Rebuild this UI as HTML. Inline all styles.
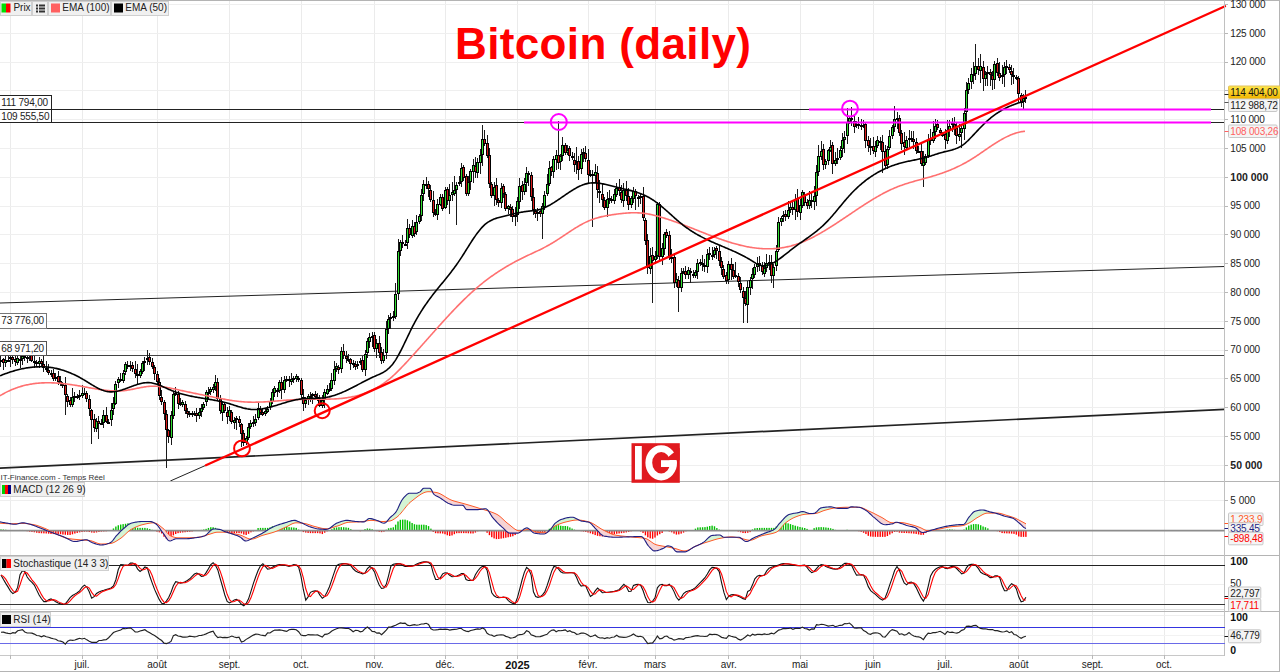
<!DOCTYPE html><html><head><meta charset="utf-8"><style>html,body{margin:0;padding:0;background:#fff;width:1280px;height:672px;overflow:hidden}svg{display:block}text{font-family:"Liberation Sans",sans-serif}</style></head><body>
<svg width="1280" height="672" viewBox="0 0 1280 672">
<g shape-rendering="crispEdges">
<line x1="10.5" y1="0" x2="10.5" y2="655" stroke="#ebebeb" stroke-width="1" />
<line x1="82.5" y1="0" x2="82.5" y2="655" stroke="#ebebeb" stroke-width="1" />
<line x1="157.5" y1="0" x2="157.5" y2="655" stroke="#ebebeb" stroke-width="1" />
<line x1="229.5" y1="0" x2="229.5" y2="655" stroke="#ebebeb" stroke-width="1" />
<line x1="301.5" y1="0" x2="301.5" y2="655" stroke="#ebebeb" stroke-width="1" />
<line x1="374.5" y1="0" x2="374.5" y2="655" stroke="#ebebeb" stroke-width="1" />
<line x1="445.5" y1="0" x2="445.5" y2="655" stroke="#ebebeb" stroke-width="1" />
<line x1="517.5" y1="0" x2="517.5" y2="655" stroke="#ebebeb" stroke-width="1" />
<line x1="588.5" y1="0" x2="588.5" y2="655" stroke="#ebebeb" stroke-width="1" />
<line x1="655.5" y1="0" x2="655.5" y2="655" stroke="#ebebeb" stroke-width="1" />
<line x1="728.5" y1="0" x2="728.5" y2="655" stroke="#ebebeb" stroke-width="1" />
<line x1="800.5" y1="0" x2="800.5" y2="655" stroke="#ebebeb" stroke-width="1" />
<line x1="873.5" y1="0" x2="873.5" y2="655" stroke="#ebebeb" stroke-width="1" />
<line x1="945.5" y1="0" x2="945.5" y2="655" stroke="#ebebeb" stroke-width="1" />
<line x1="1018.5" y1="0" x2="1018.5" y2="655" stroke="#ebebeb" stroke-width="1" />
<line x1="1092.5" y1="0" x2="1092.5" y2="655" stroke="#ebebeb" stroke-width="1" />
<line x1="1164.5" y1="0" x2="1164.5" y2="655" stroke="#ebebeb" stroke-width="1" />
<line x1="0" y1="4.5" x2="1224.5" y2="4.5" stroke="#efefef" stroke-width="1" />
<line x1="0" y1="33.5" x2="1224.5" y2="33.5" stroke="#efefef" stroke-width="1" />
<line x1="0" y1="62.5" x2="1224.5" y2="62.5" stroke="#efefef" stroke-width="1" />
<line x1="0" y1="90.5" x2="1224.5" y2="90.5" stroke="#efefef" stroke-width="1" />
<line x1="0" y1="119.5" x2="1224.5" y2="119.5" stroke="#efefef" stroke-width="1" />
<line x1="0" y1="148.5" x2="1224.5" y2="148.5" stroke="#efefef" stroke-width="1" />
<line x1="0" y1="177.5" x2="1224.5" y2="177.5" stroke="#efefef" stroke-width="1" />
<line x1="0" y1="206.5" x2="1224.5" y2="206.5" stroke="#efefef" stroke-width="1" />
<line x1="0" y1="234.5" x2="1224.5" y2="234.5" stroke="#efefef" stroke-width="1" />
<line x1="0" y1="263.5" x2="1224.5" y2="263.5" stroke="#efefef" stroke-width="1" />
<line x1="0" y1="292.5" x2="1224.5" y2="292.5" stroke="#efefef" stroke-width="1" />
<line x1="0" y1="321.5" x2="1224.5" y2="321.5" stroke="#efefef" stroke-width="1" />
<line x1="0" y1="350.5" x2="1224.5" y2="350.5" stroke="#efefef" stroke-width="1" />
<line x1="0" y1="378.5" x2="1224.5" y2="378.5" stroke="#efefef" stroke-width="1" />
<line x1="0" y1="407.5" x2="1224.5" y2="407.5" stroke="#efefef" stroke-width="1" />
<line x1="0" y1="436.5" x2="1224.5" y2="436.5" stroke="#efefef" stroke-width="1" />
<line x1="0" y1="465.5" x2="1224.5" y2="465.5" stroke="#efefef" stroke-width="1" />
<line x1="0" y1="500.5" x2="1224.5" y2="500.5" stroke="#eeeeee" stroke-width="1" />
<line x1="0" y1="584.5" x2="1224.5" y2="584.5" stroke="#eeeeee" stroke-width="1" />
<line x1="0" y1="615.5" x2="1224.5" y2="615.5" stroke="#eeeeee" stroke-width="1" />
<line x1="0" y1="635.5" x2="1224.5" y2="635.5" stroke="#f2f2f2" stroke-width="1" />
</g>
<g shape-rendering="crispEdges">
<line x1="0" y1="109.5" x2="809" y2="109.5" stroke="#222" stroke-width="1" />
<line x1="0" y1="122.5" x2="524" y2="122.5" stroke="#222" stroke-width="1" />
<line x1="1211" y1="109.5" x2="1224.5" y2="109.5" stroke="#222" stroke-width="1" />
<line x1="1211" y1="122.5" x2="1224.5" y2="122.5" stroke="#222" stroke-width="1" />
<line x1="0" y1="328.5" x2="1224.5" y2="328.5" stroke="#444" stroke-width="1" />
<line x1="0" y1="355.5" x2="1224.5" y2="355.5" stroke="#444" stroke-width="1" />
</g>
<line x1="0" y1="303" x2="1224.5" y2="266.5" stroke="#222" stroke-width="1" />
<line x1="0" y1="468.2" x2="1224.5" y2="409.3" stroke="#222" stroke-width="1.7" />
<line x1="170.3" y1="481" x2="205.9" y2="465.3" stroke="#222" stroke-width="1" />
<path d="M0.5 356V367M3.5 358V370M5.5 352V367M8.5 356V362M10.5 351V367M12.5 352V364M15.5 352V366M17.5 351V365M20.5 352V368M22.5 349V365M24.5 354V361M27.5 350V363M29.5 347V361M31.5 347V362M34.5 355V368M36.5 360V367M39.5 357V368M41.5 359V367M43.5 353V372M46.5 361V372M48.5 364V375M51.5 370V377M53.5 369V381M55.5 373V381M58.5 371V385M60.5 376V386M62.5 382V388M65.5 377V415M67.5 394V407M70.5 397V407M72.5 388V407M74.5 392V402M77.5 394V399M79.5 390V400M82.5 385V398M84.5 388V395M86.5 391V402M89.5 395V416M91.5 409V444M94.5 414V432M96.5 418V432M98.5 416V439M101.5 419V425M103.5 410V428M106.5 407V423M108.5 419V424M111.5 403V426M113.5 397V415M115.5 381V405M118.5 377V388M120.5 373V382M123.5 370V383M125.5 362V375M127.5 361V369M130.5 361V371M132.5 362V372M135.5 361V378M137.5 364V384M140.5 369V378M142.5 361V374M144.5 357V371M147.5 350V365M149.5 353V365M152.5 358V369M154.5 365V380M157.5 371V385M159.5 378V400M161.5 390V405M164.5 400V420M166.5 410V468M168.5 429V443M171.5 411V445M173.5 392V419M175.5 387V396M178.5 391V409M180.5 398V406M182.5 400V407M185.5 401V414M187.5 408V418M189.5 411V417M192.5 411V417M194.5 411V416M196.5 408V422M199.5 408V419M201.5 404V417M203.5 402V410M206.5 390V406M208.5 387V400M210.5 387V395M213.5 384V393M215.5 375V391M217.5 378V401M220.5 395V414M222.5 401V421M224.5 402V413M227.5 407V424M229.5 406V421M231.5 410V424M234.5 417V429M236.5 416V430M239.5 416V427M241.5 423V447M243.5 430V446M246.5 436V445M248.5 423V440M250.5 420V429M253.5 416V427M255.5 414V426M258.5 402V420M260.5 406V415M262.5 408V416M265.5 409V416M267.5 406V413M270.5 398V410M272.5 389V404M274.5 386V397M277.5 388V397M279.5 380V393M281.5 377V399M284.5 376V393M286.5 376V382M289.5 376V387M291.5 373V385M293.5 376V383M296.5 374V382M298.5 376V382M301.5 378V400M303.5 389V411M305.5 397V408M308.5 394V405M310.5 392V402M312.5 393V404M315.5 391V400M317.5 393V401M319.5 395V407M322.5 395V408M324.5 389V408M327.5 385V395M329.5 383V392M331.5 373V391M334.5 361V385M336.5 363V372M338.5 365V374M341.5 347V373M343.5 344V359M346.5 351V363M348.5 354V362M350.5 358V370M353.5 360V368M355.5 361V370M357.5 361V369M360.5 358V365M362.5 356V372M365.5 350V376M367.5 338V358M369.5 333V348M372.5 332V347M374.5 332V352M376.5 339V358M379.5 336V358M381.5 347V364M383.5 349V363M386.5 321V359M388.5 315V334M390.5 313V329M393.5 311V321M395.5 283V319M398.5 239V300M400.5 240V256M402.5 235V248M405.5 240V246M407.5 219V249M409.5 224V238M412.5 220V238M414.5 222V237M416.5 215V235M419.5 214V224M421.5 189V221M423.5 180V201M426.5 177V189M428.5 181V197M430.5 185V202M433.5 191V217M435.5 209V216M437.5 199V220M440.5 194V206M442.5 194V211M445.5 187V209M447.5 187V205M449.5 184V214M452.5 182V201M454.5 176V196M456.5 182V225M459.5 176V186M461.5 163V187M463.5 165V181M466.5 174V196M468.5 176V196M470.5 169V190M473.5 159V183M475.5 157V178M477.5 158V178M480.5 149V174M482.5 125V166M484.5 130V146M487.5 135V158M489.5 148V188M491.5 182V198M494.5 182V206M496.5 178V205M498.5 198V207M501.5 183V208M503.5 184V198M505.5 192V211M508.5 205V214M510.5 204V217M512.5 206V222M515.5 207V226M517.5 197V222M519.5 178V209M522.5 181V200M524.5 178V195M526.5 167V192M528.5 171V186M531.5 172V201M533.5 188V215M535.5 209V218M537.5 208V221M540.5 209V217M542.5 203V239M544.5 191V210M547.5 174V196M549.5 161V186M551.5 166V176M553.5 156V178M556.5 150V170M558.5 121V169M560.5 154V170M562.5 137V161M565.5 143V155M567.5 145V155M569.5 146V161M572.5 152V160M574.5 153V172M576.5 147V174M578.5 156V180M581.5 149V174M583.5 148V162M585.5 146V162M588.5 149V183M590.5 170V177M592.5 170V227M595.5 164V183M597.5 166V198M599.5 180V203M602.5 183V207M604.5 197V210M607.5 192V217M609.5 190V204M611.5 196V203M614.5 189V204M616.5 183V197M619.5 179V196M621.5 185V203M623.5 183V207M626.5 181V201M628.5 188V210M631.5 196V208M633.5 187V203M635.5 189V210M638.5 195V207M640.5 193V204M643.5 187V221M645.5 218V245M647.5 234V274M650.5 248V274M652.5 247V303M655.5 251V264M657.5 202V259M659.5 202V261M662.5 243V265M664.5 232V255M666.5 229V238M669.5 231V260M671.5 249V263M674.5 253V288M676.5 273V287M678.5 276V312M681.5 268V292M683.5 268V274M685.5 266V279M688.5 267V279M690.5 268V283M693.5 270V278M695.5 270V278M697.5 259V279M700.5 259V266M702.5 255V271M704.5 259V272M707.5 249V273M709.5 247V260M712.5 247V260M714.5 247V258M716.5 246V259M719.5 245V266M721.5 257V275M723.5 265V279M726.5 272V284M728.5 261V284M731.5 258V280M733.5 264V279M735.5 262V278M738.5 273V287M740.5 277V293M743.5 287V323M745.5 291V306M747.5 281V323M750.5 277V295M752.5 268V289M754.5 264V278M757.5 257V272M759.5 256V271M762.5 262V275M764.5 262V277M766.5 254V272M769.5 255V270M771.5 255V283M773.5 264V288M776.5 245V271M778.5 217V252M781.5 216V226M783.5 211V222M785.5 210V221M788.5 201V219M790.5 202V213M792.5 200V215M795.5 194V220M797.5 189V217M800.5 199V220M802.5 190V208M804.5 192V206M807.5 199V209M809.5 191V209M811.5 192V208M814.5 186V210M816.5 165V206M818.5 145V176M821.5 141V160M823.5 144V170M825.5 159V169M828.5 149V165M830.5 140V152M832.5 142V174M835.5 152V166M837.5 148V164M840.5 146V160M842.5 133V157M844.5 131V153M847.5 108V144M849.5 116V124M851.5 107V126M854.5 115V133M856.5 121V128M858.5 117V129M861.5 119V130M863.5 120V128M865.5 122V148M868.5 136V152M870.5 138V155M873.5 137V154M875.5 141V157M877.5 136V148M880.5 137V150M882.5 135V173M885.5 145V169M887.5 146V169M889.5 130V150M892.5 125V139M894.5 106V132M897.5 112V129M899.5 115V136M901.5 130V150M904.5 132V155M906.5 136V150M909.5 130V147M911.5 131V142M913.5 131V149M916.5 138V154M918.5 146V153M921.5 142V166M923.5 151V187M925.5 154V165M928.5 134V158M930.5 129V145M933.5 121V143M935.5 119V139M937.5 120V130M940.5 128V135M942.5 132V137M945.5 129V149M947.5 120V144M949.5 120V137M952.5 118V132M954.5 117V135M956.5 122V144M959.5 124V141M961.5 125V148M964.5 108V140M966.5 82V124M968.5 78V94M971.5 68V89M973.5 62V84M975.5 44V80M978.5 58V75M980.5 54V83M983.5 61V91M985.5 71V86M987.5 66V86M990.5 69V86M992.5 71V90M994.5 61V89M997.5 58V76M999.5 62V81M1002.5 65V84M1004.5 62V87M1006.5 60V74M1009.5 64V73M1011.5 65V85M1013.5 68V84M1016.5 75V80M1018.5 76V102M1021.5 93V107M1023.5 94V109M1025.5 90V103" stroke="#1a1a1a" stroke-width="1" fill="none" shape-rendering="crispEdges"/>
<rect x="-0.5" y="360.5" width="2" height="1" fill="#30dc30" stroke="#000" stroke-width="1" shape-rendering="crispEdges"/>
<rect x="2.5" y="359.5" width="2" height="3" fill="#d81c1c" stroke="#000" stroke-width="1" shape-rendering="crispEdges"/>
<rect x="4.5" y="360.5" width="2" height="2" fill="#30dc30" stroke="#000" stroke-width="1" shape-rendering="crispEdges"/>
<rect x="7.5" y="360.5" width="2" height="1" fill="#30dc30" stroke="#000" stroke-width="1" shape-rendering="crispEdges"/>
<rect x="9.5" y="357.5" width="2" height="1" fill="#30dc30" stroke="#000" stroke-width="1" shape-rendering="crispEdges"/>
<rect x="11.5" y="357.5" width="2" height="2" fill="#d81c1c" stroke="#000" stroke-width="1" shape-rendering="crispEdges"/>
<rect x="14.5" y="359.5" width="2" height="2" fill="#d81c1c" stroke="#000" stroke-width="1" shape-rendering="crispEdges"/>
<rect x="16.5" y="358.5" width="2" height="4" fill="#30dc30" stroke="#000" stroke-width="1" shape-rendering="crispEdges"/>
<rect x="19.5" y="359.5" width="2" height="1" fill="#d81c1c" stroke="#000" stroke-width="1" shape-rendering="crispEdges"/>
<rect x="21.5" y="356.5" width="2" height="2" fill="#30dc30" stroke="#000" stroke-width="1" shape-rendering="crispEdges"/>
<rect x="23.5" y="356.5" width="2" height="1" fill="#d81c1c" stroke="#000" stroke-width="1" shape-rendering="crispEdges"/>
<rect x="26.5" y="357.5" width="2" height="1" fill="#30dc30" stroke="#000" stroke-width="1" shape-rendering="crispEdges"/>
<rect x="28.5" y="350.5" width="2" height="5" fill="#30dc30" stroke="#000" stroke-width="1" shape-rendering="crispEdges"/>
<rect x="30.5" y="349.5" width="2" height="11" fill="#d81c1c" stroke="#000" stroke-width="1" shape-rendering="crispEdges"/>
<rect x="33.5" y="361.5" width="2" height="1" fill="#d81c1c" stroke="#000" stroke-width="1" shape-rendering="crispEdges"/>
<rect x="35.5" y="362.5" width="2" height="1" fill="#d81c1c" stroke="#000" stroke-width="1" shape-rendering="crispEdges"/>
<rect x="38.5" y="361.5" width="2" height="2" fill="#30dc30" stroke="#000" stroke-width="1" shape-rendering="crispEdges"/>
<rect x="40.5" y="361.5" width="2" height="2" fill="#d81c1c" stroke="#000" stroke-width="1" shape-rendering="crispEdges"/>
<rect x="42.5" y="364.5" width="2" height="3" fill="#d81c1c" stroke="#000" stroke-width="1" shape-rendering="crispEdges"/>
<rect x="45.5" y="368.5" width="2" height="1" fill="#d81c1c" stroke="#000" stroke-width="1" shape-rendering="crispEdges"/>
<rect x="47.5" y="370.5" width="2" height="2" fill="#d81c1c" stroke="#000" stroke-width="1" shape-rendering="crispEdges"/>
<rect x="50.5" y="373.5" width="2" height="1" fill="#d81c1c" stroke="#000" stroke-width="1" shape-rendering="crispEdges"/>
<rect x="52.5" y="373.5" width="2" height="5" fill="#d81c1c" stroke="#000" stroke-width="1" shape-rendering="crispEdges"/>
<rect x="54.5" y="377.5" width="2" height="1" fill="#30dc30" stroke="#000" stroke-width="1" shape-rendering="crispEdges"/>
<rect x="57.5" y="376.5" width="2" height="5" fill="#d81c1c" stroke="#000" stroke-width="1" shape-rendering="crispEdges"/>
<rect x="59.5" y="381.5" width="2" height="2" fill="#d81c1c" stroke="#000" stroke-width="1" shape-rendering="crispEdges"/>
<rect x="61.5" y="384.5" width="2" height="1" fill="#d81c1c" stroke="#000" stroke-width="1" shape-rendering="crispEdges"/>
<rect x="64.5" y="385.5" width="2" height="9" fill="#d81c1c" stroke="#000" stroke-width="1" shape-rendering="crispEdges"/>
<rect x="66.5" y="396.5" width="2" height="5" fill="#d81c1c" stroke="#000" stroke-width="1" shape-rendering="crispEdges"/>
<rect x="69.5" y="400.5" width="2" height="4" fill="#d81c1c" stroke="#000" stroke-width="1" shape-rendering="crispEdges"/>
<rect x="71.5" y="397.5" width="2" height="7" fill="#30dc30" stroke="#000" stroke-width="1" shape-rendering="crispEdges"/>
<rect x="73.5" y="396.5" width="2" height="1" fill="#30dc30" stroke="#000" stroke-width="1" shape-rendering="crispEdges"/>
<rect x="76.5" y="396.5" width="2" height="1" fill="#d81c1c" stroke="#000" stroke-width="1" shape-rendering="crispEdges"/>
<rect x="78.5" y="395.5" width="2" height="1" fill="#d81c1c" stroke="#000" stroke-width="1" shape-rendering="crispEdges"/>
<rect x="81.5" y="393.5" width="2" height="2" fill="#30dc30" stroke="#000" stroke-width="1" shape-rendering="crispEdges"/>
<rect x="83.5" y="393.5" width="2" height="1" fill="#d81c1c" stroke="#000" stroke-width="1" shape-rendering="crispEdges"/>
<rect x="85.5" y="393.5" width="2" height="5" fill="#d81c1c" stroke="#000" stroke-width="1" shape-rendering="crispEdges"/>
<rect x="88.5" y="399.5" width="2" height="9" fill="#d81c1c" stroke="#000" stroke-width="1" shape-rendering="crispEdges"/>
<rect x="90.5" y="410.5" width="2" height="9" fill="#d81c1c" stroke="#000" stroke-width="1" shape-rendering="crispEdges"/>
<rect x="93.5" y="419.5" width="2" height="8" fill="#d81c1c" stroke="#000" stroke-width="1" shape-rendering="crispEdges"/>
<rect x="95.5" y="421.5" width="2" height="7" fill="#30dc30" stroke="#000" stroke-width="1" shape-rendering="crispEdges"/>
<rect x="97.5" y="421.5" width="2" height="2" fill="#d81c1c" stroke="#000" stroke-width="1" shape-rendering="crispEdges"/>
<rect x="100.5" y="423.5" width="2" height="1" fill="#30dc30" stroke="#000" stroke-width="1" shape-rendering="crispEdges"/>
<rect x="102.5" y="415.5" width="2" height="7" fill="#30dc30" stroke="#000" stroke-width="1" shape-rendering="crispEdges"/>
<rect x="105.5" y="415.5" width="2" height="6" fill="#d81c1c" stroke="#000" stroke-width="1" shape-rendering="crispEdges"/>
<rect x="107.5" y="422.5" width="2" height="1" fill="#30dc30" stroke="#000" stroke-width="1" shape-rendering="crispEdges"/>
<rect x="110.5" y="410.5" width="2" height="9" fill="#30dc30" stroke="#000" stroke-width="1" shape-rendering="crispEdges"/>
<rect x="112.5" y="403.5" width="2" height="5" fill="#30dc30" stroke="#000" stroke-width="1" shape-rendering="crispEdges"/>
<rect x="114.5" y="384.5" width="2" height="19" fill="#30dc30" stroke="#000" stroke-width="1" shape-rendering="crispEdges"/>
<rect x="117.5" y="379.5" width="2" height="3" fill="#30dc30" stroke="#000" stroke-width="1" shape-rendering="crispEdges"/>
<rect x="119.5" y="379.5" width="2" height="1" fill="#d81c1c" stroke="#000" stroke-width="1" shape-rendering="crispEdges"/>
<rect x="122.5" y="373.5" width="2" height="7" fill="#30dc30" stroke="#000" stroke-width="1" shape-rendering="crispEdges"/>
<rect x="124.5" y="364.5" width="2" height="7" fill="#30dc30" stroke="#000" stroke-width="1" shape-rendering="crispEdges"/>
<rect x="126.5" y="365.5" width="2" height="1" fill="#d81c1c" stroke="#000" stroke-width="1" shape-rendering="crispEdges"/>
<rect x="129.5" y="365.5" width="2" height="1" fill="#30dc30" stroke="#000" stroke-width="1" shape-rendering="crispEdges"/>
<rect x="131.5" y="365.5" width="2" height="3" fill="#d81c1c" stroke="#000" stroke-width="1" shape-rendering="crispEdges"/>
<rect x="134.5" y="369.5" width="2" height="4" fill="#d81c1c" stroke="#000" stroke-width="1" shape-rendering="crispEdges"/>
<rect x="136.5" y="374.5" width="2" height="1" fill="#d81c1c" stroke="#000" stroke-width="1" shape-rendering="crispEdges"/>
<rect x="139.5" y="371.5" width="2" height="4" fill="#30dc30" stroke="#000" stroke-width="1" shape-rendering="crispEdges"/>
<rect x="141.5" y="363.5" width="2" height="8" fill="#30dc30" stroke="#000" stroke-width="1" shape-rendering="crispEdges"/>
<rect x="143.5" y="361.5" width="2" height="1" fill="#30dc30" stroke="#000" stroke-width="1" shape-rendering="crispEdges"/>
<rect x="146.5" y="358.5" width="2" height="1" fill="#30dc30" stroke="#000" stroke-width="1" shape-rendering="crispEdges"/>
<rect x="148.5" y="357.5" width="2" height="4" fill="#d81c1c" stroke="#000" stroke-width="1" shape-rendering="crispEdges"/>
<rect x="151.5" y="362.5" width="2" height="4" fill="#d81c1c" stroke="#000" stroke-width="1" shape-rendering="crispEdges"/>
<rect x="153.5" y="367.5" width="2" height="6" fill="#d81c1c" stroke="#000" stroke-width="1" shape-rendering="crispEdges"/>
<rect x="156.5" y="374.5" width="2" height="7" fill="#d81c1c" stroke="#000" stroke-width="1" shape-rendering="crispEdges"/>
<rect x="158.5" y="382.5" width="2" height="13" fill="#d81c1c" stroke="#000" stroke-width="1" shape-rendering="crispEdges"/>
<rect x="160.5" y="397.5" width="2" height="4" fill="#d81c1c" stroke="#000" stroke-width="1" shape-rendering="crispEdges"/>
<rect x="163.5" y="402.5" width="2" height="11" fill="#d81c1c" stroke="#000" stroke-width="1" shape-rendering="crispEdges"/>
<rect x="165.5" y="414.5" width="2" height="15" fill="#d81c1c" stroke="#000" stroke-width="1" shape-rendering="crispEdges"/>
<rect x="167.5" y="430.5" width="2" height="6" fill="#d81c1c" stroke="#000" stroke-width="1" shape-rendering="crispEdges"/>
<rect x="170.5" y="415.5" width="2" height="22" fill="#30dc30" stroke="#000" stroke-width="1" shape-rendering="crispEdges"/>
<rect x="172.5" y="394.5" width="2" height="21" fill="#30dc30" stroke="#000" stroke-width="1" shape-rendering="crispEdges"/>
<rect x="174.5" y="393.5" width="2" height="1" fill="#30dc30" stroke="#000" stroke-width="1" shape-rendering="crispEdges"/>
<rect x="177.5" y="394.5" width="2" height="9" fill="#d81c1c" stroke="#000" stroke-width="1" shape-rendering="crispEdges"/>
<rect x="179.5" y="403.5" width="2" height="1" fill="#d81c1c" stroke="#000" stroke-width="1" shape-rendering="crispEdges"/>
<rect x="181.5" y="402.5" width="2" height="2" fill="#30dc30" stroke="#000" stroke-width="1" shape-rendering="crispEdges"/>
<rect x="184.5" y="404.5" width="2" height="6" fill="#d81c1c" stroke="#000" stroke-width="1" shape-rendering="crispEdges"/>
<rect x="186.5" y="411.5" width="2" height="2" fill="#d81c1c" stroke="#000" stroke-width="1" shape-rendering="crispEdges"/>
<rect x="188.5" y="413.5" width="2" height="1" fill="#d81c1c" stroke="#000" stroke-width="1" shape-rendering="crispEdges"/>
<rect x="191.5" y="413.5" width="2" height="1" fill="#d81c1c" stroke="#000" stroke-width="1" shape-rendering="crispEdges"/>
<rect x="193.5" y="413.5" width="2" height="1" fill="#30dc30" stroke="#000" stroke-width="1" shape-rendering="crispEdges"/>
<rect x="195.5" y="413.5" width="2" height="2" fill="#d81c1c" stroke="#000" stroke-width="1" shape-rendering="crispEdges"/>
<rect x="198.5" y="412.5" width="2" height="3" fill="#30dc30" stroke="#000" stroke-width="1" shape-rendering="crispEdges"/>
<rect x="200.5" y="408.5" width="2" height="3" fill="#30dc30" stroke="#000" stroke-width="1" shape-rendering="crispEdges"/>
<rect x="202.5" y="404.5" width="2" height="3" fill="#30dc30" stroke="#000" stroke-width="1" shape-rendering="crispEdges"/>
<rect x="205.5" y="392.5" width="2" height="9" fill="#30dc30" stroke="#000" stroke-width="1" shape-rendering="crispEdges"/>
<rect x="207.5" y="392.5" width="2" height="1" fill="#30dc30" stroke="#000" stroke-width="1" shape-rendering="crispEdges"/>
<rect x="209.5" y="389.5" width="2" height="2" fill="#30dc30" stroke="#000" stroke-width="1" shape-rendering="crispEdges"/>
<rect x="212.5" y="387.5" width="2" height="2" fill="#30dc30" stroke="#000" stroke-width="1" shape-rendering="crispEdges"/>
<rect x="214.5" y="382.5" width="2" height="4" fill="#30dc30" stroke="#000" stroke-width="1" shape-rendering="crispEdges"/>
<rect x="216.5" y="382.5" width="2" height="16" fill="#d81c1c" stroke="#000" stroke-width="1" shape-rendering="crispEdges"/>
<rect x="219.5" y="399.5" width="2" height="11" fill="#d81c1c" stroke="#000" stroke-width="1" shape-rendering="crispEdges"/>
<rect x="221.5" y="404.5" width="2" height="8" fill="#30dc30" stroke="#000" stroke-width="1" shape-rendering="crispEdges"/>
<rect x="223.5" y="404.5" width="2" height="6" fill="#d81c1c" stroke="#000" stroke-width="1" shape-rendering="crispEdges"/>
<rect x="226.5" y="412.5" width="2" height="4" fill="#d81c1c" stroke="#000" stroke-width="1" shape-rendering="crispEdges"/>
<rect x="228.5" y="410.5" width="2" height="6" fill="#30dc30" stroke="#000" stroke-width="1" shape-rendering="crispEdges"/>
<rect x="230.5" y="412.5" width="2" height="9" fill="#d81c1c" stroke="#000" stroke-width="1" shape-rendering="crispEdges"/>
<rect x="233.5" y="420.5" width="2" height="2" fill="#30dc30" stroke="#000" stroke-width="1" shape-rendering="crispEdges"/>
<rect x="235.5" y="418.5" width="2" height="1" fill="#30dc30" stroke="#000" stroke-width="1" shape-rendering="crispEdges"/>
<rect x="238.5" y="419.5" width="2" height="3" fill="#d81c1c" stroke="#000" stroke-width="1" shape-rendering="crispEdges"/>
<rect x="240.5" y="424.5" width="2" height="9" fill="#d81c1c" stroke="#000" stroke-width="1" shape-rendering="crispEdges"/>
<rect x="242.5" y="433.5" width="2" height="9" fill="#d81c1c" stroke="#000" stroke-width="1" shape-rendering="crispEdges"/>
<rect x="245.5" y="438.5" width="2" height="4" fill="#30dc30" stroke="#000" stroke-width="1" shape-rendering="crispEdges"/>
<rect x="247.5" y="427.5" width="2" height="10" fill="#30dc30" stroke="#000" stroke-width="1" shape-rendering="crispEdges"/>
<rect x="249.5" y="423.5" width="2" height="3" fill="#30dc30" stroke="#000" stroke-width="1" shape-rendering="crispEdges"/>
<rect x="252.5" y="422.5" width="2" height="1" fill="#d81c1c" stroke="#000" stroke-width="1" shape-rendering="crispEdges"/>
<rect x="254.5" y="419.5" width="2" height="3" fill="#30dc30" stroke="#000" stroke-width="1" shape-rendering="crispEdges"/>
<rect x="257.5" y="408.5" width="2" height="9" fill="#30dc30" stroke="#000" stroke-width="1" shape-rendering="crispEdges"/>
<rect x="259.5" y="409.5" width="2" height="3" fill="#d81c1c" stroke="#000" stroke-width="1" shape-rendering="crispEdges"/>
<rect x="261.5" y="412.5" width="2" height="2" fill="#d81c1c" stroke="#000" stroke-width="1" shape-rendering="crispEdges"/>
<rect x="264.5" y="411.5" width="2" height="2" fill="#30dc30" stroke="#000" stroke-width="1" shape-rendering="crispEdges"/>
<rect x="266.5" y="409.5" width="2" height="2" fill="#30dc30" stroke="#000" stroke-width="1" shape-rendering="crispEdges"/>
<rect x="269.5" y="401.5" width="2" height="5" fill="#30dc30" stroke="#000" stroke-width="1" shape-rendering="crispEdges"/>
<rect x="271.5" y="392.5" width="2" height="9" fill="#30dc30" stroke="#000" stroke-width="1" shape-rendering="crispEdges"/>
<rect x="273.5" y="388.5" width="2" height="4" fill="#30dc30" stroke="#000" stroke-width="1" shape-rendering="crispEdges"/>
<rect x="276.5" y="390.5" width="2" height="1" fill="#d81c1c" stroke="#000" stroke-width="1" shape-rendering="crispEdges"/>
<rect x="278.5" y="382.5" width="2" height="8" fill="#30dc30" stroke="#000" stroke-width="1" shape-rendering="crispEdges"/>
<rect x="280.5" y="382.5" width="2" height="7" fill="#d81c1c" stroke="#000" stroke-width="1" shape-rendering="crispEdges"/>
<rect x="283.5" y="380.5" width="2" height="9" fill="#30dc30" stroke="#000" stroke-width="1" shape-rendering="crispEdges"/>
<rect x="285.5" y="379.5" width="2" height="1" fill="#d81c1c" stroke="#000" stroke-width="1" shape-rendering="crispEdges"/>
<rect x="288.5" y="379.5" width="2" height="1" fill="#d81c1c" stroke="#000" stroke-width="1" shape-rendering="crispEdges"/>
<rect x="290.5" y="379.5" width="2" height="2" fill="#30dc30" stroke="#000" stroke-width="1" shape-rendering="crispEdges"/>
<rect x="292.5" y="378.5" width="2" height="1" fill="#d81c1c" stroke="#000" stroke-width="1" shape-rendering="crispEdges"/>
<rect x="295.5" y="376.5" width="2" height="2" fill="#30dc30" stroke="#000" stroke-width="1" shape-rendering="crispEdges"/>
<rect x="297.5" y="378.5" width="2" height="1" fill="#d81c1c" stroke="#000" stroke-width="1" shape-rendering="crispEdges"/>
<rect x="300.5" y="380.5" width="2" height="14" fill="#d81c1c" stroke="#000" stroke-width="1" shape-rendering="crispEdges"/>
<rect x="302.5" y="397.5" width="2" height="6" fill="#d81c1c" stroke="#000" stroke-width="1" shape-rendering="crispEdges"/>
<rect x="304.5" y="400.5" width="2" height="3" fill="#30dc30" stroke="#000" stroke-width="1" shape-rendering="crispEdges"/>
<rect x="307.5" y="396.5" width="2" height="3" fill="#30dc30" stroke="#000" stroke-width="1" shape-rendering="crispEdges"/>
<rect x="309.5" y="396.5" width="2" height="1" fill="#d81c1c" stroke="#000" stroke-width="1" shape-rendering="crispEdges"/>
<rect x="311.5" y="394.5" width="2" height="1" fill="#30dc30" stroke="#000" stroke-width="1" shape-rendering="crispEdges"/>
<rect x="314.5" y="394.5" width="2" height="2" fill="#d81c1c" stroke="#000" stroke-width="1" shape-rendering="crispEdges"/>
<rect x="316.5" y="397.5" width="2" height="1" fill="#d81c1c" stroke="#000" stroke-width="1" shape-rendering="crispEdges"/>
<rect x="318.5" y="399.5" width="2" height="6" fill="#d81c1c" stroke="#000" stroke-width="1" shape-rendering="crispEdges"/>
<rect x="321.5" y="400.5" width="2" height="5" fill="#30dc30" stroke="#000" stroke-width="1" shape-rendering="crispEdges"/>
<rect x="323.5" y="392.5" width="2" height="6" fill="#30dc30" stroke="#000" stroke-width="1" shape-rendering="crispEdges"/>
<rect x="326.5" y="389.5" width="2" height="4" fill="#30dc30" stroke="#000" stroke-width="1" shape-rendering="crispEdges"/>
<rect x="328.5" y="389.5" width="2" height="1" fill="#30dc30" stroke="#000" stroke-width="1" shape-rendering="crispEdges"/>
<rect x="330.5" y="380.5" width="2" height="8" fill="#30dc30" stroke="#000" stroke-width="1" shape-rendering="crispEdges"/>
<rect x="333.5" y="369.5" width="2" height="11" fill="#30dc30" stroke="#000" stroke-width="1" shape-rendering="crispEdges"/>
<rect x="335.5" y="366.5" width="2" height="2" fill="#30dc30" stroke="#000" stroke-width="1" shape-rendering="crispEdges"/>
<rect x="337.5" y="367.5" width="2" height="2" fill="#d81c1c" stroke="#000" stroke-width="1" shape-rendering="crispEdges"/>
<rect x="340.5" y="351.5" width="2" height="17" fill="#30dc30" stroke="#000" stroke-width="1" shape-rendering="crispEdges"/>
<rect x="342.5" y="351.5" width="2" height="4" fill="#d81c1c" stroke="#000" stroke-width="1" shape-rendering="crispEdges"/>
<rect x="345.5" y="356.5" width="2" height="2" fill="#d81c1c" stroke="#000" stroke-width="1" shape-rendering="crispEdges"/>
<rect x="347.5" y="359.5" width="2" height="1" fill="#30dc30" stroke="#000" stroke-width="1" shape-rendering="crispEdges"/>
<rect x="349.5" y="359.5" width="2" height="4" fill="#d81c1c" stroke="#000" stroke-width="1" shape-rendering="crispEdges"/>
<rect x="352.5" y="363.5" width="2" height="1" fill="#d81c1c" stroke="#000" stroke-width="1" shape-rendering="crispEdges"/>
<rect x="354.5" y="364.5" width="2" height="2" fill="#d81c1c" stroke="#000" stroke-width="1" shape-rendering="crispEdges"/>
<rect x="356.5" y="364.5" width="2" height="1" fill="#30dc30" stroke="#000" stroke-width="1" shape-rendering="crispEdges"/>
<rect x="359.5" y="361.5" width="2" height="1" fill="#30dc30" stroke="#000" stroke-width="1" shape-rendering="crispEdges"/>
<rect x="361.5" y="360.5" width="2" height="9" fill="#d81c1c" stroke="#000" stroke-width="1" shape-rendering="crispEdges"/>
<rect x="364.5" y="354.5" width="2" height="15" fill="#30dc30" stroke="#000" stroke-width="1" shape-rendering="crispEdges"/>
<rect x="366.5" y="341.5" width="2" height="11" fill="#30dc30" stroke="#000" stroke-width="1" shape-rendering="crispEdges"/>
<rect x="368.5" y="337.5" width="2" height="4" fill="#30dc30" stroke="#000" stroke-width="1" shape-rendering="crispEdges"/>
<rect x="371.5" y="336.5" width="2" height="1" fill="#d81c1c" stroke="#000" stroke-width="1" shape-rendering="crispEdges"/>
<rect x="373.5" y="335.5" width="2" height="13" fill="#d81c1c" stroke="#000" stroke-width="1" shape-rendering="crispEdges"/>
<rect x="375.5" y="343.5" width="2" height="5" fill="#30dc30" stroke="#000" stroke-width="1" shape-rendering="crispEdges"/>
<rect x="378.5" y="343.5" width="2" height="9" fill="#d81c1c" stroke="#000" stroke-width="1" shape-rendering="crispEdges"/>
<rect x="380.5" y="352.5" width="2" height="8" fill="#d81c1c" stroke="#000" stroke-width="1" shape-rendering="crispEdges"/>
<rect x="382.5" y="355.5" width="2" height="5" fill="#30dc30" stroke="#000" stroke-width="1" shape-rendering="crispEdges"/>
<rect x="385.5" y="329.5" width="2" height="23" fill="#30dc30" stroke="#000" stroke-width="1" shape-rendering="crispEdges"/>
<rect x="387.5" y="319.5" width="2" height="9" fill="#30dc30" stroke="#000" stroke-width="1" shape-rendering="crispEdges"/>
<rect x="389.5" y="317.5" width="2" height="1" fill="#30dc30" stroke="#000" stroke-width="1" shape-rendering="crispEdges"/>
<rect x="392.5" y="316.5" width="2" height="1" fill="#30dc30" stroke="#000" stroke-width="1" shape-rendering="crispEdges"/>
<rect x="394.5" y="294.5" width="2" height="22" fill="#30dc30" stroke="#000" stroke-width="1" shape-rendering="crispEdges"/>
<rect x="397.5" y="251.5" width="2" height="42" fill="#30dc30" stroke="#000" stroke-width="1" shape-rendering="crispEdges"/>
<rect x="399.5" y="242.5" width="2" height="8" fill="#30dc30" stroke="#000" stroke-width="1" shape-rendering="crispEdges"/>
<rect x="401.5" y="242.5" width="2" height="1" fill="#d81c1c" stroke="#000" stroke-width="1" shape-rendering="crispEdges"/>
<rect x="404.5" y="244.5" width="2" height="1" fill="#d81c1c" stroke="#000" stroke-width="1" shape-rendering="crispEdges"/>
<rect x="406.5" y="228.5" width="2" height="14" fill="#30dc30" stroke="#000" stroke-width="1" shape-rendering="crispEdges"/>
<rect x="408.5" y="228.5" width="2" height="6" fill="#d81c1c" stroke="#000" stroke-width="1" shape-rendering="crispEdges"/>
<rect x="411.5" y="226.5" width="2" height="9" fill="#30dc30" stroke="#000" stroke-width="1" shape-rendering="crispEdges"/>
<rect x="413.5" y="226.5" width="2" height="7" fill="#d81c1c" stroke="#000" stroke-width="1" shape-rendering="crispEdges"/>
<rect x="415.5" y="222.5" width="2" height="9" fill="#30dc30" stroke="#000" stroke-width="1" shape-rendering="crispEdges"/>
<rect x="418.5" y="216.5" width="2" height="5" fill="#30dc30" stroke="#000" stroke-width="1" shape-rendering="crispEdges"/>
<rect x="420.5" y="195.5" width="2" height="20" fill="#30dc30" stroke="#000" stroke-width="1" shape-rendering="crispEdges"/>
<rect x="422.5" y="184.5" width="2" height="9" fill="#30dc30" stroke="#000" stroke-width="1" shape-rendering="crispEdges"/>
<rect x="425.5" y="184.5" width="2" height="1" fill="#d81c1c" stroke="#000" stroke-width="1" shape-rendering="crispEdges"/>
<rect x="427.5" y="184.5" width="2" height="4" fill="#d81c1c" stroke="#000" stroke-width="1" shape-rendering="crispEdges"/>
<rect x="429.5" y="190.5" width="2" height="9" fill="#d81c1c" stroke="#000" stroke-width="1" shape-rendering="crispEdges"/>
<rect x="432.5" y="200.5" width="2" height="12" fill="#d81c1c" stroke="#000" stroke-width="1" shape-rendering="crispEdges"/>
<rect x="434.5" y="213.5" width="2" height="1" fill="#d81c1c" stroke="#000" stroke-width="1" shape-rendering="crispEdges"/>
<rect x="436.5" y="204.5" width="2" height="10" fill="#30dc30" stroke="#000" stroke-width="1" shape-rendering="crispEdges"/>
<rect x="439.5" y="197.5" width="2" height="7" fill="#30dc30" stroke="#000" stroke-width="1" shape-rendering="crispEdges"/>
<rect x="441.5" y="197.5" width="2" height="11" fill="#d81c1c" stroke="#000" stroke-width="1" shape-rendering="crispEdges"/>
<rect x="444.5" y="190.5" width="2" height="17" fill="#30dc30" stroke="#000" stroke-width="1" shape-rendering="crispEdges"/>
<rect x="446.5" y="189.5" width="2" height="11" fill="#d81c1c" stroke="#000" stroke-width="1" shape-rendering="crispEdges"/>
<rect x="448.5" y="195.5" width="2" height="5" fill="#30dc30" stroke="#000" stroke-width="1" shape-rendering="crispEdges"/>
<rect x="451.5" y="192.5" width="2" height="2" fill="#30dc30" stroke="#000" stroke-width="1" shape-rendering="crispEdges"/>
<rect x="453.5" y="190.5" width="2" height="3" fill="#30dc30" stroke="#000" stroke-width="1" shape-rendering="crispEdges"/>
<rect x="455.5" y="185.5" width="2" height="4" fill="#30dc30" stroke="#000" stroke-width="1" shape-rendering="crispEdges"/>
<rect x="458.5" y="182.5" width="2" height="1" fill="#30dc30" stroke="#000" stroke-width="1" shape-rendering="crispEdges"/>
<rect x="460.5" y="168.5" width="2" height="13" fill="#30dc30" stroke="#000" stroke-width="1" shape-rendering="crispEdges"/>
<rect x="462.5" y="167.5" width="2" height="10" fill="#d81c1c" stroke="#000" stroke-width="1" shape-rendering="crispEdges"/>
<rect x="465.5" y="176.5" width="2" height="17" fill="#d81c1c" stroke="#000" stroke-width="1" shape-rendering="crispEdges"/>
<rect x="467.5" y="182.5" width="2" height="11" fill="#30dc30" stroke="#000" stroke-width="1" shape-rendering="crispEdges"/>
<rect x="469.5" y="171.5" width="2" height="10" fill="#30dc30" stroke="#000" stroke-width="1" shape-rendering="crispEdges"/>
<rect x="472.5" y="165.5" width="2" height="6" fill="#30dc30" stroke="#000" stroke-width="1" shape-rendering="crispEdges"/>
<rect x="474.5" y="166.5" width="2" height="5" fill="#d81c1c" stroke="#000" stroke-width="1" shape-rendering="crispEdges"/>
<rect x="476.5" y="162.5" width="2" height="10" fill="#30dc30" stroke="#000" stroke-width="1" shape-rendering="crispEdges"/>
<rect x="479.5" y="155.5" width="2" height="7" fill="#30dc30" stroke="#000" stroke-width="1" shape-rendering="crispEdges"/>
<rect x="481.5" y="139.5" width="2" height="15" fill="#30dc30" stroke="#000" stroke-width="1" shape-rendering="crispEdges"/>
<rect x="483.5" y="139.5" width="2" height="4" fill="#d81c1c" stroke="#000" stroke-width="1" shape-rendering="crispEdges"/>
<rect x="486.5" y="143.5" width="2" height="12" fill="#d81c1c" stroke="#000" stroke-width="1" shape-rendering="crispEdges"/>
<rect x="488.5" y="155.5" width="2" height="28" fill="#d81c1c" stroke="#000" stroke-width="1" shape-rendering="crispEdges"/>
<rect x="490.5" y="184.5" width="2" height="11" fill="#d81c1c" stroke="#000" stroke-width="1" shape-rendering="crispEdges"/>
<rect x="493.5" y="187.5" width="2" height="8" fill="#30dc30" stroke="#000" stroke-width="1" shape-rendering="crispEdges"/>
<rect x="495.5" y="185.5" width="2" height="14" fill="#d81c1c" stroke="#000" stroke-width="1" shape-rendering="crispEdges"/>
<rect x="497.5" y="200.5" width="2" height="2" fill="#d81c1c" stroke="#000" stroke-width="1" shape-rendering="crispEdges"/>
<rect x="500.5" y="188.5" width="2" height="14" fill="#30dc30" stroke="#000" stroke-width="1" shape-rendering="crispEdges"/>
<rect x="502.5" y="186.5" width="2" height="7" fill="#d81c1c" stroke="#000" stroke-width="1" shape-rendering="crispEdges"/>
<rect x="504.5" y="194.5" width="2" height="14" fill="#d81c1c" stroke="#000" stroke-width="1" shape-rendering="crispEdges"/>
<rect x="507.5" y="206.5" width="2" height="2" fill="#30dc30" stroke="#000" stroke-width="1" shape-rendering="crispEdges"/>
<rect x="509.5" y="207.5" width="2" height="2" fill="#d81c1c" stroke="#000" stroke-width="1" shape-rendering="crispEdges"/>
<rect x="511.5" y="209.5" width="2" height="7" fill="#d81c1c" stroke="#000" stroke-width="1" shape-rendering="crispEdges"/>
<rect x="514.5" y="215.5" width="2" height="1" fill="#30dc30" stroke="#000" stroke-width="1" shape-rendering="crispEdges"/>
<rect x="516.5" y="201.5" width="2" height="13" fill="#30dc30" stroke="#000" stroke-width="1" shape-rendering="crispEdges"/>
<rect x="518.5" y="186.5" width="2" height="15" fill="#30dc30" stroke="#000" stroke-width="1" shape-rendering="crispEdges"/>
<rect x="521.5" y="185.5" width="2" height="6" fill="#d81c1c" stroke="#000" stroke-width="1" shape-rendering="crispEdges"/>
<rect x="523.5" y="184.5" width="2" height="7" fill="#30dc30" stroke="#000" stroke-width="1" shape-rendering="crispEdges"/>
<rect x="525.5" y="173.5" width="2" height="9" fill="#30dc30" stroke="#000" stroke-width="1" shape-rendering="crispEdges"/>
<rect x="527.5" y="173.5" width="2" height="1" fill="#d81c1c" stroke="#000" stroke-width="1" shape-rendering="crispEdges"/>
<rect x="530.5" y="175.5" width="2" height="21" fill="#d81c1c" stroke="#000" stroke-width="1" shape-rendering="crispEdges"/>
<rect x="532.5" y="197.5" width="2" height="12" fill="#d81c1c" stroke="#000" stroke-width="1" shape-rendering="crispEdges"/>
<rect x="534.5" y="211.5" width="2" height="2" fill="#d81c1c" stroke="#000" stroke-width="1" shape-rendering="crispEdges"/>
<rect x="536.5" y="212.5" width="2" height="1" fill="#30dc30" stroke="#000" stroke-width="1" shape-rendering="crispEdges"/>
<rect x="539.5" y="211.5" width="2" height="2" fill="#d81c1c" stroke="#000" stroke-width="1" shape-rendering="crispEdges"/>
<rect x="541.5" y="206.5" width="2" height="7" fill="#30dc30" stroke="#000" stroke-width="1" shape-rendering="crispEdges"/>
<rect x="543.5" y="195.5" width="2" height="11" fill="#30dc30" stroke="#000" stroke-width="1" shape-rendering="crispEdges"/>
<rect x="546.5" y="184.5" width="2" height="9" fill="#30dc30" stroke="#000" stroke-width="1" shape-rendering="crispEdges"/>
<rect x="548.5" y="168.5" width="2" height="15" fill="#30dc30" stroke="#000" stroke-width="1" shape-rendering="crispEdges"/>
<rect x="550.5" y="167.5" width="2" height="4" fill="#d81c1c" stroke="#000" stroke-width="1" shape-rendering="crispEdges"/>
<rect x="552.5" y="159.5" width="2" height="12" fill="#30dc30" stroke="#000" stroke-width="1" shape-rendering="crispEdges"/>
<rect x="555.5" y="155.5" width="2" height="4" fill="#30dc30" stroke="#000" stroke-width="1" shape-rendering="crispEdges"/>
<rect x="557.5" y="155.5" width="2" height="7" fill="#d81c1c" stroke="#000" stroke-width="1" shape-rendering="crispEdges"/>
<rect x="559.5" y="156.5" width="2" height="5" fill="#30dc30" stroke="#000" stroke-width="1" shape-rendering="crispEdges"/>
<rect x="561.5" y="145.5" width="2" height="10" fill="#30dc30" stroke="#000" stroke-width="1" shape-rendering="crispEdges"/>
<rect x="564.5" y="145.5" width="2" height="7" fill="#d81c1c" stroke="#000" stroke-width="1" shape-rendering="crispEdges"/>
<rect x="566.5" y="150.5" width="2" height="2" fill="#30dc30" stroke="#000" stroke-width="1" shape-rendering="crispEdges"/>
<rect x="568.5" y="148.5" width="2" height="7" fill="#d81c1c" stroke="#000" stroke-width="1" shape-rendering="crispEdges"/>
<rect x="571.5" y="156.5" width="2" height="1" fill="#d81c1c" stroke="#000" stroke-width="1" shape-rendering="crispEdges"/>
<rect x="573.5" y="160.5" width="2" height="4" fill="#d81c1c" stroke="#000" stroke-width="1" shape-rendering="crispEdges"/>
<rect x="575.5" y="161.5" width="2" height="1" fill="#30dc30" stroke="#000" stroke-width="1" shape-rendering="crispEdges"/>
<rect x="577.5" y="161.5" width="2" height="8" fill="#d81c1c" stroke="#000" stroke-width="1" shape-rendering="crispEdges"/>
<rect x="580.5" y="154.5" width="2" height="14" fill="#30dc30" stroke="#000" stroke-width="1" shape-rendering="crispEdges"/>
<rect x="582.5" y="152.5" width="2" height="1" fill="#30dc30" stroke="#000" stroke-width="1" shape-rendering="crispEdges"/>
<rect x="584.5" y="153.5" width="2" height="5" fill="#d81c1c" stroke="#000" stroke-width="1" shape-rendering="crispEdges"/>
<rect x="587.5" y="160.5" width="2" height="14" fill="#d81c1c" stroke="#000" stroke-width="1" shape-rendering="crispEdges"/>
<rect x="589.5" y="174.5" width="2" height="1" fill="#30dc30" stroke="#000" stroke-width="1" shape-rendering="crispEdges"/>
<rect x="591.5" y="174.5" width="2" height="1" fill="#d81c1c" stroke="#000" stroke-width="1" shape-rendering="crispEdges"/>
<rect x="594.5" y="172.5" width="2" height="3" fill="#30dc30" stroke="#000" stroke-width="1" shape-rendering="crispEdges"/>
<rect x="596.5" y="173.5" width="2" height="16" fill="#d81c1c" stroke="#000" stroke-width="1" shape-rendering="crispEdges"/>
<rect x="598.5" y="191.5" width="2" height="1" fill="#d81c1c" stroke="#000" stroke-width="1" shape-rendering="crispEdges"/>
<rect x="601.5" y="194.5" width="2" height="5" fill="#d81c1c" stroke="#000" stroke-width="1" shape-rendering="crispEdges"/>
<rect x="603.5" y="200.5" width="2" height="7" fill="#d81c1c" stroke="#000" stroke-width="1" shape-rendering="crispEdges"/>
<rect x="606.5" y="199.5" width="2" height="8" fill="#30dc30" stroke="#000" stroke-width="1" shape-rendering="crispEdges"/>
<rect x="608.5" y="198.5" width="2" height="1" fill="#d81c1c" stroke="#000" stroke-width="1" shape-rendering="crispEdges"/>
<rect x="610.5" y="199.5" width="2" height="1" fill="#d81c1c" stroke="#000" stroke-width="1" shape-rendering="crispEdges"/>
<rect x="613.5" y="194.5" width="2" height="6" fill="#30dc30" stroke="#000" stroke-width="1" shape-rendering="crispEdges"/>
<rect x="615.5" y="188.5" width="2" height="6" fill="#30dc30" stroke="#000" stroke-width="1" shape-rendering="crispEdges"/>
<rect x="618.5" y="187.5" width="2" height="3" fill="#d81c1c" stroke="#000" stroke-width="1" shape-rendering="crispEdges"/>
<rect x="620.5" y="192.5" width="2" height="7" fill="#d81c1c" stroke="#000" stroke-width="1" shape-rendering="crispEdges"/>
<rect x="622.5" y="190.5" width="2" height="10" fill="#30dc30" stroke="#000" stroke-width="1" shape-rendering="crispEdges"/>
<rect x="625.5" y="190.5" width="2" height="5" fill="#d81c1c" stroke="#000" stroke-width="1" shape-rendering="crispEdges"/>
<rect x="627.5" y="196.5" width="2" height="8" fill="#d81c1c" stroke="#000" stroke-width="1" shape-rendering="crispEdges"/>
<rect x="630.5" y="198.5" width="2" height="6" fill="#30dc30" stroke="#000" stroke-width="1" shape-rendering="crispEdges"/>
<rect x="632.5" y="191.5" width="2" height="7" fill="#30dc30" stroke="#000" stroke-width="1" shape-rendering="crispEdges"/>
<rect x="634.5" y="191.5" width="2" height="4" fill="#d81c1c" stroke="#000" stroke-width="1" shape-rendering="crispEdges"/>
<rect x="637.5" y="197.5" width="2" height="1" fill="#d81c1c" stroke="#000" stroke-width="1" shape-rendering="crispEdges"/>
<rect x="639.5" y="196.5" width="2" height="1" fill="#30dc30" stroke="#000" stroke-width="1" shape-rendering="crispEdges"/>
<rect x="642.5" y="196.5" width="2" height="21" fill="#d81c1c" stroke="#000" stroke-width="1" shape-rendering="crispEdges"/>
<rect x="644.5" y="220.5" width="2" height="20" fill="#d81c1c" stroke="#000" stroke-width="1" shape-rendering="crispEdges"/>
<rect x="646.5" y="240.5" width="2" height="27" fill="#d81c1c" stroke="#000" stroke-width="1" shape-rendering="crispEdges"/>
<rect x="649.5" y="256.5" width="2" height="12" fill="#30dc30" stroke="#000" stroke-width="1" shape-rendering="crispEdges"/>
<rect x="651.5" y="255.5" width="2" height="5" fill="#d81c1c" stroke="#000" stroke-width="1" shape-rendering="crispEdges"/>
<rect x="654.5" y="256.5" width="2" height="3" fill="#30dc30" stroke="#000" stroke-width="1" shape-rendering="crispEdges"/>
<rect x="656.5" y="204.5" width="2" height="51" fill="#30dc30" stroke="#000" stroke-width="1" shape-rendering="crispEdges"/>
<rect x="658.5" y="204.5" width="2" height="52" fill="#d81c1c" stroke="#000" stroke-width="1" shape-rendering="crispEdges"/>
<rect x="661.5" y="248.5" width="2" height="8" fill="#30dc30" stroke="#000" stroke-width="1" shape-rendering="crispEdges"/>
<rect x="663.5" y="234.5" width="2" height="14" fill="#30dc30" stroke="#000" stroke-width="1" shape-rendering="crispEdges"/>
<rect x="665.5" y="232.5" width="2" height="3" fill="#d81c1c" stroke="#000" stroke-width="1" shape-rendering="crispEdges"/>
<rect x="668.5" y="235.5" width="2" height="20" fill="#d81c1c" stroke="#000" stroke-width="1" shape-rendering="crispEdges"/>
<rect x="670.5" y="257.5" width="2" height="1" fill="#d81c1c" stroke="#000" stroke-width="1" shape-rendering="crispEdges"/>
<rect x="673.5" y="257.5" width="2" height="25" fill="#d81c1c" stroke="#000" stroke-width="1" shape-rendering="crispEdges"/>
<rect x="675.5" y="279.5" width="2" height="3" fill="#30dc30" stroke="#000" stroke-width="1" shape-rendering="crispEdges"/>
<rect x="677.5" y="280.5" width="2" height="7" fill="#d81c1c" stroke="#000" stroke-width="1" shape-rendering="crispEdges"/>
<rect x="680.5" y="273.5" width="2" height="14" fill="#30dc30" stroke="#000" stroke-width="1" shape-rendering="crispEdges"/>
<rect x="682.5" y="271.5" width="2" height="1" fill="#30dc30" stroke="#000" stroke-width="1" shape-rendering="crispEdges"/>
<rect x="684.5" y="271.5" width="2" height="3" fill="#d81c1c" stroke="#000" stroke-width="1" shape-rendering="crispEdges"/>
<rect x="687.5" y="270.5" width="2" height="4" fill="#30dc30" stroke="#000" stroke-width="1" shape-rendering="crispEdges"/>
<rect x="689.5" y="271.5" width="2" height="1" fill="#d81c1c" stroke="#000" stroke-width="1" shape-rendering="crispEdges"/>
<rect x="692.5" y="274.5" width="2" height="1" fill="#d81c1c" stroke="#000" stroke-width="1" shape-rendering="crispEdges"/>
<rect x="694.5" y="272.5" width="2" height="3" fill="#30dc30" stroke="#000" stroke-width="1" shape-rendering="crispEdges"/>
<rect x="696.5" y="263.5" width="2" height="8" fill="#30dc30" stroke="#000" stroke-width="1" shape-rendering="crispEdges"/>
<rect x="699.5" y="262.5" width="2" height="1" fill="#30dc30" stroke="#000" stroke-width="1" shape-rendering="crispEdges"/>
<rect x="701.5" y="263.5" width="2" height="1" fill="#d81c1c" stroke="#000" stroke-width="1" shape-rendering="crispEdges"/>
<rect x="703.5" y="265.5" width="2" height="1" fill="#d81c1c" stroke="#000" stroke-width="1" shape-rendering="crispEdges"/>
<rect x="706.5" y="254.5" width="2" height="12" fill="#30dc30" stroke="#000" stroke-width="1" shape-rendering="crispEdges"/>
<rect x="708.5" y="253.5" width="2" height="1" fill="#d81c1c" stroke="#000" stroke-width="1" shape-rendering="crispEdges"/>
<rect x="711.5" y="255.5" width="2" height="1" fill="#d81c1c" stroke="#000" stroke-width="1" shape-rendering="crispEdges"/>
<rect x="713.5" y="250.5" width="2" height="4" fill="#30dc30" stroke="#000" stroke-width="1" shape-rendering="crispEdges"/>
<rect x="715.5" y="248.5" width="2" height="2" fill="#d81c1c" stroke="#000" stroke-width="1" shape-rendering="crispEdges"/>
<rect x="718.5" y="251.5" width="2" height="9" fill="#d81c1c" stroke="#000" stroke-width="1" shape-rendering="crispEdges"/>
<rect x="720.5" y="261.5" width="2" height="6" fill="#d81c1c" stroke="#000" stroke-width="1" shape-rendering="crispEdges"/>
<rect x="722.5" y="269.5" width="2" height="7" fill="#d81c1c" stroke="#000" stroke-width="1" shape-rendering="crispEdges"/>
<rect x="725.5" y="275.5" width="2" height="5" fill="#d81c1c" stroke="#000" stroke-width="1" shape-rendering="crispEdges"/>
<rect x="727.5" y="264.5" width="2" height="15" fill="#30dc30" stroke="#000" stroke-width="1" shape-rendering="crispEdges"/>
<rect x="730.5" y="264.5" width="2" height="5" fill="#d81c1c" stroke="#000" stroke-width="1" shape-rendering="crispEdges"/>
<rect x="732.5" y="270.5" width="2" height="6" fill="#d81c1c" stroke="#000" stroke-width="1" shape-rendering="crispEdges"/>
<rect x="734.5" y="275.5" width="2" height="1" fill="#30dc30" stroke="#000" stroke-width="1" shape-rendering="crispEdges"/>
<rect x="737.5" y="276.5" width="2" height="5" fill="#d81c1c" stroke="#000" stroke-width="1" shape-rendering="crispEdges"/>
<rect x="739.5" y="283.5" width="2" height="6" fill="#d81c1c" stroke="#000" stroke-width="1" shape-rendering="crispEdges"/>
<rect x="742.5" y="291.5" width="2" height="6" fill="#d81c1c" stroke="#000" stroke-width="1" shape-rendering="crispEdges"/>
<rect x="744.5" y="298.5" width="2" height="5" fill="#d81c1c" stroke="#000" stroke-width="1" shape-rendering="crispEdges"/>
<rect x="746.5" y="287.5" width="2" height="17" fill="#30dc30" stroke="#000" stroke-width="1" shape-rendering="crispEdges"/>
<rect x="749.5" y="280.5" width="2" height="7" fill="#30dc30" stroke="#000" stroke-width="1" shape-rendering="crispEdges"/>
<rect x="751.5" y="274.5" width="2" height="4" fill="#30dc30" stroke="#000" stroke-width="1" shape-rendering="crispEdges"/>
<rect x="753.5" y="267.5" width="2" height="7" fill="#30dc30" stroke="#000" stroke-width="1" shape-rendering="crispEdges"/>
<rect x="756.5" y="263.5" width="2" height="3" fill="#30dc30" stroke="#000" stroke-width="1" shape-rendering="crispEdges"/>
<rect x="758.5" y="263.5" width="2" height="2" fill="#d81c1c" stroke="#000" stroke-width="1" shape-rendering="crispEdges"/>
<rect x="761.5" y="266.5" width="2" height="5" fill="#d81c1c" stroke="#000" stroke-width="1" shape-rendering="crispEdges"/>
<rect x="763.5" y="268.5" width="2" height="5" fill="#30dc30" stroke="#000" stroke-width="1" shape-rendering="crispEdges"/>
<rect x="765.5" y="263.5" width="2" height="4" fill="#30dc30" stroke="#000" stroke-width="1" shape-rendering="crispEdges"/>
<rect x="768.5" y="262.5" width="2" height="1" fill="#30dc30" stroke="#000" stroke-width="1" shape-rendering="crispEdges"/>
<rect x="770.5" y="262.5" width="2" height="13" fill="#d81c1c" stroke="#000" stroke-width="1" shape-rendering="crispEdges"/>
<rect x="772.5" y="267.5" width="2" height="8" fill="#30dc30" stroke="#000" stroke-width="1" shape-rendering="crispEdges"/>
<rect x="775.5" y="251.5" width="2" height="14" fill="#30dc30" stroke="#000" stroke-width="1" shape-rendering="crispEdges"/>
<rect x="777.5" y="222.5" width="2" height="27" fill="#30dc30" stroke="#000" stroke-width="1" shape-rendering="crispEdges"/>
<rect x="780.5" y="218.5" width="2" height="3" fill="#30dc30" stroke="#000" stroke-width="1" shape-rendering="crispEdges"/>
<rect x="782.5" y="215.5" width="2" height="1" fill="#30dc30" stroke="#000" stroke-width="1" shape-rendering="crispEdges"/>
<rect x="784.5" y="214.5" width="2" height="2" fill="#d81c1c" stroke="#000" stroke-width="1" shape-rendering="crispEdges"/>
<rect x="787.5" y="210.5" width="2" height="6" fill="#30dc30" stroke="#000" stroke-width="1" shape-rendering="crispEdges"/>
<rect x="789.5" y="207.5" width="2" height="2" fill="#30dc30" stroke="#000" stroke-width="1" shape-rendering="crispEdges"/>
<rect x="791.5" y="207.5" width="2" height="2" fill="#d81c1c" stroke="#000" stroke-width="1" shape-rendering="crispEdges"/>
<rect x="794.5" y="199.5" width="2" height="10" fill="#30dc30" stroke="#000" stroke-width="1" shape-rendering="crispEdges"/>
<rect x="796.5" y="198.5" width="2" height="13" fill="#d81c1c" stroke="#000" stroke-width="1" shape-rendering="crispEdges"/>
<rect x="799.5" y="205.5" width="2" height="7" fill="#30dc30" stroke="#000" stroke-width="1" shape-rendering="crispEdges"/>
<rect x="801.5" y="192.5" width="2" height="13" fill="#30dc30" stroke="#000" stroke-width="1" shape-rendering="crispEdges"/>
<rect x="803.5" y="194.5" width="2" height="8" fill="#d81c1c" stroke="#000" stroke-width="1" shape-rendering="crispEdges"/>
<rect x="806.5" y="202.5" width="2" height="3" fill="#d81c1c" stroke="#000" stroke-width="1" shape-rendering="crispEdges"/>
<rect x="808.5" y="200.5" width="2" height="5" fill="#30dc30" stroke="#000" stroke-width="1" shape-rendering="crispEdges"/>
<rect x="810.5" y="200.5" width="2" height="1" fill="#d81c1c" stroke="#000" stroke-width="1" shape-rendering="crispEdges"/>
<rect x="813.5" y="196.5" width="2" height="5" fill="#30dc30" stroke="#000" stroke-width="1" shape-rendering="crispEdges"/>
<rect x="815.5" y="172.5" width="2" height="23" fill="#30dc30" stroke="#000" stroke-width="1" shape-rendering="crispEdges"/>
<rect x="817.5" y="156.5" width="2" height="15" fill="#30dc30" stroke="#000" stroke-width="1" shape-rendering="crispEdges"/>
<rect x="820.5" y="151.5" width="2" height="5" fill="#30dc30" stroke="#000" stroke-width="1" shape-rendering="crispEdges"/>
<rect x="822.5" y="149.5" width="2" height="15" fill="#d81c1c" stroke="#000" stroke-width="1" shape-rendering="crispEdges"/>
<rect x="824.5" y="161.5" width="2" height="3" fill="#30dc30" stroke="#000" stroke-width="1" shape-rendering="crispEdges"/>
<rect x="827.5" y="150.5" width="2" height="10" fill="#30dc30" stroke="#000" stroke-width="1" shape-rendering="crispEdges"/>
<rect x="829.5" y="147.5" width="2" height="3" fill="#30dc30" stroke="#000" stroke-width="1" shape-rendering="crispEdges"/>
<rect x="831.5" y="145.5" width="2" height="18" fill="#d81c1c" stroke="#000" stroke-width="1" shape-rendering="crispEdges"/>
<rect x="834.5" y="160.5" width="2" height="3" fill="#30dc30" stroke="#000" stroke-width="1" shape-rendering="crispEdges"/>
<rect x="836.5" y="158.5" width="2" height="1" fill="#30dc30" stroke="#000" stroke-width="1" shape-rendering="crispEdges"/>
<rect x="839.5" y="150.5" width="2" height="7" fill="#30dc30" stroke="#000" stroke-width="1" shape-rendering="crispEdges"/>
<rect x="841.5" y="140.5" width="2" height="8" fill="#30dc30" stroke="#000" stroke-width="1" shape-rendering="crispEdges"/>
<rect x="843.5" y="137.5" width="2" height="2" fill="#30dc30" stroke="#000" stroke-width="1" shape-rendering="crispEdges"/>
<rect x="846.5" y="122.5" width="2" height="13" fill="#30dc30" stroke="#000" stroke-width="1" shape-rendering="crispEdges"/>
<rect x="848.5" y="118.5" width="2" height="3" fill="#30dc30" stroke="#000" stroke-width="1" shape-rendering="crispEdges"/>
<rect x="850.5" y="118.5" width="2" height="1" fill="#d81c1c" stroke="#000" stroke-width="1" shape-rendering="crispEdges"/>
<rect x="853.5" y="121.5" width="2" height="5" fill="#d81c1c" stroke="#000" stroke-width="1" shape-rendering="crispEdges"/>
<rect x="855.5" y="124.5" width="2" height="1" fill="#30dc30" stroke="#000" stroke-width="1" shape-rendering="crispEdges"/>
<rect x="857.5" y="124.5" width="2" height="1" fill="#30dc30" stroke="#000" stroke-width="1" shape-rendering="crispEdges"/>
<rect x="860.5" y="125.5" width="2" height="1" fill="#d81c1c" stroke="#000" stroke-width="1" shape-rendering="crispEdges"/>
<rect x="862.5" y="125.5" width="2" height="1" fill="#d81c1c" stroke="#000" stroke-width="1" shape-rendering="crispEdges"/>
<rect x="864.5" y="124.5" width="2" height="16" fill="#d81c1c" stroke="#000" stroke-width="1" shape-rendering="crispEdges"/>
<rect x="867.5" y="140.5" width="2" height="5" fill="#d81c1c" stroke="#000" stroke-width="1" shape-rendering="crispEdges"/>
<rect x="869.5" y="146.5" width="2" height="1" fill="#d81c1c" stroke="#000" stroke-width="1" shape-rendering="crispEdges"/>
<rect x="872.5" y="146.5" width="2" height="4" fill="#d81c1c" stroke="#000" stroke-width="1" shape-rendering="crispEdges"/>
<rect x="874.5" y="146.5" width="2" height="5" fill="#30dc30" stroke="#000" stroke-width="1" shape-rendering="crispEdges"/>
<rect x="876.5" y="140.5" width="2" height="5" fill="#30dc30" stroke="#000" stroke-width="1" shape-rendering="crispEdges"/>
<rect x="879.5" y="141.5" width="2" height="1" fill="#d81c1c" stroke="#000" stroke-width="1" shape-rendering="crispEdges"/>
<rect x="881.5" y="142.5" width="2" height="9" fill="#d81c1c" stroke="#000" stroke-width="1" shape-rendering="crispEdges"/>
<rect x="884.5" y="151.5" width="2" height="14" fill="#d81c1c" stroke="#000" stroke-width="1" shape-rendering="crispEdges"/>
<rect x="886.5" y="149.5" width="2" height="15" fill="#30dc30" stroke="#000" stroke-width="1" shape-rendering="crispEdges"/>
<rect x="888.5" y="136.5" width="2" height="11" fill="#30dc30" stroke="#000" stroke-width="1" shape-rendering="crispEdges"/>
<rect x="891.5" y="127.5" width="2" height="8" fill="#30dc30" stroke="#000" stroke-width="1" shape-rendering="crispEdges"/>
<rect x="893.5" y="119.5" width="2" height="7" fill="#30dc30" stroke="#000" stroke-width="1" shape-rendering="crispEdges"/>
<rect x="896.5" y="118.5" width="2" height="1" fill="#d81c1c" stroke="#000" stroke-width="1" shape-rendering="crispEdges"/>
<rect x="898.5" y="118.5" width="2" height="14" fill="#d81c1c" stroke="#000" stroke-width="1" shape-rendering="crispEdges"/>
<rect x="900.5" y="133.5" width="2" height="10" fill="#d81c1c" stroke="#000" stroke-width="1" shape-rendering="crispEdges"/>
<rect x="903.5" y="142.5" width="2" height="4" fill="#d81c1c" stroke="#000" stroke-width="1" shape-rendering="crispEdges"/>
<rect x="905.5" y="140.5" width="2" height="7" fill="#30dc30" stroke="#000" stroke-width="1" shape-rendering="crispEdges"/>
<rect x="908.5" y="138.5" width="2" height="1" fill="#30dc30" stroke="#000" stroke-width="1" shape-rendering="crispEdges"/>
<rect x="910.5" y="138.5" width="2" height="1" fill="#d81c1c" stroke="#000" stroke-width="1" shape-rendering="crispEdges"/>
<rect x="912.5" y="139.5" width="2" height="2" fill="#d81c1c" stroke="#000" stroke-width="1" shape-rendering="crispEdges"/>
<rect x="915.5" y="142.5" width="2" height="8" fill="#d81c1c" stroke="#000" stroke-width="1" shape-rendering="crispEdges"/>
<rect x="917.5" y="151.5" width="2" height="1" fill="#d81c1c" stroke="#000" stroke-width="1" shape-rendering="crispEdges"/>
<rect x="920.5" y="151.5" width="2" height="12" fill="#d81c1c" stroke="#000" stroke-width="1" shape-rendering="crispEdges"/>
<rect x="922.5" y="162.5" width="2" height="3" fill="#30dc30" stroke="#000" stroke-width="1" shape-rendering="crispEdges"/>
<rect x="924.5" y="156.5" width="2" height="6" fill="#30dc30" stroke="#000" stroke-width="1" shape-rendering="crispEdges"/>
<rect x="927.5" y="140.5" width="2" height="15" fill="#30dc30" stroke="#000" stroke-width="1" shape-rendering="crispEdges"/>
<rect x="929.5" y="139.5" width="2" height="1" fill="#d81c1c" stroke="#000" stroke-width="1" shape-rendering="crispEdges"/>
<rect x="932.5" y="132.5" width="2" height="8" fill="#30dc30" stroke="#000" stroke-width="1" shape-rendering="crispEdges"/>
<rect x="934.5" y="126.5" width="2" height="5" fill="#30dc30" stroke="#000" stroke-width="1" shape-rendering="crispEdges"/>
<rect x="936.5" y="124.5" width="2" height="3" fill="#d81c1c" stroke="#000" stroke-width="1" shape-rendering="crispEdges"/>
<rect x="939.5" y="130.5" width="2" height="2" fill="#d81c1c" stroke="#000" stroke-width="1" shape-rendering="crispEdges"/>
<rect x="941.5" y="134.5" width="2" height="1" fill="#30dc30" stroke="#000" stroke-width="1" shape-rendering="crispEdges"/>
<rect x="944.5" y="134.5" width="2" height="5" fill="#d81c1c" stroke="#000" stroke-width="1" shape-rendering="crispEdges"/>
<rect x="946.5" y="130.5" width="2" height="10" fill="#30dc30" stroke="#000" stroke-width="1" shape-rendering="crispEdges"/>
<rect x="948.5" y="126.5" width="2" height="3" fill="#30dc30" stroke="#000" stroke-width="1" shape-rendering="crispEdges"/>
<rect x="951.5" y="123.5" width="2" height="1" fill="#30dc30" stroke="#000" stroke-width="1" shape-rendering="crispEdges"/>
<rect x="953.5" y="124.5" width="2" height="3" fill="#d81c1c" stroke="#000" stroke-width="1" shape-rendering="crispEdges"/>
<rect x="955.5" y="128.5" width="2" height="7" fill="#d81c1c" stroke="#000" stroke-width="1" shape-rendering="crispEdges"/>
<rect x="958.5" y="134.5" width="2" height="2" fill="#30dc30" stroke="#000" stroke-width="1" shape-rendering="crispEdges"/>
<rect x="960.5" y="128.5" width="2" height="4" fill="#30dc30" stroke="#000" stroke-width="1" shape-rendering="crispEdges"/>
<rect x="963.5" y="113.5" width="2" height="15" fill="#30dc30" stroke="#000" stroke-width="1" shape-rendering="crispEdges"/>
<rect x="965.5" y="90.5" width="2" height="21" fill="#30dc30" stroke="#000" stroke-width="1" shape-rendering="crispEdges"/>
<rect x="967.5" y="83.5" width="2" height="6" fill="#30dc30" stroke="#000" stroke-width="1" shape-rendering="crispEdges"/>
<rect x="970.5" y="74.5" width="2" height="7" fill="#30dc30" stroke="#000" stroke-width="1" shape-rendering="crispEdges"/>
<rect x="972.5" y="74.5" width="2" height="1" fill="#30dc30" stroke="#000" stroke-width="1" shape-rendering="crispEdges"/>
<rect x="974.5" y="66.5" width="2" height="7" fill="#30dc30" stroke="#000" stroke-width="1" shape-rendering="crispEdges"/>
<rect x="977.5" y="66.5" width="2" height="3" fill="#d81c1c" stroke="#000" stroke-width="1" shape-rendering="crispEdges"/>
<rect x="979.5" y="66.5" width="2" height="4" fill="#30dc30" stroke="#000" stroke-width="1" shape-rendering="crispEdges"/>
<rect x="982.5" y="67.5" width="2" height="11" fill="#d81c1c" stroke="#000" stroke-width="1" shape-rendering="crispEdges"/>
<rect x="984.5" y="74.5" width="2" height="4" fill="#30dc30" stroke="#000" stroke-width="1" shape-rendering="crispEdges"/>
<rect x="986.5" y="72.5" width="2" height="1" fill="#30dc30" stroke="#000" stroke-width="1" shape-rendering="crispEdges"/>
<rect x="989.5" y="72.5" width="2" height="2" fill="#d81c1c" stroke="#000" stroke-width="1" shape-rendering="crispEdges"/>
<rect x="991.5" y="75.5" width="2" height="4" fill="#d81c1c" stroke="#000" stroke-width="1" shape-rendering="crispEdges"/>
<rect x="993.5" y="64.5" width="2" height="15" fill="#30dc30" stroke="#000" stroke-width="1" shape-rendering="crispEdges"/>
<rect x="996.5" y="63.5" width="2" height="9" fill="#d81c1c" stroke="#000" stroke-width="1" shape-rendering="crispEdges"/>
<rect x="998.5" y="73.5" width="2" height="4" fill="#d81c1c" stroke="#000" stroke-width="1" shape-rendering="crispEdges"/>
<rect x="1001.5" y="75.5" width="2" height="1" fill="#30dc30" stroke="#000" stroke-width="1" shape-rendering="crispEdges"/>
<rect x="1003.5" y="67.5" width="2" height="7" fill="#30dc30" stroke="#000" stroke-width="1" shape-rendering="crispEdges"/>
<rect x="1005.5" y="66.5" width="2" height="1" fill="#d81c1c" stroke="#000" stroke-width="1" shape-rendering="crispEdges"/>
<rect x="1008.5" y="67.5" width="2" height="2" fill="#d81c1c" stroke="#000" stroke-width="1" shape-rendering="crispEdges"/>
<rect x="1010.5" y="71.5" width="2" height="3" fill="#d81c1c" stroke="#000" stroke-width="1" shape-rendering="crispEdges"/>
<rect x="1012.5" y="75.5" width="2" height="1" fill="#d81c1c" stroke="#000" stroke-width="1" shape-rendering="crispEdges"/>
<rect x="1015.5" y="77.5" width="2" height="1" fill="#30dc30" stroke="#000" stroke-width="1" shape-rendering="crispEdges"/>
<rect x="1017.5" y="78.5" width="2" height="15" fill="#d81c1c" stroke="#000" stroke-width="1" shape-rendering="crispEdges"/>
<rect x="1020.5" y="95.5" width="2" height="7" fill="#d81c1c" stroke="#000" stroke-width="1" shape-rendering="crispEdges"/>
<rect x="1022.5" y="98.5" width="2" height="3" fill="#30dc30" stroke="#000" stroke-width="1" shape-rendering="crispEdges"/>
<rect x="1024.5" y="97.5" width="2" height="1" fill="#30dc30" stroke="#000" stroke-width="1" shape-rendering="crispEdges"/>
<polyline points="0,395.79 1,395.18 2,394.59 3,394.02 4,393.46 5,392.92 6,392.4 7,391.89 8,391.4 9,390.93 10,390.47 11,390.02 12,389.59 13,389.18 14,388.78 15,388.4 16,388.03 17,387.67 18,387.33 19,387.01 20,386.69 21,386.39 22,386.11 23,385.83 24,385.57 25,385.33 26,385.09 27,384.87 28,384.66 29,384.46 30,384.28 31,384.1 32,383.94 33,383.79 34,383.65 35,383.52 36,383.4 37,383.3 38,383.2 39,383.11 40,383.04 41,382.97 42,382.91 43,382.86 44,382.83 45,382.8 46,382.78 47,382.77 48,382.76 49,382.77 50,382.78 51,382.8 52,382.83 53,382.87 54,382.91 55,382.96 56,383.02 57,383.09 58,383.16 59,383.24 60,383.32 61,383.41 62,383.51 63,383.61 64,383.72 65,383.84 66,383.95 67,384.08 68,384.21 69,384.34 70,384.48 71,384.62 72,384.77 73,384.92 74,385.07 75,385.23 76,385.39 77,385.55 78,385.72 79,385.89 80,386.06 81,386.23 82,386.41 83,386.59 84,386.77 85,386.95 86,387.13 87,387.31 88,387.5 89,387.68 90,387.86 91,388.04 92,388.22 93,388.4 94,388.58 95,388.75 96,388.92 97,389.08 98,389.24 99,389.4 100,389.55 101,389.7 102,389.84 103,389.97 104,390.1 105,390.22 106,390.33 107,390.44 108,390.54 109,390.62 110,390.7 111,390.77 112,390.83 113,390.88 114,390.92 115,390.94 116,390.96 117,390.96 118,390.95 119,390.93 120,390.89 121,390.84 122,390.77 123,390.69 124,390.6 125,390.49 126,390.36 127,390.22 128,390.07 129,389.9 130,389.73 131,389.54 132,389.35 133,389.15 134,388.95 135,388.74 136,388.54 137,388.33 138,388.13 139,387.92 140,387.72 141,387.53 142,387.35 143,387.17 144,387 145,386.85 146,386.7 147,386.57 148,386.46 149,386.37 150,386.29 151,386.23 152,386.2 153,386.18 154,386.18 155,386.19 156,386.23 157,386.28 158,386.34 159,386.42 160,386.51 161,386.62 162,386.74 163,386.87 164,387.01 165,387.16 166,387.32 167,387.49 168,387.67 169,387.85 170,388.05 171,388.25 172,388.45 173,388.66 174,388.87 175,389.09 176,389.31 177,389.53 178,389.75 179,389.98 180,390.2 181,390.42 182,390.64 183,390.86 184,391.08 185,391.29 186,391.51 187,391.72 188,391.93 189,392.15 190,392.36 191,392.57 192,392.77 193,392.98 194,393.19 195,393.39 196,393.6 197,393.8 198,394.01 199,394.21 200,394.41 201,394.61 202,394.81 203,395.02 204,395.22 205,395.42 206,395.62 207,395.82 208,396.02 209,396.22 210,396.42 211,396.62 212,396.82 213,397.02 214,397.22 215,397.42 216,397.62 217,397.82 218,398.01 219,398.21 220,398.41 221,398.6 222,398.79 223,398.98 224,399.16 225,399.35 226,399.53 227,399.7 228,399.87 229,400.04 230,400.21 231,400.36 232,400.52 233,400.67 234,400.81 235,400.95 236,401.08 237,401.21 238,401.32 239,401.44 240,401.54 241,401.64 242,401.73 243,401.81 244,401.88 245,401.95 246,402 247,402.05 248,402.09 249,402.13 250,402.15 251,402.17 252,402.18 253,402.19 254,402.19 255,402.18 256,402.17 257,402.15 258,402.13 259,402.1 260,402.07 261,402.03 262,401.99 263,401.94 264,401.89 265,401.83 266,401.78 267,401.72 268,401.65 269,401.58 270,401.51 271,401.44 272,401.37 273,401.29 274,401.22 275,401.14 276,401.06 277,400.98 278,400.89 279,400.81 280,400.73 281,400.65 282,400.57 283,400.48 284,400.4 285,400.32 286,400.24 287,400.17 288,400.09 289,400.02 290,399.95 291,399.88 292,399.81 293,399.75 294,399.69 295,399.63 296,399.57 297,399.52 298,399.48 299,399.44 300,399.4 301,399.37 302,399.34 303,399.31 304,399.29 305,399.28 306,399.26 307,399.25 308,399.24 309,399.24 310,399.23 311,399.23 312,399.23 313,399.23 314,399.23 315,399.23 316,399.23 317,399.23 318,399.23 319,399.24 320,399.23 321,399.23 322,399.23 323,399.22 324,399.21 325,399.2 326,399.19 327,399.17 328,399.15 329,399.13 330,399.1 331,399.07 332,399.03 333,398.99 334,398.94 335,398.89 336,398.83 337,398.76 338,398.69 339,398.61 340,398.53 341,398.44 342,398.34 343,398.23 344,398.11 345,397.98 346,397.85 347,397.71 348,397.55 349,397.39 350,397.22 351,397.03 352,396.84 353,396.63 354,396.42 355,396.19 356,395.95 357,395.7 358,395.43 359,395.15 360,394.86 361,394.56 362,394.24 363,393.91 364,393.56 365,393.2 366,392.82 367,392.43 368,392.02 369,391.6 370,391.16 371,390.71 372,390.23 373,389.74 374,389.24 375,388.71 376,388.17 377,387.61 378,387.03 379,386.43 380,385.81 381,385.17 382,384.52 383,383.84 384,383.14 385,382.42 386,381.69 387,380.92 388,380.14 389,379.34 390,378.51 391,377.66 392,376.79 393,375.9 394,374.98 395,374.05 396,373.1 397,372.13 398,371.15 399,370.15 400,369.13 401,368.11 402,367.07 403,366.02 404,364.97 405,363.9 406,362.83 407,361.75 408,360.67 409,359.58 410,358.49 411,357.4 412,356.3 413,355.2 414,354.09 415,352.99 416,351.88 417,350.76 418,349.65 419,348.53 420,347.41 421,346.29 422,345.16 423,344.04 424,342.92 425,341.79 426,340.66 427,339.54 428,338.41 429,337.28 430,336.16 431,335.03 432,333.91 433,332.78 434,331.66 435,330.54 436,329.42 437,328.3 438,327.18 439,326.07 440,324.96 441,323.85 442,322.74 443,321.64 444,320.54 445,319.45 446,318.36 447,317.27 448,316.19 449,315.11 450,314.04 451,312.97 452,311.91 453,310.85 454,309.8 455,308.75 456,307.71 457,306.68 458,305.65 459,304.63 460,303.62 461,302.61 462,301.61 463,300.62 464,299.64 465,298.67 466,297.7 467,296.74 468,295.79 469,294.85 470,293.92 471,293 472,292.09 473,291.19 474,290.3 475,289.42 476,288.55 477,287.69 478,286.84 479,286 480,285.17 481,284.35 482,283.55 483,282.75 484,281.96 485,281.18 486,280.42 487,279.66 488,278.91 489,278.17 490,277.44 491,276.72 492,276 493,275.3 494,274.61 495,273.92 496,273.24 497,272.57 498,271.91 499,271.26 500,270.61 501,269.98 502,269.35 503,268.73 504,268.11 505,267.5 506,266.91 507,266.31 508,265.73 509,265.15 510,264.58 511,264.01 512,263.46 513,262.91 514,262.36 515,261.82 516,261.29 517,260.76 518,260.24 519,259.73 520,259.22 521,258.71 522,258.22 523,257.72 524,257.24 525,256.75 526,256.27 527,255.8 528,255.33 529,254.86 530,254.39 531,253.93 532,253.46 533,252.99 534,252.53 535,252.06 536,251.59 537,251.11 538,250.64 539,250.16 540,249.67 541,249.18 542,248.68 543,248.17 544,247.66 545,247.14 546,246.61 547,246.07 548,245.52 549,244.96 550,244.39 551,243.81 552,243.21 553,242.61 554,241.99 555,241.37 556,240.73 557,240.09 558,239.45 559,238.8 560,238.14 561,237.48 562,236.82 563,236.15 564,235.48 565,234.82 566,234.15 567,233.48 568,232.82 569,232.16 570,231.5 571,230.85 572,230.2 573,229.56 574,228.92 575,228.29 576,227.67 577,227.06 578,226.47 579,225.88 580,225.3 581,224.74 582,224.19 583,223.65 584,223.13 585,222.63 586,222.14 587,221.67 588,221.22 589,220.78 590,220.37 591,219.97 592,219.6 593,219.23 594,218.89 595,218.56 596,218.25 597,217.95 598,217.66 599,217.39 600,217.13 601,216.88 602,216.65 603,216.42 604,216.21 605,216 606,215.81 607,215.62 608,215.44 609,215.27 610,215.1 611,214.94 612,214.79 613,214.64 614,214.49 615,214.35 616,214.22 617,214.08 618,213.95 619,213.82 620,213.7 621,213.59 622,213.48 623,213.37 624,213.27 625,213.18 626,213.1 627,213.02 628,212.96 629,212.9 630,212.85 631,212.81 632,212.78 633,212.76 634,212.75 635,212.75 636,212.77 637,212.79 638,212.83 639,212.89 640,212.95 641,213.03 642,213.12 643,213.23 644,213.35 645,213.49 646,213.64 647,213.8 648,213.98 649,214.16 650,214.36 651,214.57 652,214.79 653,215.02 654,215.26 655,215.51 656,215.76 657,216.03 658,216.3 659,216.58 660,216.86 661,217.15 662,217.45 663,217.75 664,218.06 665,218.37 666,218.69 667,219.02 668,219.34 669,219.68 670,220.01 671,220.35 672,220.7 673,221.05 674,221.4 675,221.76 676,222.12 677,222.48 678,222.85 679,223.22 680,223.59 681,223.97 682,224.34 683,224.72 684,225.11 685,225.49 686,225.88 687,226.27 688,226.65 689,227.05 690,227.44 691,227.83 692,228.23 693,228.62 694,229.02 695,229.41 696,229.81 697,230.2 698,230.6 699,231 700,231.39 701,231.79 702,232.18 703,232.58 704,232.97 705,233.36 706,233.75 707,234.14 708,234.53 709,234.91 710,235.3 711,235.68 712,236.06 713,236.43 714,236.81 715,237.18 716,237.55 717,237.91 718,238.28 719,238.64 720,238.99 721,239.34 722,239.69 723,240.03 724,240.37 725,240.71 726,241.04 727,241.37 728,241.69 729,242 730,242.31 731,242.62 732,242.92 733,243.21 734,243.5 735,243.79 736,244.06 737,244.33 738,244.6 739,244.86 740,245.11 741,245.35 742,245.59 743,245.82 744,246.04 745,246.25 746,246.46 747,246.66 748,246.85 749,247.03 750,247.21 751,247.38 752,247.53 753,247.68 754,247.82 755,247.96 756,248.08 757,248.19 758,248.3 759,248.39 760,248.48 761,248.56 762,248.63 763,248.68 764,248.73 765,248.77 766,248.8 767,248.81 768,248.82 769,248.82 770,248.81 771,248.78 772,248.75 773,248.7 774,248.65 775,248.58 776,248.5 777,248.41 778,248.31 779,248.2 780,248.07 781,247.94 782,247.79 783,247.63 784,247.46 785,247.28 786,247.08 787,246.87 788,246.65 789,246.42 790,246.17 791,245.92 792,245.64 793,245.36 794,245.06 795,244.75 796,244.43 797,244.09 798,243.74 799,243.38 800,243.01 801,242.63 802,242.23 803,241.83 804,241.41 805,240.98 806,240.54 807,240.09 808,239.63 809,239.16 810,238.68 811,238.19 812,237.69 813,237.19 814,236.67 815,236.15 816,235.62 817,235.07 818,234.53 819,233.97 820,233.41 821,232.84 822,232.26 823,231.67 824,231.08 825,230.49 826,229.88 827,229.28 828,228.66 829,228.04 830,227.42 831,226.79 832,226.15 833,225.51 834,224.87 835,224.22 836,223.57 837,222.92 838,222.26 839,221.61 840,220.94 841,220.28 842,219.61 843,218.94 844,218.27 845,217.6 846,216.93 847,216.26 848,215.58 849,214.91 850,214.24 851,213.56 852,212.89 853,212.21 854,211.54 855,210.87 856,210.2 857,209.53 858,208.87 859,208.2 860,207.54 861,206.88 862,206.23 863,205.57 864,204.92 865,204.28 866,203.64 867,203 868,202.36 869,201.73 870,201.11 871,200.49 872,199.88 873,199.27 874,198.67 875,198.07 876,197.48 877,196.9 878,196.32 879,195.75 880,195.19 881,194.63 882,194.09 883,193.55 884,193.02 885,192.5 886,191.98 887,191.48 888,190.99 889,190.5 890,190.03 891,189.56 892,189.11 893,188.66 894,188.23 895,187.81 896,187.4 897,187 898,186.6 899,186.22 900,185.85 901,185.49 902,185.13 903,184.78 904,184.44 905,184.11 906,183.78 907,183.46 908,183.15 909,182.84 910,182.54 911,182.24 912,181.94 913,181.65 914,181.37 915,181.08 916,180.8 917,180.52 918,180.25 919,179.97 920,179.7 921,179.42 922,179.15 923,178.88 924,178.61 925,178.33 926,178.06 927,177.78 928,177.5 929,177.22 930,176.94 931,176.65 932,176.36 933,176.07 934,175.77 935,175.47 936,175.16 937,174.84 938,174.52 939,174.2 940,173.86 941,173.52 942,173.18 943,172.82 944,172.46 945,172.1 946,171.72 947,171.34 948,170.95 949,170.55 950,170.14 951,169.73 952,169.3 953,168.87 954,168.43 955,167.98 956,167.53 957,167.06 958,166.58 959,166.1 960,165.61 961,165.1 962,164.59 963,164.07 964,163.53 965,162.99 966,162.44 967,161.88 968,161.3 969,160.72 970,160.12 971,159.52 972,158.9 973,158.27 974,157.63 975,156.99 976,156.33 977,155.67 978,155 979,154.32 980,153.64 981,152.96 982,152.27 983,151.58 984,150.89 985,150.2 986,149.51 987,148.82 988,148.14 989,147.46 990,146.78 991,146.1 992,145.44 993,144.78 994,144.13 995,143.48 996,142.85 997,142.22 998,141.61 999,141 1000,140.41 1001,139.83 1002,139.27 1003,138.71 1004,138.17 1005,137.65 1006,137.14 1007,136.65 1008,136.17 1009,135.72 1010,135.28 1011,134.86 1012,134.45 1013,134.07 1014,133.71 1015,133.37 1016,133.06 1017,132.76 1018,132.49 1019,132.25 1020,132.03 1021,131.83 1022,131.66 1023,131.52 1024,131.4 1025,131.31" fill="none" stroke="#ff7070" stroke-width="1.6"/>
<polyline points="0,375.8 1,375.39 2,375 3,374.61 4,374.23 5,373.85 6,373.49 7,373.13 8,372.78 9,372.44 10,372.11 11,371.78 12,371.47 13,371.16 14,370.87 15,370.58 16,370.3 17,370.03 18,369.78 19,369.53 20,369.29 21,369.06 22,368.84 23,368.63 24,368.43 25,368.25 26,368.07 27,367.9 28,367.75 29,367.6 30,367.47 31,367.35 32,367.24 33,367.14 34,367.06 35,366.98 36,366.92 37,366.87 38,366.83 39,366.81 40,366.79 41,366.79 42,366.81 43,366.83 44,366.87 45,366.92 46,366.99 47,367.06 48,367.16 49,367.26 50,367.38 51,367.52 52,367.66 53,367.83 54,368 55,368.19 56,368.4 57,368.62 58,368.86 59,369.11 60,369.37 61,369.65 62,369.94 63,370.25 64,370.58 65,370.91 66,371.26 67,371.63 68,372.01 69,372.4 70,372.81 71,373.23 72,373.66 73,374.11 74,374.57 75,375.05 76,375.53 77,376.04 78,376.55 79,377.08 80,377.62 81,378.18 82,378.74 83,379.32 84,379.92 85,380.52 86,381.13 87,381.75 88,382.37 89,382.99 90,383.61 91,384.22 92,384.83 93,385.43 94,386.02 95,386.59 96,387.14 97,387.68 98,388.2 99,388.69 100,389.16 101,389.59 102,390 103,390.37 104,390.71 105,391 106,391.26 107,391.47 108,391.64 109,391.76 110,391.83 111,391.86 112,391.85 113,391.8 114,391.71 115,391.58 116,391.43 117,391.24 118,391.03 119,390.79 120,390.52 121,390.23 122,389.93 123,389.61 124,389.27 125,388.92 126,388.56 127,388.19 128,387.82 129,387.44 130,387.07 131,386.69 132,386.32 133,385.95 134,385.59 135,385.24 136,384.9 137,384.58 138,384.27 139,383.98 140,383.71 141,383.47 142,383.25 143,383.07 144,382.91 145,382.78 146,382.69 147,382.63 148,382.62 149,382.64 150,382.71 151,382.83 152,382.98 153,383.18 154,383.42 155,383.69 156,383.99 157,384.32 158,384.67 159,385.05 160,385.44 161,385.86 162,386.28 163,386.72 164,387.17 165,387.62 166,388.07 167,388.52 168,388.97 169,389.41 170,389.85 171,390.27 172,390.67 173,391.06 174,391.44 175,391.8 176,392.15 177,392.49 178,392.82 179,393.13 180,393.43 181,393.72 182,394.01 183,394.28 184,394.54 185,394.79 186,395.04 187,395.27 188,395.5 189,395.72 190,395.94 191,396.14 192,396.35 193,396.54 194,396.73 195,396.92 196,397.1 197,397.28 198,397.45 199,397.63 200,397.8 201,397.96 202,398.13 203,398.29 204,398.46 205,398.62 206,398.78 207,398.95 208,399.11 209,399.28 210,399.45 211,399.62 212,399.79 213,399.97 214,400.15 215,400.34 216,400.53 217,400.72 218,400.92 219,401.13 220,401.34 221,401.56 222,401.78 223,402.01 224,402.25 225,402.5 226,402.76 227,403.03 228,403.31 229,403.6 230,403.89 231,404.2 232,404.52 233,404.83 234,405.16 235,405.48 236,405.8 237,406.13 238,406.44 239,406.75 240,407.06 241,407.35 242,407.64 243,407.91 244,408.16 245,408.4 246,408.62 247,408.82 248,408.99 249,409.14 250,409.27 251,409.37 252,409.44 253,409.49 254,409.51 255,409.5 256,409.48 257,409.43 258,409.36 259,409.26 260,409.15 261,409.02 262,408.88 263,408.71 264,408.53 265,408.34 266,408.13 267,407.9 268,407.67 269,407.42 270,407.17 271,406.9 272,406.62 273,406.34 274,406.05 275,405.76 276,405.46 277,405.15 278,404.85 279,404.54 280,404.22 281,403.91 282,403.6 283,403.29 284,402.99 285,402.68 286,402.38 287,402.09 288,401.8 289,401.52 290,401.25 291,400.98 292,400.73 293,400.48 294,400.25 295,400.03 296,399.83 297,399.63 298,399.46 299,399.3 300,399.15 301,399.03 302,398.92 303,398.82 304,398.74 305,398.67 306,398.61 307,398.56 308,398.52 309,398.49 310,398.46 311,398.43 312,398.4 313,398.38 314,398.35 315,398.33 316,398.29 317,398.26 318,398.21 319,398.16 320,398.09 321,398.02 322,397.93 323,397.83 324,397.71 325,397.58 326,397.43 327,397.25 328,397.06 329,396.85 330,396.61 331,396.36 332,396.09 333,395.8 334,395.49 335,395.16 336,394.82 337,394.47 338,394.1 339,393.72 340,393.32 341,392.91 342,392.49 343,392.06 344,391.61 345,391.16 346,390.7 347,390.23 348,389.75 349,389.26 350,388.77 351,388.27 352,387.77 353,387.26 354,386.74 355,386.23 356,385.71 357,385.19 358,384.66 359,384.14 360,383.62 361,383.09 362,382.57 363,382.05 364,381.53 365,381.02 366,380.51 367,380 368,379.5 369,379.01 370,378.52 371,378.04 372,377.56 373,377.1 374,376.64 375,376.2 376,375.76 377,375.33 378,374.89 379,374.45 380,373.99 381,373.5 382,373 383,372.45 384,371.87 385,371.23 386,370.55 387,369.8 388,368.98 389,368.1 390,367.13 391,366.08 392,364.93 393,363.68 394,362.33 395,360.87 396,359.32 397,357.66 398,355.93 399,354.12 400,352.25 401,350.31 402,348.33 403,346.31 404,344.25 405,342.18 406,340.08 407,337.98 408,335.88 409,333.8 410,331.73 411,329.69 412,327.68 413,325.72 414,323.81 415,321.95 416,320.13 417,318.36 418,316.63 419,314.94 420,313.29 421,311.67 422,310.09 423,308.55 424,307.04 425,305.56 426,304.1 427,302.68 428,301.28 429,299.9 430,298.54 431,297.21 432,295.89 433,294.59 434,293.31 435,292.04 436,290.78 437,289.53 438,288.29 439,287.06 440,285.83 441,284.6 442,283.38 443,282.15 444,280.93 445,279.7 446,278.46 447,277.22 448,275.97 449,274.71 450,273.44 451,272.15 452,270.85 453,269.53 454,268.19 455,266.83 456,265.45 457,264.04 458,262.61 459,261.15 460,259.66 461,258.15 462,256.6 463,255.04 464,253.47 465,251.88 466,250.28 467,248.68 468,247.09 469,245.5 470,243.92 471,242.35 472,240.81 473,239.29 474,237.79 475,236.33 476,234.91 477,233.52 478,232.19 479,230.9 480,229.67 481,228.49 482,227.38 483,226.34 484,225.37 485,224.48 486,223.65 487,222.89 488,222.2 489,221.56 490,220.97 491,220.44 492,219.95 493,219.51 494,219.1 495,218.73 496,218.38 497,218.07 498,217.77 499,217.49 500,217.23 501,216.97 502,216.72 503,216.47 504,216.22 505,215.97 506,215.72 507,215.47 508,215.22 509,214.97 510,214.72 511,214.48 512,214.24 513,214 514,213.77 515,213.54 516,213.32 517,213.1 518,212.89 519,212.68 520,212.49 521,212.3 522,212.12 523,211.95 524,211.79 525,211.64 526,211.5 527,211.37 528,211.25 529,211.13 530,211.02 531,210.91 532,210.8 533,210.68 534,210.55 535,210.4 536,210.24 537,210.06 538,209.85 539,209.61 540,209.34 541,209.04 542,208.7 543,208.33 544,207.92 545,207.49 546,207.04 547,206.55 548,206.04 549,205.51 550,204.96 551,204.38 552,203.79 553,203.18 554,202.56 555,201.92 556,201.27 557,200.61 558,199.94 559,199.26 560,198.58 561,197.89 562,197.2 563,196.51 564,195.82 565,195.13 566,194.44 567,193.76 568,193.09 569,192.42 570,191.77 571,191.12 572,190.49 573,189.87 574,189.27 575,188.68 576,188.12 577,187.57 578,187.05 579,186.55 580,186.08 581,185.63 582,185.21 583,184.82 584,184.46 585,184.14 586,183.85 587,183.6 588,183.38 589,183.2 590,183.06 591,182.96 592,182.89 593,182.85 594,182.85 595,182.87 596,182.92 597,182.99 598,183.09 599,183.22 600,183.36 601,183.52 602,183.7 603,183.9 604,184.1 605,184.33 606,184.56 607,184.8 608,185.05 609,185.3 610,185.56 611,185.82 612,186.08 613,186.33 614,186.59 615,186.84 616,187.09 617,187.33 618,187.56 619,187.79 620,188.02 621,188.25 622,188.48 623,188.71 624,188.93 625,189.16 626,189.39 627,189.63 628,189.87 629,190.12 630,190.37 631,190.63 632,190.89 633,191.17 634,191.46 635,191.75 636,192.06 637,192.38 638,192.72 639,193.07 640,193.43 641,193.81 642,194.21 643,194.63 644,195.06 645,195.51 646,195.99 647,196.49 648,197 649,197.55 650,198.11 651,198.7 652,199.32 653,199.97 654,200.64 655,201.34 656,202.06 657,202.8 658,203.56 659,204.35 660,205.15 661,205.97 662,206.8 663,207.64 664,208.5 665,209.37 666,210.24 667,211.13 668,212.02 669,212.91 670,213.81 671,214.7 672,215.6 673,216.5 674,217.39 675,218.28 676,219.16 677,220.03 678,220.89 679,221.74 680,222.58 681,223.41 682,224.22 683,225.01 684,225.79 685,226.55 686,227.29 687,228.01 688,228.72 689,229.41 690,230.08 691,230.74 692,231.38 693,232.01 694,232.63 695,233.23 696,233.82 697,234.4 698,234.97 699,235.52 700,236.07 701,236.6 702,237.12 703,237.64 704,238.14 705,238.64 706,239.12 707,239.6 708,240.08 709,240.54 710,241 711,241.46 712,241.91 713,242.35 714,242.79 715,243.23 716,243.66 717,244.09 718,244.51 719,244.94 720,245.36 721,245.78 722,246.2 723,246.63 724,247.05 725,247.47 726,247.89 727,248.32 728,248.74 729,249.17 730,249.61 731,250.04 732,250.49 733,250.93 734,251.38 735,251.84 736,252.3 737,252.77 738,253.24 739,253.73 740,254.22 741,254.71 742,255.22 743,255.74 744,256.26 745,256.8 746,257.35 747,257.91 748,258.48 749,259.06 750,259.65 751,260.26 752,260.88 753,261.51 754,262.15 755,262.77 756,263.36 757,263.92 758,264.42 759,264.86 760,265.21 761,265.48 762,265.66 763,265.76 764,265.77 765,265.71 766,265.58 767,265.38 768,265.12 769,264.8 770,264.42 771,263.99 772,263.52 773,263 774,262.44 775,261.85 776,261.23 777,260.58 778,259.91 779,259.21 780,258.49 781,257.76 782,257.01 783,256.25 784,255.47 785,254.69 786,253.9 787,253.1 788,252.3 789,251.51 790,250.71 791,249.92 792,249.14 793,248.36 794,247.6 795,246.84 796,246.1 797,245.37 798,244.64 799,243.92 800,243.21 801,242.5 802,241.8 803,241.09 804,240.39 805,239.69 806,238.98 807,238.28 808,237.56 809,236.85 810,236.12 811,235.39 812,234.65 813,233.9 814,233.14 815,232.36 816,231.57 817,230.77 818,229.95 819,229.11 820,228.26 821,227.38 822,226.48 823,225.57 824,224.62 825,223.65 826,222.66 827,221.64 828,220.59 829,219.52 830,218.42 831,217.3 832,216.16 833,215 834,213.83 835,212.65 836,211.45 837,210.25 838,209.04 839,207.83 840,206.62 841,205.41 842,204.2 843,203 844,201.81 845,200.63 846,199.46 847,198.3 848,197.16 849,196.04 850,194.94 851,193.87 852,192.81 853,191.78 854,190.77 855,189.78 856,188.81 857,187.87 858,186.94 859,186.03 860,185.14 861,184.28 862,183.43 863,182.6 864,181.79 865,181 866,180.23 867,179.48 868,178.74 869,178.02 870,177.32 871,176.64 872,175.97 873,175.32 874,174.69 875,174.07 876,173.47 877,172.89 878,172.32 879,171.77 880,171.23 881,170.71 882,170.2 883,169.71 884,169.23 885,168.76 886,168.31 887,167.87 888,167.45 889,167.03 890,166.63 891,166.25 892,165.87 893,165.51 894,165.16 895,164.82 896,164.49 897,164.18 898,163.87 899,163.57 900,163.29 901,163.01 902,162.75 903,162.49 904,162.25 905,162.01 906,161.78 907,161.56 908,161.34 909,161.13 910,160.92 911,160.71 912,160.51 913,160.31 914,160.1 915,159.9 916,159.7 917,159.49 918,159.29 919,159.07 920,158.86 921,158.63 922,158.4 923,158.17 924,157.92 925,157.67 926,157.4 927,157.13 928,156.84 929,156.54 930,156.23 931,155.92 932,155.59 933,155.27 934,154.94 935,154.61 936,154.28 937,153.95 938,153.63 939,153.32 940,153.01 941,152.71 942,152.43 943,152.15 944,151.9 945,151.65 946,151.41 947,151.18 948,150.94 949,150.71 950,150.46 951,150.2 952,149.93 953,149.64 954,149.32 955,148.98 956,148.61 957,148.21 958,147.76 959,147.28 960,146.74 961,146.16 962,145.53 963,144.84 964,144.08 965,143.27 966,142.41 967,141.5 968,140.56 969,139.57 970,138.56 971,137.53 972,136.48 973,135.41 974,134.34 975,133.27 976,132.21 977,131.14 978,130.08 979,129.04 980,128 981,126.97 982,125.95 983,124.95 984,123.97 985,123.01 986,122.06 987,121.14 988,120.25 989,119.37 990,118.53 991,117.71 992,116.91 993,116.14 994,115.38 995,114.66 996,113.95 997,113.27 998,112.6 999,111.96 1000,111.34 1001,110.74 1002,110.15 1003,109.59 1004,109.04 1005,108.52 1006,108.01 1007,107.51 1008,107.04 1009,106.58 1010,106.13 1011,105.7 1012,105.29 1013,104.89 1014,104.5 1015,104.13 1016,103.77 1017,103.42 1018,103.09 1019,102.76 1020,102.45 1021,102.15 1022,101.86 1023,101.57 1024,101.3 1025,101.03" fill="none" stroke="#000" stroke-width="1.6"/>
<line x1="809" y1="109.5" x2="1211" y2="109.5" stroke="#ff00ff" stroke-width="2.2" />
<line x1="524" y1="122.5" x2="1211" y2="122.5" stroke="#ff00ff" stroke-width="2.2" />
<line x1="205.9" y1="465.3" x2="1225" y2="6.2" stroke="#ff0000" stroke-width="2.3" stroke-linecap="round"/>
<circle cx="242" cy="448.4" r="7.9" fill="none" stroke="#ff0000" stroke-width="2"/>
<circle cx="322.2" cy="410.7" r="7.5" fill="none" stroke="#ff0000" stroke-width="2"/>
<circle cx="558.8" cy="122" r="8" fill="none" stroke="#ff00ff" stroke-width="2"/>
<circle cx="850" cy="108.6" r="7.9" fill="none" stroke="#ff00ff" stroke-width="2"/>
<text x="455" y="58.6" font-size="44" fill="#ff0000" font-weight="bold" text-anchor="start" textLength="296" lengthAdjust="spacing">Bitcoin (daily)</text>
<rect x="0.5" y="1.5" width="31" height="14" fill="#f0f0f0" stroke="#cfcfcf" stroke-width="1"/>
<rect x="1.5" y="3.5" width="4.5" height="9" fill="#00e000"/><rect x="6" y="3.5" width="4.5" height="9" fill="#ff0000"/>
<text x="13.4" y="11.3" font-size="10" fill="#222" font-weight="normal" text-anchor="start" >Prix</text>
<rect x="32.5" y="1.5" width="15" height="14" fill="#f0f0f0" stroke="#cfcfcf" stroke-width="1"/>
<rect x="36" y="4.5" width="2" height="2" fill="#333"/><rect x="39" y="4.5" width="6" height="2" fill="#333"/>
<rect x="36" y="7.5" width="2" height="2" fill="#333"/><rect x="39" y="7.5" width="6" height="2" fill="#333"/>
<rect x="36" y="10.5" width="2" height="2" fill="#333"/><rect x="39" y="10.5" width="6" height="2" fill="#333"/>
<rect x="48.5" y="1.5" width="62" height="14" fill="#f0f0f0" stroke="#cfcfcf" stroke-width="1"/>
<rect x="51" y="3.5" width="9" height="9" fill="#ff6060"/>
<text x="62.3" y="11.3" font-size="10" fill="#222" font-weight="normal" text-anchor="start" >EMA (100)</text>
<rect x="111.5" y="1.5" width="57" height="14" fill="#f0f0f0" stroke="#cfcfcf" stroke-width="1"/>
<rect x="114" y="3.5" width="9" height="9" fill="#000"/>
<text x="125.3" y="11.3" font-size="10" fill="#222" font-weight="normal" text-anchor="start" >EMA (50)</text>
<rect x="-0.5" y="95.5" width="52" height="14.0" fill="#fff" stroke="#222" stroke-width="1"/>
<text x="1.3" y="106.1" font-size="10" fill="#222" font-weight="normal" text-anchor="start" letter-spacing="-0.2">111 794,00</text>
<rect x="-0.5" y="109.5" width="52" height="13.0" fill="#fff" stroke="#222" stroke-width="1"/>
<text x="1.3" y="120.1" font-size="10" fill="#222" font-weight="normal" text-anchor="start" letter-spacing="-0.2">109 555,50</text>
<rect x="-0.5" y="313.5" width="47" height="15.0" fill="#fff" stroke="#777" stroke-width="1"/>
<text x="1.3" y="324.1" font-size="10" fill="#222" font-weight="normal" text-anchor="start" letter-spacing="-0.2">73 776,00</text>
<rect x="-0.5" y="341.5" width="47" height="14.0" fill="#fff" stroke="#555" stroke-width="1"/>
<text x="1.3" y="352.1" font-size="10" fill="#222" font-weight="normal" text-anchor="start" letter-spacing="-0.2">68 971,20</text>
<text x="0.5" y="479.6" font-size="8" fill="#333" font-weight="normal" text-anchor="start" >IT-Finance.com - Temps Réel</text>
<g shape-rendering="crispEdges">
<line x1="0" y1="0.5" x2="1280" y2="0.5" stroke="#b4b4b4" stroke-width="1" />
<line x1="0" y1="481.5" x2="1280" y2="481.5" stroke="#b4b4b4" stroke-width="1" />
<line x1="0" y1="555.5" x2="1280" y2="555.5" stroke="#b4b4b4" stroke-width="1" />
<line x1="0" y1="611.5" x2="1280" y2="611.5" stroke="#b4b4b4" stroke-width="1" />
<line x1="0" y1="609.5" x2="1224.5" y2="609.5" stroke="#e0e0e0" stroke-width="1" />
<line x1="0" y1="655.5" x2="1224.5" y2="655.5" stroke="#c8c8c8" stroke-width="1.5" />
<line x1="1224.5" y1="0" x2="1224.5" y2="656" stroke="#c0c0c0" stroke-width="1.5" />
<line x1="1279.5" y1="0" x2="1279.5" y2="672" stroke="#b4b4b4" stroke-width="1" />
<line x1="0" y1="671.5" x2="1280" y2="671.5" stroke="#b4b4b4" stroke-width="1" />
</g>
<rect x="631.5" y="443.2" width="48.3" height="39.6" fill="#e01a1f"/>
<rect x="635" y="446" width="6.8" height="33.5" fill="#fff"/>
<ellipse cx="661.2" cy="462.8" rx="12.4" ry="14.2" fill="none" stroke="#fff" stroke-width="6.8"/>
<polygon points="661,462.8 679.8,447.7 679.8,460.2 661,460.2" fill="#e01a1f"/>
<rect x="661" y="460.2" width="15.1" height="6.8" fill="#fff"/>
<rect x="669.4" y="460.2" width="6.7" height="9" fill="#fff"/>
<g>
<rect x="0.27" y="529.39" width="1.4" height="1.21" fill="#00c000"/>
<rect x="2.65" y="529.53" width="1.4" height="1.07" fill="#00c000"/>
<rect x="5.03" y="529.76" width="1.4" height="0.84" fill="#00c000"/>
<rect x="19.33" y="529.94" width="1.4" height="0.66" fill="#00c000"/>
<rect x="21.72" y="529.94" width="1.4" height="0.66" fill="#00c000"/>
<rect x="26.48" y="530.6" width="1.4" height="0.61" fill="#ff0000"/>
<rect x="28.87" y="530.6" width="1.4" height="1.06" fill="#ff0000"/>
<rect x="31.25" y="530.6" width="1.4" height="1.35" fill="#ff0000"/>
<rect x="33.63" y="530.6" width="1.4" height="1.68" fill="#ff0000"/>
<rect x="36.02" y="530.6" width="1.4" height="2.14" fill="#ff0000"/>
<rect x="38.4" y="530.6" width="1.4" height="2.5" fill="#ff0000"/>
<rect x="40.78" y="530.6" width="1.4" height="2.66" fill="#ff0000"/>
<rect x="43.17" y="530.6" width="1.4" height="2.75" fill="#ff0000"/>
<rect x="45.55" y="530.6" width="1.4" height="2.86" fill="#ff0000"/>
<rect x="47.93" y="530.6" width="1.4" height="3.09" fill="#ff0000"/>
<rect x="50.32" y="530.6" width="1.4" height="3.39" fill="#ff0000"/>
<rect x="52.7" y="530.6" width="1.4" height="3.46" fill="#ff0000"/>
<rect x="55.08" y="530.6" width="1.4" height="3.46" fill="#ff0000"/>
<rect x="57.47" y="530.6" width="1.4" height="3.46" fill="#ff0000"/>
<rect x="59.85" y="530.6" width="1.4" height="3.64" fill="#ff0000"/>
<rect x="62.23" y="530.6" width="1.4" height="3.95" fill="#ff0000"/>
<rect x="64.62" y="530.6" width="1.4" height="4.16" fill="#ff0000"/>
<rect x="67" y="530.6" width="1.4" height="4.35" fill="#ff0000"/>
<rect x="69.38" y="530.6" width="1.4" height="4.36" fill="#ff0000"/>
<rect x="71.77" y="530.6" width="1.4" height="3.73" fill="#ff0000"/>
<rect x="74.15" y="530.6" width="1.4" height="2.94" fill="#ff0000"/>
<rect x="76.53" y="530.6" width="1.4" height="2.32" fill="#ff0000"/>
<rect x="78.92" y="530.6" width="1.4" height="1.76" fill="#ff0000"/>
<rect x="81.3" y="530.6" width="1.4" height="1.4" fill="#ff0000"/>
<rect x="83.72" y="530.6" width="1.4" height="1.11" fill="#ff0000"/>
<rect x="86.14" y="530.6" width="1.4" height="1.05" fill="#ff0000"/>
<rect x="88.56" y="530.6" width="1.4" height="1.42" fill="#ff0000"/>
<rect x="90.98" y="530.6" width="1.4" height="1.94" fill="#ff0000"/>
<rect x="93.4" y="530.6" width="1.4" height="2.15" fill="#ff0000"/>
<rect x="95.82" y="530.6" width="1.4" height="1.86" fill="#ff0000"/>
<rect x="98.24" y="530.6" width="1.4" height="1.38" fill="#ff0000"/>
<rect x="100.65" y="530.6" width="1.4" height="1.02" fill="#ff0000"/>
<rect x="103.07" y="530.6" width="1.4" height="0.86" fill="#ff0000"/>
<rect x="105.49" y="530.6" width="1.4" height="0.71" fill="#ff0000"/>
<rect x="112.75" y="528.44" width="1.4" height="2.16" fill="#00c000"/>
<rect x="115.17" y="526.53" width="1.4" height="4.07" fill="#00c000"/>
<rect x="117.59" y="525.27" width="1.4" height="5.33" fill="#00c000"/>
<rect x="120.01" y="524.53" width="1.4" height="6.07" fill="#00c000"/>
<rect x="122.43" y="524.11" width="1.4" height="6.49" fill="#00c000"/>
<rect x="124.85" y="523.76" width="1.4" height="6.84" fill="#00c000"/>
<rect x="127.27" y="523.32" width="1.4" height="7.28" fill="#00c000"/>
<rect x="129.69" y="523.52" width="1.4" height="7.08" fill="#00c000"/>
<rect x="132.11" y="525.44" width="1.4" height="5.16" fill="#00c000"/>
<rect x="134.53" y="526.74" width="1.4" height="3.86" fill="#00c000"/>
<rect x="136.95" y="527.74" width="1.4" height="2.86" fill="#00c000"/>
<rect x="139.36" y="527.88" width="1.4" height="2.72" fill="#00c000"/>
<rect x="141.78" y="527.88" width="1.4" height="2.72" fill="#00c000"/>
<rect x="144.2" y="527.89" width="1.4" height="2.71" fill="#00c000"/>
<rect x="146.62" y="528.28" width="1.4" height="2.32" fill="#00c000"/>
<rect x="149.04" y="528.93" width="1.4" height="1.67" fill="#00c000"/>
<rect x="151.46" y="529.77" width="1.4" height="0.83" fill="#00c000"/>
<rect x="156.3" y="530.6" width="1.4" height="1.08" fill="#ff0000"/>
<rect x="158.64" y="530.6" width="1.4" height="1.72" fill="#ff0000"/>
<rect x="160.98" y="530.6" width="1.4" height="2.84" fill="#ff0000"/>
<rect x="163.32" y="530.6" width="1.4" height="6.12" fill="#ff0000"/>
<rect x="165.65" y="530.6" width="1.4" height="8.16" fill="#ff0000"/>
<rect x="167.99" y="530.6" width="1.4" height="9.09" fill="#ff0000"/>
<rect x="170.33" y="530.6" width="1.4" height="7" fill="#ff0000"/>
<rect x="172.67" y="530.6" width="1.4" height="4.76" fill="#ff0000"/>
<rect x="175.01" y="530.6" width="1.4" height="3.4" fill="#ff0000"/>
<rect x="177.35" y="530.6" width="1.4" height="2.55" fill="#ff0000"/>
<rect x="179.69" y="530.6" width="1.4" height="2.15" fill="#ff0000"/>
<rect x="182.03" y="530.6" width="1.4" height="1.88" fill="#ff0000"/>
<rect x="184.36" y="530.6" width="1.4" height="1.65" fill="#ff0000"/>
<rect x="186.7" y="530.6" width="1.4" height="1.41" fill="#ff0000"/>
<rect x="189.04" y="530.6" width="1.4" height="1.2" fill="#ff0000"/>
<rect x="191.38" y="530.6" width="1.4" height="0.92" fill="#ff0000"/>
<rect x="200.74" y="529.9" width="1.4" height="0.7" fill="#00c000"/>
<rect x="203.07" y="529.5" width="1.4" height="1.1" fill="#00c000"/>
<rect x="205.41" y="528.86" width="1.4" height="1.74" fill="#00c000"/>
<rect x="207.75" y="527.93" width="1.4" height="2.67" fill="#00c000"/>
<rect x="210.09" y="527.23" width="1.4" height="3.37" fill="#00c000"/>
<rect x="212.43" y="527.24" width="1.4" height="3.36" fill="#00c000"/>
<rect x="214.77" y="527.83" width="1.4" height="2.77" fill="#00c000"/>
<rect x="217.11" y="528.81" width="1.4" height="1.79" fill="#00c000"/>
<rect x="221.78" y="530.6" width="1.4" height="0.65" fill="#ff0000"/>
<rect x="224.12" y="530.6" width="1.4" height="1.55" fill="#ff0000"/>
<rect x="226.46" y="530.6" width="1.4" height="2" fill="#ff0000"/>
<rect x="228.8" y="530.6" width="1.4" height="2.34" fill="#ff0000"/>
<rect x="231.18" y="530.6" width="1.4" height="2.52" fill="#ff0000"/>
<rect x="233.57" y="530.6" width="1.4" height="2.53" fill="#ff0000"/>
<rect x="235.95" y="530.6" width="1.4" height="2.53" fill="#ff0000"/>
<rect x="238.33" y="530.6" width="1.4" height="2.53" fill="#ff0000"/>
<rect x="240.72" y="530.6" width="1.4" height="2.82" fill="#ff0000"/>
<rect x="243.1" y="530.6" width="1.4" height="3.94" fill="#ff0000"/>
<rect x="245.48" y="530.6" width="1.4" height="4.35" fill="#ff0000"/>
<rect x="247.87" y="530.6" width="1.4" height="3.22" fill="#ff0000"/>
<rect x="250.25" y="530.6" width="1.4" height="1.73" fill="#ff0000"/>
<rect x="252.63" y="530.6" width="1.4" height="0.8" fill="#ff0000"/>
<rect x="257.4" y="528.05" width="1.4" height="2.55" fill="#00c000"/>
<rect x="259.78" y="527.88" width="1.4" height="2.72" fill="#00c000"/>
<rect x="262.17" y="527.88" width="1.4" height="2.72" fill="#00c000"/>
<rect x="264.55" y="527.88" width="1.4" height="2.72" fill="#00c000"/>
<rect x="266.93" y="527.88" width="1.4" height="2.72" fill="#00c000"/>
<rect x="269.32" y="527.38" width="1.4" height="3.22" fill="#00c000"/>
<rect x="271.7" y="526.27" width="1.4" height="4.33" fill="#00c000"/>
<rect x="274.08" y="526" width="1.4" height="4.6" fill="#00c000"/>
<rect x="276.47" y="526" width="1.4" height="4.6" fill="#00c000"/>
<rect x="278.85" y="526" width="1.4" height="4.6" fill="#00c000"/>
<rect x="281.23" y="526.02" width="1.4" height="4.58" fill="#00c000"/>
<rect x="283.62" y="526.32" width="1.4" height="4.28" fill="#00c000"/>
<rect x="286" y="526.79" width="1.4" height="3.81" fill="#00c000"/>
<rect x="288.38" y="527.16" width="1.4" height="3.44" fill="#00c000"/>
<rect x="290.77" y="527.36" width="1.4" height="3.24" fill="#00c000"/>
<rect x="293.15" y="527.54" width="1.4" height="3.06" fill="#00c000"/>
<rect x="295.53" y="527.87" width="1.4" height="2.73" fill="#00c000"/>
<rect x="297.92" y="529.59" width="1.4" height="1.01" fill="#00c000"/>
<rect x="302.67" y="530.6" width="1.4" height="1.5" fill="#ff0000"/>
<rect x="305.04" y="530.6" width="1.4" height="1.97" fill="#ff0000"/>
<rect x="307.41" y="530.6" width="1.4" height="2.33" fill="#ff0000"/>
<rect x="309.78" y="530.6" width="1.4" height="2.51" fill="#ff0000"/>
<rect x="312.15" y="530.6" width="1.4" height="2.53" fill="#ff0000"/>
<rect x="314.53" y="530.6" width="1.4" height="2.53" fill="#ff0000"/>
<rect x="316.9" y="530.6" width="1.4" height="2.53" fill="#ff0000"/>
<rect x="319.27" y="530.6" width="1.4" height="2.76" fill="#ff0000"/>
<rect x="321.64" y="530.6" width="1.4" height="3.46" fill="#ff0000"/>
<rect x="324.01" y="530.6" width="1.4" height="2.12" fill="#ff0000"/>
<rect x="326.38" y="530.6" width="1.4" height="0.78" fill="#ff0000"/>
<rect x="331.12" y="529.25" width="1.4" height="1.35" fill="#00c000"/>
<rect x="333.49" y="527.79" width="1.4" height="2.81" fill="#00c000"/>
<rect x="335.86" y="527.43" width="1.4" height="3.17" fill="#00c000"/>
<rect x="338.24" y="527.2" width="1.4" height="3.4" fill="#00c000"/>
<rect x="340.61" y="527.13" width="1.4" height="3.47" fill="#00c000"/>
<rect x="342.98" y="527.21" width="1.4" height="3.39" fill="#00c000"/>
<rect x="345.35" y="527.45" width="1.4" height="3.15" fill="#00c000"/>
<rect x="347.72" y="527.81" width="1.4" height="2.79" fill="#00c000"/>
<rect x="350.09" y="529.22" width="1.4" height="1.38" fill="#00c000"/>
<rect x="359.57" y="530.6" width="1.4" height="0.64" fill="#ff0000"/>
<rect x="364.32" y="529.16" width="1.4" height="1.44" fill="#00c000"/>
<rect x="366.69" y="528.44" width="1.4" height="2.16" fill="#00c000"/>
<rect x="369.06" y="528.68" width="1.4" height="1.92" fill="#00c000"/>
<rect x="371.43" y="529.3" width="1.4" height="1.3" fill="#00c000"/>
<rect x="376.15" y="530.6" width="1.4" height="0.61" fill="#ff0000"/>
<rect x="378.5" y="530.6" width="1.4" height="1.11" fill="#ff0000"/>
<rect x="380.85" y="530.6" width="1.4" height="1.53" fill="#ff0000"/>
<rect x="383.2" y="530.6" width="1.4" height="1.1" fill="#ff0000"/>
<rect x="385.55" y="529.71" width="1.4" height="0.89" fill="#00c000"/>
<rect x="387.9" y="528.29" width="1.4" height="2.31" fill="#00c000"/>
<rect x="390.25" y="527.83" width="1.4" height="2.77" fill="#00c000"/>
<rect x="392.6" y="527.3" width="1.4" height="3.3" fill="#00c000"/>
<rect x="394.95" y="524.67" width="1.4" height="5.93" fill="#00c000"/>
<rect x="397.3" y="521.46" width="1.4" height="9.14" fill="#00c000"/>
<rect x="399.65" y="519.82" width="1.4" height="10.78" fill="#00c000"/>
<rect x="402" y="519.63" width="1.4" height="10.97" fill="#00c000"/>
<rect x="404.35" y="519.63" width="1.4" height="10.97" fill="#00c000"/>
<rect x="406.7" y="520.3" width="1.4" height="10.3" fill="#00c000"/>
<rect x="409.05" y="521.47" width="1.4" height="9.13" fill="#00c000"/>
<rect x="411.4" y="522.97" width="1.4" height="7.63" fill="#00c000"/>
<rect x="413.75" y="524.19" width="1.4" height="6.41" fill="#00c000"/>
<rect x="416.1" y="524.69" width="1.4" height="5.91" fill="#00c000"/>
<rect x="418.45" y="524.69" width="1.4" height="5.91" fill="#00c000"/>
<rect x="420.8" y="524.69" width="1.4" height="5.91" fill="#00c000"/>
<rect x="423.15" y="524.69" width="1.4" height="5.91" fill="#00c000"/>
<rect x="425.5" y="525.09" width="1.4" height="5.51" fill="#00c000"/>
<rect x="427.85" y="526.1" width="1.4" height="4.5" fill="#00c000"/>
<rect x="430.2" y="528.64" width="1.4" height="1.96" fill="#00c000"/>
<rect x="432.55" y="530.6" width="1.4" height="1.28" fill="#ff0000"/>
<rect x="434.9" y="530.6" width="1.4" height="2.58" fill="#ff0000"/>
<rect x="437.25" y="530.6" width="1.4" height="2.71" fill="#ff0000"/>
<rect x="439.6" y="530.6" width="1.4" height="2.78" fill="#ff0000"/>
<rect x="441.95" y="530.6" width="1.4" height="2.92" fill="#ff0000"/>
<rect x="444.3" y="530.6" width="1.4" height="3.62" fill="#ff0000"/>
<rect x="446.64" y="530.6" width="1.4" height="4.68" fill="#ff0000"/>
<rect x="448.98" y="530.6" width="1.4" height="5.33" fill="#ff0000"/>
<rect x="451.32" y="530.6" width="1.4" height="4.84" fill="#ff0000"/>
<rect x="453.65" y="530.6" width="1.4" height="3.6" fill="#ff0000"/>
<rect x="455.99" y="530.6" width="1.4" height="2.62" fill="#ff0000"/>
<rect x="458.33" y="530.6" width="1.4" height="2.53" fill="#ff0000"/>
<rect x="460.67" y="530.6" width="1.4" height="2.53" fill="#ff0000"/>
<rect x="463.01" y="530.6" width="1.4" height="2.53" fill="#ff0000"/>
<rect x="465.35" y="530.6" width="1.4" height="2.55" fill="#ff0000"/>
<rect x="467.69" y="530.6" width="1.4" height="2.69" fill="#ff0000"/>
<rect x="470.03" y="530.6" width="1.4" height="2.85" fill="#ff0000"/>
<rect x="472.36" y="530.6" width="1.4" height="2.86" fill="#ff0000"/>
<rect x="474.7" y="530.6" width="1.4" height="1.97" fill="#ff0000"/>
<rect x="477.04" y="530.6" width="1.4" height="0.7" fill="#ff0000"/>
<rect x="486.4" y="530.6" width="1.4" height="2.19" fill="#ff0000"/>
<rect x="488.74" y="530.6" width="1.4" height="4.56" fill="#ff0000"/>
<rect x="491.07" y="530.6" width="1.4" height="6.59" fill="#ff0000"/>
<rect x="493.41" y="530.6" width="1.4" height="7.84" fill="#ff0000"/>
<rect x="495.75" y="530.6" width="1.4" height="8.51" fill="#ff0000"/>
<rect x="498.09" y="530.6" width="1.4" height="8.39" fill="#ff0000"/>
<rect x="500.43" y="530.6" width="1.4" height="8.01" fill="#ff0000"/>
<rect x="502.77" y="530.6" width="1.4" height="7.61" fill="#ff0000"/>
<rect x="505.11" y="530.6" width="1.4" height="7.15" fill="#ff0000"/>
<rect x="507.45" y="530.6" width="1.4" height="6.65" fill="#ff0000"/>
<rect x="509.78" y="530.6" width="1.4" height="6.19" fill="#ff0000"/>
<rect x="512.12" y="530.6" width="1.4" height="5.65" fill="#ff0000"/>
<rect x="514.46" y="530.6" width="1.4" height="4.44" fill="#ff0000"/>
<rect x="516.8" y="530.6" width="1.4" height="2.53" fill="#ff0000"/>
<rect x="519.07" y="530.6" width="1.4" height="1.21" fill="#ff0000"/>
<rect x="528.17" y="529.75" width="1.4" height="0.85" fill="#00c000"/>
<rect x="532.72" y="530.6" width="1.4" height="0.91" fill="#ff0000"/>
<rect x="534.99" y="530.6" width="1.4" height="1.53" fill="#ff0000"/>
<rect x="537.27" y="530.6" width="1.4" height="1.99" fill="#ff0000"/>
<rect x="539.54" y="530.6" width="1.4" height="2.15" fill="#ff0000"/>
<rect x="541.82" y="530.6" width="1.4" height="2.05" fill="#ff0000"/>
<rect x="544.09" y="530.6" width="1.4" height="1.75" fill="#ff0000"/>
<rect x="548.64" y="528.77" width="1.4" height="1.83" fill="#00c000"/>
<rect x="550.91" y="527.61" width="1.4" height="2.99" fill="#00c000"/>
<rect x="553.19" y="525.22" width="1.4" height="5.38" fill="#00c000"/>
<rect x="555.46" y="524.77" width="1.4" height="5.83" fill="#00c000"/>
<rect x="557.74" y="525.19" width="1.4" height="5.41" fill="#00c000"/>
<rect x="560.01" y="525.73" width="1.4" height="4.87" fill="#00c000"/>
<rect x="562.28" y="526" width="1.4" height="4.6" fill="#00c000"/>
<rect x="564.56" y="526" width="1.4" height="4.6" fill="#00c000"/>
<rect x="566.83" y="526.28" width="1.4" height="4.32" fill="#00c000"/>
<rect x="569.11" y="527.41" width="1.4" height="3.19" fill="#00c000"/>
<rect x="571.38" y="528.56" width="1.4" height="2.04" fill="#00c000"/>
<rect x="573.65" y="529.62" width="1.4" height="0.98" fill="#00c000"/>
<rect x="580.48" y="530.6" width="1.4" height="0.64" fill="#ff0000"/>
<rect x="582.75" y="530.6" width="1.4" height="0.98" fill="#ff0000"/>
<rect x="585.03" y="530.6" width="1.4" height="1.35" fill="#ff0000"/>
<rect x="587.3" y="530.6" width="1.4" height="1.88" fill="#ff0000"/>
<rect x="589.69" y="530.6" width="1.4" height="2.7" fill="#ff0000"/>
<rect x="592.09" y="530.6" width="1.4" height="3.56" fill="#ff0000"/>
<rect x="594.48" y="530.6" width="1.4" height="4.47" fill="#ff0000"/>
<rect x="596.87" y="530.6" width="1.4" height="5.23" fill="#ff0000"/>
<rect x="599.26" y="530.6" width="1.4" height="5.61" fill="#ff0000"/>
<rect x="601.66" y="530.6" width="1.4" height="5.86" fill="#ff0000"/>
<rect x="604.05" y="530.6" width="1.4" height="5.83" fill="#ff0000"/>
<rect x="606.44" y="530.6" width="1.4" height="5.26" fill="#ff0000"/>
<rect x="608.84" y="530.6" width="1.4" height="4.47" fill="#ff0000"/>
<rect x="611.23" y="530.6" width="1.4" height="3.9" fill="#ff0000"/>
<rect x="613.62" y="530.6" width="1.4" height="3.52" fill="#ff0000"/>
<rect x="616.01" y="530.6" width="1.4" height="3.18" fill="#ff0000"/>
<rect x="618.41" y="530.6" width="1.4" height="2.85" fill="#ff0000"/>
<rect x="620.8" y="530.6" width="1.4" height="2.55" fill="#ff0000"/>
<rect x="623.19" y="530.6" width="1.4" height="2.23" fill="#ff0000"/>
<rect x="625.59" y="530.6" width="1.4" height="1.81" fill="#ff0000"/>
<rect x="627.98" y="530.6" width="1.4" height="1.32" fill="#ff0000"/>
<rect x="630.37" y="530.6" width="1.4" height="0.72" fill="#ff0000"/>
<rect x="639.94" y="530.6" width="1.4" height="0.88" fill="#ff0000"/>
<rect x="642.34" y="530.6" width="1.4" height="2.34" fill="#ff0000"/>
<rect x="644.73" y="530.6" width="1.4" height="4.75" fill="#ff0000"/>
<rect x="647.12" y="530.6" width="1.4" height="6.72" fill="#ff0000"/>
<rect x="649.51" y="530.6" width="1.4" height="7.73" fill="#ff0000"/>
<rect x="651.91" y="530.6" width="1.4" height="8.15" fill="#ff0000"/>
<rect x="654.3" y="530.6" width="1.4" height="6.95" fill="#ff0000"/>
<rect x="656.68" y="530.6" width="1.4" height="4.91" fill="#ff0000"/>
<rect x="659.06" y="530.6" width="1.4" height="3.58" fill="#ff0000"/>
<rect x="661.44" y="530.6" width="1.4" height="2.37" fill="#ff0000"/>
<rect x="668.57" y="530.6" width="1.4" height="0.89" fill="#ff0000"/>
<rect x="670.95" y="530.6" width="1.4" height="1.73" fill="#ff0000"/>
<rect x="673.33" y="530.6" width="1.4" height="3.02" fill="#ff0000"/>
<rect x="675.71" y="530.6" width="1.4" height="3.99" fill="#ff0000"/>
<rect x="678.09" y="530.6" width="1.4" height="3.78" fill="#ff0000"/>
<rect x="680.47" y="530.6" width="1.4" height="3.02" fill="#ff0000"/>
<rect x="682.85" y="530.6" width="1.4" height="2.03" fill="#ff0000"/>
<rect x="685.23" y="530.6" width="1.4" height="0.75" fill="#ff0000"/>
<rect x="692.36" y="529.98" width="1.4" height="0.62" fill="#00c000"/>
<rect x="694.74" y="528.66" width="1.4" height="1.94" fill="#00c000"/>
<rect x="697.12" y="527.47" width="1.4" height="3.13" fill="#00c000"/>
<rect x="699.5" y="527.33" width="1.4" height="3.27" fill="#00c000"/>
<rect x="701.88" y="527.25" width="1.4" height="3.35" fill="#00c000"/>
<rect x="704.26" y="527.13" width="1.4" height="3.47" fill="#00c000"/>
<rect x="706.64" y="526.69" width="1.4" height="3.91" fill="#00c000"/>
<rect x="709.02" y="526.04" width="1.4" height="4.56" fill="#00c000"/>
<rect x="711.4" y="525.64" width="1.4" height="4.96" fill="#00c000"/>
<rect x="713.78" y="526.28" width="1.4" height="4.32" fill="#00c000"/>
<rect x="716.15" y="528.04" width="1.4" height="2.56" fill="#00c000"/>
<rect x="718.53" y="529.55" width="1.4" height="1.05" fill="#00c000"/>
<rect x="720.91" y="529.95" width="1.4" height="0.65" fill="#00c000"/>
<rect x="737.55" y="530.6" width="1.4" height="0.85" fill="#ff0000"/>
<rect x="739.92" y="530.6" width="1.4" height="1.67" fill="#ff0000"/>
<rect x="742.3" y="530.6" width="1.4" height="2.38" fill="#ff0000"/>
<rect x="744.67" y="530.6" width="1.4" height="2.49" fill="#ff0000"/>
<rect x="747.05" y="530.6" width="1.4" height="2.16" fill="#ff0000"/>
<rect x="749.42" y="530.6" width="1.4" height="1.54" fill="#ff0000"/>
<rect x="751.8" y="529.42" width="1.4" height="1.18" fill="#00c000"/>
<rect x="754.17" y="528.28" width="1.4" height="2.32" fill="#00c000"/>
<rect x="756.55" y="528.03" width="1.4" height="2.57" fill="#00c000"/>
<rect x="758.92" y="527.9" width="1.4" height="2.7" fill="#00c000"/>
<rect x="761.3" y="527.88" width="1.4" height="2.72" fill="#00c000"/>
<rect x="763.67" y="527.88" width="1.4" height="2.72" fill="#00c000"/>
<rect x="766.05" y="527.88" width="1.4" height="2.72" fill="#00c000"/>
<rect x="768.42" y="527.88" width="1.4" height="2.72" fill="#00c000"/>
<rect x="770.8" y="527.88" width="1.4" height="2.72" fill="#00c000"/>
<rect x="773.17" y="527.88" width="1.4" height="2.72" fill="#00c000"/>
<rect x="775.55" y="526.56" width="1.4" height="4.04" fill="#00c000"/>
<rect x="777.92" y="524.39" width="1.4" height="6.21" fill="#00c000"/>
<rect x="780.3" y="523.03" width="1.4" height="7.57" fill="#00c000"/>
<rect x="782.67" y="522.27" width="1.4" height="8.33" fill="#00c000"/>
<rect x="785.05" y="522.55" width="1.4" height="8.05" fill="#00c000"/>
<rect x="787.42" y="523.34" width="1.4" height="7.26" fill="#00c000"/>
<rect x="789.8" y="524.1" width="1.4" height="6.5" fill="#00c000"/>
<rect x="792.17" y="524.93" width="1.4" height="5.67" fill="#00c000"/>
<rect x="794.55" y="525.7" width="1.4" height="4.9" fill="#00c000"/>
<rect x="796.92" y="526.36" width="1.4" height="4.24" fill="#00c000"/>
<rect x="799.3" y="526.97" width="1.4" height="3.63" fill="#00c000"/>
<rect x="801.65" y="527.5" width="1.4" height="3.1" fill="#00c000"/>
<rect x="804.01" y="527.99" width="1.4" height="2.61" fill="#00c000"/>
<rect x="806.36" y="528.88" width="1.4" height="1.72" fill="#00c000"/>
<rect x="811.07" y="529.99" width="1.4" height="0.61" fill="#00c000"/>
<rect x="813.43" y="528.16" width="1.4" height="2.44" fill="#00c000"/>
<rect x="815.78" y="527.4" width="1.4" height="3.2" fill="#00c000"/>
<rect x="818.14" y="527.2" width="1.4" height="3.4" fill="#00c000"/>
<rect x="820.49" y="527.13" width="1.4" height="3.47" fill="#00c000"/>
<rect x="822.85" y="527.22" width="1.4" height="3.38" fill="#00c000"/>
<rect x="825.2" y="527.47" width="1.4" height="3.13" fill="#00c000"/>
<rect x="827.56" y="527.8" width="1.4" height="2.8" fill="#00c000"/>
<rect x="829.91" y="528.24" width="1.4" height="2.36" fill="#00c000"/>
<rect x="832.27" y="528.9" width="1.4" height="1.7" fill="#00c000"/>
<rect x="834.62" y="529.86" width="1.4" height="0.74" fill="#00c000"/>
<rect x="846.4" y="529.76" width="1.4" height="0.84" fill="#00c000"/>
<rect x="858.17" y="530.6" width="1.4" height="0.67" fill="#ff0000"/>
<rect x="860.53" y="530.6" width="1.4" height="1.26" fill="#ff0000"/>
<rect x="862.88" y="530.6" width="1.4" height="2.18" fill="#ff0000"/>
<rect x="865.24" y="530.6" width="1.4" height="3.47" fill="#ff0000"/>
<rect x="867.59" y="530.6" width="1.4" height="5.23" fill="#ff0000"/>
<rect x="869.95" y="530.6" width="1.4" height="5.96" fill="#ff0000"/>
<rect x="872.3" y="530.6" width="1.4" height="6.14" fill="#ff0000"/>
<rect x="874.7" y="530.6" width="1.4" height="6.25" fill="#ff0000"/>
<rect x="877.1" y="530.6" width="1.4" height="6.28" fill="#ff0000"/>
<rect x="879.5" y="530.6" width="1.4" height="6.28" fill="#ff0000"/>
<rect x="881.9" y="530.6" width="1.4" height="6.28" fill="#ff0000"/>
<rect x="884.3" y="530.6" width="1.4" height="6.28" fill="#ff0000"/>
<rect x="886.7" y="530.6" width="1.4" height="5.46" fill="#ff0000"/>
<rect x="889.1" y="530.6" width="1.4" height="3.91" fill="#ff0000"/>
<rect x="891.5" y="530.6" width="1.4" height="2.63" fill="#ff0000"/>
<rect x="893.9" y="530.6" width="1.4" height="1.38" fill="#ff0000"/>
<rect x="896.3" y="530.6" width="1.4" height="1.13" fill="#ff0000"/>
<rect x="898.7" y="530.6" width="1.4" height="2.03" fill="#ff0000"/>
<rect x="901.1" y="530.6" width="1.4" height="2.28" fill="#ff0000"/>
<rect x="903.5" y="530.6" width="1.4" height="2.38" fill="#ff0000"/>
<rect x="905.9" y="530.6" width="1.4" height="2.48" fill="#ff0000"/>
<rect x="908.3" y="530.6" width="1.4" height="2.62" fill="#ff0000"/>
<rect x="910.7" y="530.6" width="1.4" height="2.8" fill="#ff0000"/>
<rect x="913.1" y="530.6" width="1.4" height="3.02" fill="#ff0000"/>
<rect x="915.5" y="530.6" width="1.4" height="3.33" fill="#ff0000"/>
<rect x="917.9" y="530.6" width="1.4" height="3.85" fill="#ff0000"/>
<rect x="920.3" y="530.6" width="1.4" height="4.3" fill="#ff0000"/>
<rect x="922.7" y="530.6" width="1.4" height="4.19" fill="#ff0000"/>
<rect x="925.1" y="530.6" width="1.4" height="2.43" fill="#ff0000"/>
<rect x="927.5" y="530.6" width="1.4" height="0.98" fill="#ff0000"/>
<rect x="937.1" y="530" width="1.4" height="0.6" fill="#00c000"/>
<rect x="939.5" y="530" width="1.4" height="0.6" fill="#00c000"/>
<rect x="941.9" y="530" width="1.4" height="0.6" fill="#00c000"/>
<rect x="944.3" y="529.93" width="1.4" height="0.67" fill="#00c000"/>
<rect x="946.68" y="529.61" width="1.4" height="0.99" fill="#00c000"/>
<rect x="949.06" y="529.38" width="1.4" height="1.22" fill="#00c000"/>
<rect x="951.44" y="529.52" width="1.4" height="1.08" fill="#00c000"/>
<rect x="953.82" y="529.83" width="1.4" height="0.77" fill="#00c000"/>
<rect x="963.33" y="529.51" width="1.4" height="1.09" fill="#00c000"/>
<rect x="965.71" y="527.39" width="1.4" height="3.21" fill="#00c000"/>
<rect x="968.09" y="525.6" width="1.4" height="5" fill="#00c000"/>
<rect x="970.47" y="524.64" width="1.4" height="5.96" fill="#00c000"/>
<rect x="972.85" y="524.11" width="1.4" height="6.49" fill="#00c000"/>
<rect x="975.23" y="524.03" width="1.4" height="6.57" fill="#00c000"/>
<rect x="977.61" y="524.3" width="1.4" height="6.3" fill="#00c000"/>
<rect x="979.99" y="525.22" width="1.4" height="5.38" fill="#00c000"/>
<rect x="982.36" y="526.48" width="1.4" height="4.12" fill="#00c000"/>
<rect x="984.74" y="527.24" width="1.4" height="3.36" fill="#00c000"/>
<rect x="987.12" y="528.37" width="1.4" height="2.23" fill="#00c000"/>
<rect x="996.64" y="530.6" width="1.4" height="0.63" fill="#ff0000"/>
<rect x="999.02" y="530.6" width="1.4" height="1.48" fill="#ff0000"/>
<rect x="1001.4" y="530.6" width="1.4" height="2.46" fill="#ff0000"/>
<rect x="1003.78" y="530.6" width="1.4" height="2.66" fill="#ff0000"/>
<rect x="1006.15" y="530.6" width="1.4" height="2.76" fill="#ff0000"/>
<rect x="1008.53" y="530.6" width="1.4" height="2.85" fill="#ff0000"/>
<rect x="1010.91" y="530.6" width="1.4" height="3.01" fill="#ff0000"/>
<rect x="1013.29" y="530.6" width="1.4" height="3.25" fill="#ff0000"/>
<rect x="1015.67" y="530.6" width="1.4" height="4.05" fill="#ff0000"/>
<rect x="1018.05" y="530.6" width="1.4" height="5.87" fill="#ff0000"/>
<rect x="1020.43" y="530.6" width="1.4" height="6.27" fill="#ff0000"/>
<rect x="1022.81" y="530.6" width="1.4" height="6.27" fill="#ff0000"/>
<rect x="1025.19" y="530.6" width="1.4" height="6.27" fill="#ff0000"/>
</g>
<line x1="0" y1="530.6" x2="1224.5" y2="530.6" stroke="#8c8c8c" stroke-width="1.6" />
<polygon points="0,521.88 1,522.06 2,522.24 3,522.42 4,522.6 5,522.77 6,522.94 7,523.11 8,523.27 9,523.46 10,523.66 11,523.86 11,523.75 10,523.74 9,523.73 8,523.7 7,523.66 6,523.62 5,523.56 4,523.5 3,523.44 2,523.36 1,523.28 0,523.19" fill="#d4f4d4"/>
<polygon points="19,523.49 20,523.2 21,522.97 22,522.83 23,522.82 24,522.91 25,523.06 26,523.27 27,523.51 28,523.78 28,523.77 27,523.65 26,523.55 25,523.47 24,523.41 23,523.38 22,523.38 21,523.39 20,523.42 19,523.46" fill="#d4f4d4"/>
<polygon points="56,534.03 57,534.39 58,534.75 59,535.11 60,535.47 61,535.83 62,536.21 63,536.59 64,536.98 65,537.42 66,537.92 67,538.46 67,538.28 66,538.04 65,537.75 64,537.41 63,537.04 62,536.63 61,536.2 60,535.75 59,535.3 58,534.84 57,534.39 56,533.95" fill="#d4f4d4"/>
<polygon points="83,540.14 84,539.93 85,539.77 86,539.69 87,539.79 88,540.2 89,540.8 89,540.51 88,540.4 87,540.31 86,540.23 85,540.15 84,540.09 83,540.02" fill="#d4f4d4"/>
<polygon points="107,543.93 108,543.58 109,543.2 110,542.78 111,542.3 112,541.45 113,540.26 114,538.89 115,537.5 116,536.23 117,535.14 118,534.06 119,533 120,531.96 121,530.95 122,529.99 123,529.08 124,528.24 125,527.39 126,526.53 127,525.69 128,524.91 129,524.22 130,523.66 131,523.26 132,523 133,522.76 134,522.53 135,522.32 136,522.13 137,521.96 138,521.82 139,521.7 140,521.6 141,521.54 142,521.51 143,521.5 144,521.5 145,521.5 146,521.5 147,521.5 148,521.5 149,521.5 150,521.5 151,521.6 152,521.88 153,522.29 154,522.8 155,523.38 155,522.98 154,522.82 153,522.83 152,522.88 151,522.98 150,523.1 149,523.26 148,523.44 147,523.64 146,523.86 145,524.09 144,524.33 143,524.57 142,524.81 141,525.09 140,525.4 139,525.75 138,526.13 137,526.54 136,526.97 135,527.44 134,527.93 133,528.44 132,528.97 131,529.52 130,530.18 129,530.93 128,531.78 127,532.68 126,533.62 125,534.58 124,535.53 123,536.44 122,537.3 121,538.08 120,538.76 119,539.39 118,540.04 117,540.68 116,541.3 115,541.88 114,542.39 113,542.83 112,543.17 111,543.39 110,543.51 109,543.6 108,543.69 107,543.77" fill="#d4f4d4"/>
<polygon points="198,537.38 199,537.22 200,537.03 201,536.83 202,536.6 203,536.34 204,536.06 204,536.04 203,536.36 202,536.65 201,536.9 200,537.09 199,537.23 198,537.32" fill="#d4f4d4"/>
<polygon points="204,536.06 205,535.69 206,535.05 207,534.2 208,533.21 209,532.18 210,531.17 211,530.27 212,529.56 213,529.11 214,529 215,529.02 216,529.07 217,529.14 218,529.23 219,529.33 220,529.48 221,529.8 222,530.23 223,530.72 224,531.21 225,531.62 226,531.97 227,532.3 228,532.62 228,532.51 227,532.34 226,532.23 225,532.19 224,532.19 223,532.19 222,532.19 221,532.19 220,532.19 219,532.19 218,532.19 217,532.21 216,532.32 215,532.53 214,532.81 213,533.12 212,533.46 211,533.78 210,534.07 209,534.35 208,534.67 207,535 206,535.35 205,535.7 204,536.04" fill="#d4f4d4"/>
<polygon points="250,539.5 251,538.94 252,538.38 253,537.87 254,537.41 255,536.94 256,536.46 257,535.97 258,535.47 259,534.96 260,534.45 261,533.93 262,533.4 263,532.85 264,532.28 265,531.67 266,531.04 267,530.41 268,529.77 269,529.14 270,528.53 271,527.94 272,527.4 273,526.9 274,526.46 275,526.05 276,525.67 277,525.3 278,524.96 279,524.62 280,524.3 281,523.99 282,523.69 283,523.4 284,523.11 285,522.81 286,522.5 287,522.17 288,521.82 289,521.48 290,521.16 291,520.87 292,520.64 293,520.47 294,520.38 295,520.42 296,520.63 297,520.97 298,521.39 299,521.83 300,522.25 301,522.66 302,523.11 303,523.6 303,523.29 302,523.18 301,523.08 300,522.99 299,522.91 298,522.86 297,522.82 296,522.82 295,522.92 294,523.15 293,523.48 292,523.9 291,524.38 290,524.91 289,525.45 288,526.01 287,526.55 286,527.05 285,527.5 284,527.93 283,528.36 282,528.8 281,529.24 280,529.68 279,530.12 278,530.55 277,530.97 276,531.37 275,531.75 274,532.1 273,532.44 272,532.75 271,533.04 270,533.32 269,533.59 268,533.86 267,534.12 266,534.39 265,534.66 264,534.94 263,535.23 262,535.54 261,535.9 260,536.31 259,536.75 258,537.19 257,537.63 256,538.04 255,538.41 254,538.72 253,538.95 252,539.09 251,539.12 250,539.02" fill="#d4f4d4"/>
<polygon points="329,528.58 330,527.98 331,527.27 332,526.5 333,525.7 334,524.92 335,524.18 336,523.54 337,523.02 338,522.64 339,522.27 340,521.91 341,521.56 342,521.24 343,520.95 344,520.71 345,520.52 346,520.41 347,520.38 348,520.41 349,520.5 350,520.62 351,520.77 352,520.93 353,521.09 354,521.25 355,521.38 356,521.48 357,521.55 358,521.62 359,521.69 360,521.75 361,521.81 361,521.8 360,521.88 359,521.92 358,521.96 357,521.99 356,522.02 355,522.04 354,522.06 353,522.08 352,522.11 351,522.14 350,522.19 349,522.24 348,522.33 347,522.51 346,522.77 345,523.09 344,523.46 343,523.86 342,524.29 341,524.71 340,525.12 339,525.51 338,525.85 337,526.15 336,526.46 335,526.79 334,527.13 333,527.46 332,527.77 331,528.07 330,528.32 329,528.54" fill="#d4f4d4"/>
<polygon points="365,521.45 366,520.69 367,519.8 368,519.01 369,518.55 370,518.52 371,518.64 372,518.85 373,519.12 374,519.43 375,519.76 376,520.1 377,520.41 378,520.79 379,521.25 379,521.24 378,521.1 377,520.96 376,520.81 375,520.67 374,520.54 373,520.45 372,520.39 371,520.38 370,520.42 369,520.51 368,520.64 367,520.8 366,520.98 365,521.17" fill="#d4f4d4"/>
<polygon points="387,521.39 388,520.14 389,518.85 390,517.7 391,516.76 392,515.91 393,515.05 394,514.14 395,513.11 396,511.86 397,510.18 398,508.16 399,505.96 400,503.74 401,501.68 402,499.94 403,498.65 404,497.48 405,496.34 406,495.29 407,494.39 408,493.7 409,493.29 410,493.2 411,493.2 412,493.2 413,493.2 414,493.2 415,493.2 416,493.2 417,493.09 418,492.79 419,492.37 420,491.89 421,490.89 422,489.57 423,488.5 424,488.2 425,488.2 426,488.2 427,488.2 428,488.2 429,488.2 430,488.2 431,489.01 432,490.87 433,492.95 433,492.03 432,491.91 431,491.81 430,491.75 429,491.71 428,491.71 427,491.8 426,492 425,492.29 424,492.66 423,493.11 422,493.62 421,494.2 420,494.83 419,495.5 418,496.22 417,496.96 416,497.72 415,498.5 414,499.28 413,500.06 412,500.83 411,501.59 410,502.44 409,503.41 408,504.48 407,505.63 406,506.83 405,508.08 404,509.34 403,510.6 402,511.85 401,513.05 400,514.19 399,515.26 398,516.22 397,517.06 396,517.78 395,518.48 394,519.16 393,519.78 392,520.31 391,520.71 390,520.94 389,521.07 388,521.18 387,521.28" fill="#d4f4d4"/>
<polygon points="481,509.28 482,509.12 483,508.97 484,508.84 485,508.77 486,508.8 487,509.35 488,510.4 489,511.8 489,511.23 488,510.92 487,510.61 486,510.31 485,510.01 484,509.72 483,509.42 482,509.12 481,508.82" fill="#d4f4d4"/>
<polygon points="522,530.66 523,529.83 524,529.06 525,528.42 526,528.01 527,527.88 528,528.17 529,528.82 530,529.71 530,529.57 529,529.38 528,529.4 527,529.51 526,529.69 525,529.91 524,530.14 523,530.38 522,530.59" fill="#d4f4d4"/>
<polygon points="547,532.61 548,531.74 549,530.76 550,529.72 551,528.69 552,527.54 553,526.04 554,524.53 555,523.38 556,522.57 557,521.83 558,521.17 559,520.57 560,520.05 561,519.6 562,519.23 563,518.91 564,518.62 565,518.33 566,518.06 567,517.82 568,517.6 569,517.43 570,517.29 571,517.21 572,517.19 573,517.31 574,517.59 575,517.99 576,518.48 577,519.02 578,519.56 579,520.08 579,520.05 578,520.01 577,520.01 576,520.05 575,520.14 574,520.26 573,520.41 572,520.59 571,520.79 570,521.01 569,521.24 568,521.47 567,521.7 566,521.94 565,522.18 564,522.46 563,522.76 562,523.09 561,523.44 560,523.81 559,524.2 558,524.62 557,525.06 556,525.52 555,526 554,526.61 553,527.4 552,528.32 551,529.29 550,530.25 549,531.14 548,531.89 547,532.44" fill="#d4f4d4"/>
<polygon points="629,536.85 630,536.82 631,536.78 632,536.74 633,536.71 634,536.67 635,536.63 636,536.6 637,536.57 638,536.54 639,536.52 640,536.51 641,536.5 642,536.7 643,537.52 644,538.82 644,538.21 643,538.06 642,537.94 641,537.82 640,537.72 639,537.63 638,537.54 637,537.47 636,537.39 635,537.32 634,537.24 633,537.16 632,537.08 631,536.98 630,536.88 629,536.77" fill="#d4f4d4"/>
<polygon points="665,547.32 666,546.53 667,545.97 668,545.89 669,546.03 670,546.25 671,546.55 672,547.05 673,548.08 673,548.07 672,547.86 671,547.67 670,547.47 669,547.28 668,547.09 667,546.9 666,546.7 665,546.5" fill="#d4f4d4"/>
<polygon points="698,545.18 699,544.71 700,544.22 701,543.7 702,543.16 703,542.59 704,541.91 705,541.08 706,540.14 707,539.15 708,538.17 709,537.26 710,536.46 711,535.85 712,535.46 713,535.33 714,535.25 715,535.18 716,535.12 717,535.07 718,535.03 719,535.01 720,535 721,535.4 722,536.24 723,537.02 724,537.25 725,537.25 726,537.25 727,537.25 727,537.18 726,537.32 725,537.47 724,537.64 723,537.82 722,538.01 721,538.19 720,538.38 719,538.57 718,538.8 717,539.05 716,539.32 715,539.61 714,539.91 713,540.22 712,540.54 711,540.86 710,541.18 709,541.49 708,541.8 707,542.11 706,542.42 705,542.74 704,543.06 703,543.39 702,543.73 701,544.07 700,544.41 699,544.77 698,545.13" fill="#d4f4d4"/>
<polygon points="735,537.25 736,537.25 737,537.25 738,537.25 739,537.27 740,537.57 741,538.18 742,538.98 742,538.56 741,538.29 740,538.05 739,537.86 738,537.69 737,537.52 736,537.36 735,537.2" fill="#d4f4d4"/>
<polygon points="749,540.71 750,540.12 751,539.46 752,538.8 753,538.2 754,537.7 755,537.25 756,536.82 757,536.39 758,535.97 759,535.56 760,535.15 761,534.74 762,534.34 763,533.94 764,533.53 765,533.13 766,532.74 767,532.39 768,532.06 769,531.73 770,531.39 771,531.03 772,530.62 773,530.15 774,529.6 775,528.91 776,527.89 777,526.63 778,525.29 779,523.97 780,522.82 781,521.76 782,520.67 783,519.57 784,518.49 785,517.47 786,516.53 787,515.7 788,515.02 789,514.52 790,514.18 791,513.92 792,513.69 793,513.5 794,513.33 795,513.17 796,513.01 797,512.85 798,512.66 799,512.44 800,512.13 801,511.81 802,511.6 803,511.59 804,511.76 805,512.05 806,512.4 807,512.78 808,513.11 809,513.35 810,513.44 811,513.44 812,513.44 813,513.44 814,513.42 815,513.06 816,512.31 817,511.34 818,510.26 819,509.23 820,508.39 821,507.88 822,507.68 823,507.52 824,507.37 825,507.24 826,507.13 827,507.03 828,506.96 829,506.91 830,506.88 831,506.89 832,507.01 833,507.23 834,507.51 835,507.81 836,508.08 836,507.83 835,507.94 834,508.09 833,508.26 832,508.46 831,508.68 830,508.92 829,509.18 828,509.44 827,509.71 826,509.98 825,510.25 824,510.55 823,510.91 822,511.3 821,511.72 820,512.13 819,512.52 818,512.87 817,513.16 816,513.38 815,513.52 814,513.63 813,513.72 812,513.79 811,513.85 810,513.91 809,513.97 808,514.03 807,514.11 806,514.19 805,514.3 804,514.43 803,514.6 802,514.82 801,515.08 800,515.37 799,515.69 798,516.04 797,516.41 796,516.79 795,517.19 794,517.62 793,518.09 792,518.62 791,519.18 790,519.79 789,520.43 788,521.1 787,521.81 786,522.54 785,523.33 784,524.3 783,525.41 782,526.6 781,527.82 780,529 779,530.1 778,531.05 777,531.8 776,532.29 775,532.68 774,533.01 773,533.31 772,533.57 771,533.81 770,534.03 769,534.23 768,534.42 767,534.61 766,534.8 765,535 764,535.22 763,535.46 762,535.72 761,536.02 760,536.39 759,536.83 758,537.31 757,537.83 756,538.34 755,538.83 754,539.29 753,539.68 752,539.98 751,540.18 750,540.25 749,540.21" fill="#d4f4d4"/>
<polygon points="850,507.27 851,506.9 852,506.88 853,506.9 854,506.93 855,506.98 856,507.04 857,507.11 858,507.18 859,507.28 859,507.25 858,507.25 857,507.25 856,507.25 855,507.25 854,507.25 853,507.25 852,507.25 851,507.25 850,507.25" fill="#d4f4d4"/>
<polygon points="894,523.12 895,522.59 896,522.27 897,522.31 898,522.53 899,522.83 899,522.52 898,522.56 897,522.61 896,522.67 895,522.73 894,522.78" fill="#d4f4d4"/>
<polygon points="930,530.62 931,530.35 932,530.06 933,529.77 934,529.46 935,529.16 936,528.86 937,528.56 938,528.28 939,528 940,527.75 941,527.51 942,527.26 943,527.03 944,526.79 945,526.57 946,526.35 947,526.15 948,525.96 949,525.78 950,525.62 951,525.48 952,525.34 953,525.21 954,525.09 955,524.98 956,524.88 957,524.79 958,524.71 959,524.66 960,524.62 961,524.58 962,524.53 963,524.45 964,524.31 965,523.49 966,522.02 967,520.25 968,518.54 969,517.21 970,515.98 971,514.73 972,513.55 973,512.52 974,511.73 975,511.25 976,510.97 977,510.72 978,510.49 979,510.31 980,510.16 981,510.06 982,510.01 983,510.02 984,510.13 985,510.35 986,510.63 987,510.95 988,511.28 989,511.6 990,511.88 991,512.12 992,512.36 993,512.6 994,512.84 995,513.09 996,513.34 996,513.12 995,513.12 994,513.12 993,513.12 992,513.12 991,513.12 990,513.12 989,513.12 988,513.12 987,513.14 986,513.29 985,513.56 984,513.93 983,514.39 982,514.91 981,515.48 980,516.07 979,516.66 978,517.23 977,517.78 976,518.41 975,519.1 974,519.83 973,520.57 972,521.28 971,521.93 970,522.5 969,523.02 968,523.53 967,524.03 966,524.5 965,524.91 964,525.26 963,525.53 962,525.71 961,525.85 960,525.97 959,526.08 958,526.17 957,526.25 956,526.33 955,526.4 954,526.47 953,526.56 952,526.65 951,526.75 950,526.88 949,527.02 948,527.19 947,527.39 946,527.59 945,527.81 944,528.04 943,528.27 942,528.49 941,528.71 940,528.92 939,529.12 938,529.3 937,529.45 936,529.62 935,529.78 934,529.95 933,530.11 932,530.26 931,530.39 930,530.5" fill="#d4f4d4"/>
<polygon points="10,523.66 11,523.86 12,524.03 13,524.18 14,524.28 15,524.31 16,524.24 17,524.05 18,523.79 19,523.49 20,523.2 20,523.42 19,523.46 18,523.51 17,523.56 16,523.61 15,523.65 14,523.69 13,523.73 12,523.75 11,523.75 10,523.74" fill="#f6d4d4"/>
<polygon points="27,523.51 28,523.78 29,524.05 30,524.31 31,524.59 32,524.89 33,525.23 34,525.58 35,525.96 36,526.35 37,526.75 38,527.16 39,527.56 40,527.96 41,528.34 42,528.72 43,529.1 44,529.48 45,529.87 46,530.26 47,530.64 48,531.03 49,531.42 50,531.8 51,532.18 52,532.56 53,532.94 54,533.31 55,533.67 56,534.03 57,534.39 57,534.39 56,533.95 55,533.49 54,533 53,532.48 52,531.95 51,531.41 50,530.86 49,530.33 48,529.81 47,529.32 46,528.86 45,528.44 44,528.04 43,527.63 42,527.24 41,526.85 40,526.47 39,526.11 38,525.77 37,525.46 36,525.18 35,524.94 34,524.73 33,524.56 32,524.39 31,524.22 30,524.06 29,523.91 28,523.77 27,523.65" fill="#f6d4d4"/>
<polygon points="66,537.92 67,538.46 68,539.02 69,539.57 70,540.09 71,540.56 72,540.97 73,541.29 74,541.49 75,541.56 76,541.51 77,541.37 78,541.17 79,540.95 80,540.74 81,540.56 82,540.36 83,540.14 84,539.93 84,540.09 83,540.02 82,539.95 81,539.88 80,539.8 79,539.71 78,539.62 77,539.52 76,539.43 75,539.34 74,539.24 73,539.13 72,539.02 71,538.9 70,538.77 69,538.62 68,538.46 67,538.28 66,538.04" fill="#f6d4d4"/>
<polygon points="88,540.2 89,540.8 90,541.48 91,542.1 92,542.54 93,542.9 94,543.27 95,543.62 96,543.96 97,544.26 98,544.52 99,544.73 100,544.87 101,544.94 102,544.92 103,544.84 104,544.69 105,544.49 106,544.23 107,543.93 108,543.58 108,543.69 107,543.77 106,543.84 105,543.9 104,543.95 103,543.98 102,544 101,544 100,543.9 99,543.7 98,543.41 97,543.05 96,542.65 95,542.23 94,541.82 93,541.43 92,541.08 91,540.81 90,540.63 89,540.51 88,540.4" fill="#f6d4d4"/>
<polygon points="154,522.8 155,523.38 156,523.99 157,524.86 158,525.99 159,527.31 160,528.73 161,530.2 162,531.63 163,532.96 164,534.3 165,535.84 166,537.43 167,538.9 168,540.09 169,540.84 170,540.99 171,540.77 172,540.37 173,539.87 174,539.37 175,538.97 176,538.76 177,538.75 178,538.75 179,538.75 180,538.75 181,538.75 182,538.75 183,538.75 184,538.75 185,538.75 186,538.75 187,538.72 188,538.66 189,538.58 190,538.48 191,538.36 192,538.23 193,538.09 194,537.95 195,537.82 196,537.68 197,537.54 198,537.38 199,537.22 199,537.23 198,537.32 197,537.4 196,537.47 195,537.54 194,537.6 193,537.66 192,537.71 191,537.75 190,537.78 189,537.8 188,537.81 187,537.81 186,537.81 185,537.81 184,537.81 183,537.81 182,537.81 181,537.81 180,537.81 179,537.81 178,537.81 177,537.76 176,537.62 175,537.41 174,537.14 173,536.82 172,536.47 171,536.08 170,535.61 169,534.84 168,533.82 167,532.66 166,531.44 165,530.26 164,529.19 163,528.34 162,527.55 161,526.73 160,525.92 159,525.14 158,524.43 157,523.81 156,523.32 155,522.98 154,522.82" fill="#f6d4d4"/>
<polygon points="203,536.34 204,536.06 205,535.69 205,535.7 204,536.04 203,536.36" fill="#f6d4d4"/>
<polygon points="227,532.3 228,532.62 229,532.93 230,533.24 231,533.56 232,533.89 233,534.23 234,534.57 235,534.9 236,535.24 237,535.59 238,535.98 239,536.4 240,536.88 241,537.56 242,538.49 243,539.48 244,540.34 245,540.89 246,540.99 247,540.81 248,540.48 249,540.03 250,539.5 251,538.94 251,539.12 250,539.02 249,538.79 248,538.46 247,538.06 246,537.6 245,537.11 244,536.62 243,536.14 242,535.69 241,535.3 240,535 239,534.76 238,534.54 237,534.33 236,534.14 235,533.96 234,533.77 233,533.59 232,533.4 231,533.18 230,532.95 229,532.72 228,532.51 227,532.34" fill="#f6d4d4"/>
<polygon points="302,523.11 303,523.6 304,524.11 305,524.62 306,525.12 307,525.6 308,526.04 309,526.43 310,526.77 311,527.11 312,527.44 313,527.76 314,528.06 315,528.33 316,528.57 317,528.77 318,528.92 319,529.02 320,529.1 321,529.17 322,529.24 323,529.29 324,529.33 325,529.36 326,529.38 327,529.31 328,529.03 329,528.58 330,527.98 330,528.32 329,528.54 328,528.7 327,528.79 326,528.81 325,528.77 324,528.66 323,528.51 322,528.33 321,528.11 320,527.86 319,527.6 318,527.34 317,527.07 316,526.81 315,526.56 314,526.31 313,526.01 312,525.69 311,525.36 310,525.01 309,524.67 308,524.35 307,524.05 306,523.79 305,523.57 304,523.41 303,523.29 302,523.18" fill="#f6d4d4"/>
<polygon points="360,521.75 361,521.81 362,521.85 363,521.87 364,521.86 365,521.45 366,520.69 366,520.98 365,521.17 364,521.35 363,521.53 362,521.68 361,521.8 360,521.88" fill="#f6d4d4"/>
<polygon points="378,520.79 379,521.25 380,521.75 381,522.24 382,522.67 383,523 384,523.17 385,523.07 386,522.43 387,521.39 388,520.14 388,521.18 387,521.28 386,521.37 385,521.43 384,521.48 383,521.5 382,521.49 381,521.45 380,521.36 379,521.24 378,521.1" fill="#f6d4d4"/>
<polygon points="432,490.87 433,492.95 434,494.4 435,495.16 436,495.76 437,496.27 438,496.76 439,497.27 440,497.87 441,498.52 442,499.21 443,499.92 444,500.63 445,501.32 446,501.98 447,502.59 448,503.14 449,503.6 450,503.99 451,504.36 452,504.72 453,505.02 454,505.22 455,505.3 456,505.3 457,505.3 458,505.3 459,505.3 460,505.3 461,505.3 462,505.3 463,505.33 464,506.27 465,507.86 466,509.23 467,509.6 468,509.6 469,509.6 470,509.6 471,509.6 472,509.6 473,509.6 474,509.6 475,509.6 476,509.6 477,509.6 478,509.6 479,509.54 480,509.43 481,509.28 482,509.12 482,509.12 481,508.82 480,508.5 479,508.18 478,507.86 477,507.55 476,507.24 475,506.93 474,506.63 473,506.33 472,506.03 471,505.73 470,505.43 469,505.14 468,504.85 467,504.55 466,504.26 465,503.97 464,503.69 463,503.41 462,503.14 461,502.88 460,502.62 459,502.37 458,502.11 457,501.85 456,501.58 455,501.29 454,500.99 453,500.68 452,500.34 451,499.95 450,499.49 449,498.98 448,498.42 447,497.83 446,497.22 445,496.59 444,495.97 443,495.36 442,494.77 441,494.23 440,493.73 439,493.29 438,492.93 437,492.65 436,492.46 435,492.31 434,492.16 433,492.03 432,491.91" fill="#f6d4d4"/>
<polygon points="488,510.4 489,511.8 490,513.41 491,515.08 492,516.65 493,517.98 494,519.09 495,520.18 496,521.25 497,522.29 498,523.31 499,524.3 500,525.25 501,526.18 502,527.07 503,527.94 504,528.9 505,529.91 506,530.88 507,531.76 508,532.47 509,532.95 510,533.13 511,533.13 512,533.13 513,533.13 514,533.13 515,533.13 516,533.13 517,533.13 518,533.08 519,532.77 520,532.21 521,531.48 522,530.66 523,529.83 523,530.38 522,530.59 521,530.76 520,530.86 519,530.86 518,530.69 517,530.34 516,529.85 515,529.23 514,528.51 513,527.73 512,526.9 511,526.05 510,525.21 509,524.41 508,523.66 507,522.88 506,522.03 505,521.12 504,520.19 503,519.23 502,518.29 501,517.38 500,516.51 499,515.72 498,515.02 497,514.44 496,513.95 495,513.49 494,513.05 493,512.65 492,512.27 491,511.9 490,511.56 489,511.23 488,510.92" fill="#f6d4d4"/>
<polygon points="529,528.82 530,529.71 531,530.71 532,531.68 533,532.49 534,533.03 535,533.24 536,533.4 537,533.55 538,533.68 539,533.8 540,533.9 541,533.97 542,534.03 543,534.06 544,534.05 545,533.82 546,533.32 547,532.61 548,531.74 548,531.89 547,532.44 546,532.73 545,532.75 544,532.73 543,532.7 542,532.66 541,532.6 540,532.53 539,532.45 538,532.36 537,532.27 536,532.15 535,531.89 534,531.46 533,530.95 532,530.42 531,529.93 530,529.57 529,529.38" fill="#f6d4d4"/>
<polygon points="578,519.56 579,520.08 580,520.53 581,520.87 582,521.1 583,521.27 584,521.41 585,521.54 586,521.68 587,521.84 588,522.05 589,522.33 590,522.87 591,523.68 592,524.68 593,525.8 594,526.96 595,528.1 596,529.14 597,530.09 598,531.14 599,532.23 600,533.3 601,534.28 602,535.09 603,535.68 604,535.99 605,536.2 606,536.39 607,536.56 608,536.72 609,536.85 610,536.97 611,537.07 612,537.15 613,537.21 614,537.24 615,537.25 616,537.25 617,537.24 618,537.22 619,537.19 620,537.16 621,537.13 622,537.1 623,537.06 624,537.02 625,536.98 626,536.95 627,536.91 628,536.88 629,536.85 630,536.82 630,536.88 629,536.77 628,536.66 627,536.56 626,536.46 625,536.36 624,536.26 623,536.15 622,536.04 621,535.93 620,535.8 619,535.67 618,535.52 617,535.36 616,535.19 615,535 614,534.77 613,534.48 612,534.14 611,533.75 610,533.33 609,532.87 608,532.4 607,531.91 606,531.41 605,530.92 604,530.43 603,529.94 602,529.39 601,528.79 600,528.16 599,527.51 598,526.84 597,526.17 596,525.5 595,524.86 594,524.24 593,523.66 592,523.13 591,522.66 590,522.26 589,521.94 588,521.69 587,521.44 586,521.2 585,520.97 584,520.76 583,520.56 582,520.39 581,520.24 580,520.13 579,520.05 578,520.01" fill="#f6d4d4"/>
<polygon points="643,537.52 644,538.82 645,540.42 646,542.15 647,543.86 648,545.35 649,546.5 650,547.59 651,548.71 652,549.71 653,550.49 654,550.9 655,550.92 656,550.82 657,550.63 658,550.37 659,550.05 660,549.69 661,549.29 662,548.88 663,548.45 664,548.01 665,547.32 666,546.53 666,546.7 665,546.5 664,546.32 663,546.15 662,545.98 661,545.81 660,545.62 659,545.43 658,545.21 657,544.96 656,544.67 655,544.26 654,543.73 653,543.09 652,542.4 651,541.67 650,540.94 649,540.24 648,539.6 647,539.06 646,538.64 645,538.38 644,538.21 643,538.06" fill="#f6d4d4"/>
<polygon points="672,547.05 673,548.08 674,549.38 675,550.63 676,551.56 677,551.88 678,551.88 679,551.88 680,551.88 681,551.88 682,551.88 683,551.88 684,551.88 685,551.84 686,551.62 687,551.25 688,550.75 689,550.17 690,549.52 691,548.86 692,548.21 693,547.6 694,547.07 695,546.59 696,546.11 697,545.65 698,545.18 699,544.71 699,544.77 698,545.13 697,545.52 696,545.96 695,546.47 694,547.01 693,547.58 692,548.15 691,548.71 690,549.25 689,549.74 688,550.17 687,550.52 686,550.77 685,550.91 684,550.93 683,550.84 682,550.65 681,550.39 680,550.09 679,549.75 678,549.4 677,549.06 676,548.76 675,548.5 674,548.28 673,548.07 672,547.86" fill="#f6d4d4"/>
<polygon points="726,537.25 727,537.25 728,537.25 729,537.25 730,537.25 731,537.25 732,537.25 733,537.25 734,537.25 735,537.25 736,537.25 736,537.36 735,537.2 734,537.06 733,536.96 732,536.89 731,536.88 730,536.91 729,536.97 728,537.06 727,537.18 726,537.32" fill="#f6d4d4"/>
<polygon points="741,538.18 742,538.98 743,539.84 744,540.63 745,541.24 746,541.55 747,541.49 748,541.19 749,540.71 750,540.12 750,540.25 749,540.21 748,540.09 747,539.92 746,539.69 745,539.43 744,539.14 743,538.85 742,538.56 741,538.29" fill="#f6d4d4"/>
<polygon points="835,507.81 836,508.08 837,508.28 838,508.37 839,508.38 840,508.38 841,508.38 842,508.38 843,508.38 844,508.38 845,508.38 846,508.38 847,508.38 848,508.3 849,507.85 850,507.27 851,506.9 851,507.25 850,507.25 849,507.25 848,507.25 847,507.25 846,507.26 845,507.29 844,507.32 843,507.36 842,507.41 841,507.47 840,507.53 839,507.6 838,507.68 837,507.75 836,507.83 835,507.94" fill="#f6d4d4"/>
<polygon points="858,507.18 859,507.28 860,507.47 861,507.79 862,508.22 863,508.72 864,509.28 865,509.87 866,510.47 867,511.11 868,511.9 869,512.78 870,513.74 871,514.72 872,515.67 873,516.57 874,517.37 875,518.19 876,519.06 877,519.95 878,520.84 879,521.7 880,522.5 881,523.21 882,523.82 883,524.28 884,524.58 885,524.69 886,524.67 887,524.6 888,524.51 889,524.38 890,524.22 891,524.04 892,523.85 893,523.61 894,523.12 895,522.59 895,522.73 894,522.78 893,522.81 892,522.79 891,522.62 890,522.32 889,521.89 888,521.37 887,520.78 886,520.14 885,519.47 884,518.81 883,518.17 882,517.58 881,517.06 880,516.55 879,516.03 878,515.51 877,514.99 876,514.47 875,513.96 874,513.45 873,512.95 872,512.47 871,512 870,511.56 869,511.1 868,510.61 867,510.1 866,509.59 865,509.09 864,508.62 863,508.19 862,507.83 861,507.54 860,507.34 859,507.25 858,507.25" fill="#f6d4d4"/>
<polygon points="898,522.53 899,522.83 900,523.12 901,523.42 902,523.74 903,524.09 904,524.45 905,524.81 906,525.16 907,525.48 908,525.76 909,526.01 910,526.23 911,526.44 912,526.65 913,526.89 914,527.17 915,527.5 916,528.02 917,528.77 918,529.65 919,530.57 920,531.41 921,532.07 922,532.45 923,532.48 924,532.37 925,532.16 926,531.89 927,531.57 928,531.24 929,530.92 930,530.62 931,530.35 931,530.39 930,530.5 929,530.58 928,530.62 927,530.6 926,530.39 925,530.02 924,529.54 923,529 922,528.45 921,527.93 920,527.5 919,527.13 918,526.76 917,526.4 916,526.06 915,525.73 914,525.42 913,525.13 912,524.87 911,524.6 910,524.33 909,524.06 908,523.79 907,523.53 906,523.29 905,523.07 904,522.88 903,522.72 902,522.6 901,522.53 900,522.5 899,522.52 898,522.56" fill="#f6d4d4"/>
<polygon points="995,513.09 996,513.34 997,513.61 998,513.9 999,514.22 1000,514.56 1001,514.91 1002,515.27 1003,515.62 1004,515.95 1005,516.25 1006,516.51 1007,516.74 1008,516.95 1009,517.16 1010,517.38 1011,517.64 1012,517.95 1013,518.33 1014,518.88 1015,519.55 1016,520.32 1017,521.16 1018,522.04 1019,522.91 1020,523.75 1021,524.66 1022,525.68 1023,526.68 1024,527.54 1025,528.12 1026,528.45 1026,523.86 1025,523.3 1024,522.75 1023,522.21 1022,521.68 1021,521.15 1020,520.62 1019,520.1 1018,519.57 1017,519.05 1016,518.56 1015,518.12 1014,517.73 1013,517.36 1012,517.01 1011,516.68 1010,516.37 1009,516.06 1008,515.77 1007,515.48 1006,515.16 1005,514.83 1004,514.5 1003,514.17 1002,513.87 1001,513.6 1000,513.38 999,513.22 998,513.14 997,513.12 996,513.12 995,513.12" fill="#f6d4d4"/>
<polyline points="0,523.19 1,523.28 2,523.36 3,523.44 4,523.5 5,523.56 6,523.62 7,523.66 8,523.7 9,523.73 10,523.74 11,523.75 12,523.75 13,523.73 14,523.69 15,523.65 16,523.61 17,523.56 18,523.51 19,523.46 20,523.42 21,523.39 22,523.38 23,523.38 24,523.41 25,523.47 26,523.55 27,523.65 28,523.77 29,523.91 30,524.06 31,524.22 32,524.39 33,524.56 34,524.73 35,524.94 36,525.18 37,525.46 38,525.77 39,526.11 40,526.47 41,526.85 42,527.24 43,527.63 44,528.04 45,528.44 46,528.86 47,529.32 48,529.81 49,530.33 50,530.86 51,531.41 52,531.95 53,532.48 54,533 55,533.49 56,533.95 57,534.39 58,534.84 59,535.3 60,535.75 61,536.2 62,536.63 63,537.04 64,537.41 65,537.75 66,538.04 67,538.28 68,538.46 69,538.62 70,538.77 71,538.9 72,539.02 73,539.13 74,539.24 75,539.34 76,539.43 77,539.52 78,539.62 79,539.71 80,539.8 81,539.88 82,539.95 83,540.02 84,540.09 85,540.15 86,540.23 87,540.31 88,540.4 89,540.51 90,540.63 91,540.81 92,541.08 93,541.43 94,541.82 95,542.23 96,542.65 97,543.05 98,543.41 99,543.7 100,543.9 101,544 102,544 103,543.98 104,543.95 105,543.9 106,543.84 107,543.77 108,543.69 109,543.6 110,543.51 111,543.39 112,543.17 113,542.83 114,542.39 115,541.88 116,541.3 117,540.68 118,540.04 119,539.39 120,538.76 121,538.08 122,537.3 123,536.44 124,535.53 125,534.58 126,533.62 127,532.68 128,531.78 129,530.93 130,530.18 131,529.52 132,528.97 133,528.44 134,527.93 135,527.44 136,526.97 137,526.54 138,526.13 139,525.75 140,525.4 141,525.09 142,524.81 143,524.57 144,524.33 145,524.09 146,523.86 147,523.64 148,523.44 149,523.26 150,523.1 151,522.98 152,522.88 153,522.83 154,522.82 155,522.98 156,523.32 157,523.81 158,524.43 159,525.14 160,525.92 161,526.73 162,527.55 163,528.34 164,529.19 165,530.26 166,531.44 167,532.66 168,533.82 169,534.84 170,535.61 171,536.08 172,536.47 173,536.82 174,537.14 175,537.41 176,537.62 177,537.76 178,537.81 179,537.81 180,537.81 181,537.81 182,537.81 183,537.81 184,537.81 185,537.81 186,537.81 187,537.81 188,537.81 189,537.8 190,537.78 191,537.75 192,537.71 193,537.66 194,537.6 195,537.54 196,537.47 197,537.4 198,537.32 199,537.23 200,537.09 201,536.9 202,536.65 203,536.36 204,536.04 205,535.7 206,535.35 207,535 208,534.67 209,534.35 210,534.07 211,533.78 212,533.46 213,533.12 214,532.81 215,532.53 216,532.32 217,532.21 218,532.19 219,532.19 220,532.19 221,532.19 222,532.19 223,532.19 224,532.19 225,532.19 226,532.23 227,532.34 228,532.51 229,532.72 230,532.95 231,533.18 232,533.4 233,533.59 234,533.77 235,533.96 236,534.14 237,534.33 238,534.54 239,534.76 240,535 241,535.3 242,535.69 243,536.14 244,536.62 245,537.11 246,537.6 247,538.06 248,538.46 249,538.79 250,539.02 251,539.12 252,539.09 253,538.95 254,538.72 255,538.41 256,538.04 257,537.63 258,537.19 259,536.75 260,536.31 261,535.9 262,535.54 263,535.23 264,534.94 265,534.66 266,534.39 267,534.12 268,533.86 269,533.59 270,533.32 271,533.04 272,532.75 273,532.44 274,532.1 275,531.75 276,531.37 277,530.97 278,530.55 279,530.12 280,529.68 281,529.24 282,528.8 283,528.36 284,527.93 285,527.5 286,527.05 287,526.55 288,526.01 289,525.45 290,524.91 291,524.38 292,523.9 293,523.48 294,523.15 295,522.92 296,522.82 297,522.82 298,522.86 299,522.91 300,522.99 301,523.08 302,523.18 303,523.29 304,523.41 305,523.57 306,523.79 307,524.05 308,524.35 309,524.67 310,525.01 311,525.36 312,525.69 313,526.01 314,526.31 315,526.56 316,526.81 317,527.07 318,527.34 319,527.6 320,527.86 321,528.11 322,528.33 323,528.51 324,528.66 325,528.77 326,528.81 327,528.79 328,528.7 329,528.54 330,528.32 331,528.07 332,527.77 333,527.46 334,527.13 335,526.79 336,526.46 337,526.15 338,525.85 339,525.51 340,525.12 341,524.71 342,524.29 343,523.86 344,523.46 345,523.09 346,522.77 347,522.51 348,522.33 349,522.24 350,522.19 351,522.14 352,522.11 353,522.08 354,522.06 355,522.04 356,522.02 357,521.99 358,521.96 359,521.92 360,521.88 361,521.8 362,521.68 363,521.53 364,521.35 365,521.17 366,520.98 367,520.8 368,520.64 369,520.51 370,520.42 371,520.38 372,520.39 373,520.45 374,520.54 375,520.67 376,520.81 377,520.96 378,521.1 379,521.24 380,521.36 381,521.45 382,521.49 383,521.5 384,521.48 385,521.43 386,521.37 387,521.28 388,521.18 389,521.07 390,520.94 391,520.71 392,520.31 393,519.78 394,519.16 395,518.48 396,517.78 397,517.06 398,516.22 399,515.26 400,514.19 401,513.05 402,511.85 403,510.6 404,509.34 405,508.08 406,506.83 407,505.63 408,504.48 409,503.41 410,502.44 411,501.59 412,500.83 413,500.06 414,499.28 415,498.5 416,497.72 417,496.96 418,496.22 419,495.5 420,494.83 421,494.2 422,493.62 423,493.11 424,492.66 425,492.29 426,492 427,491.8 428,491.71 429,491.71 430,491.75 431,491.81 432,491.91 433,492.03 434,492.16 435,492.31 436,492.46 437,492.65 438,492.93 439,493.29 440,493.73 441,494.23 442,494.77 443,495.36 444,495.97 445,496.59 446,497.22 447,497.83 448,498.42 449,498.98 450,499.49 451,499.95 452,500.34 453,500.68 454,500.99 455,501.29 456,501.58 457,501.85 458,502.11 459,502.37 460,502.62 461,502.88 462,503.14 463,503.41 464,503.69 465,503.97 466,504.26 467,504.55 468,504.85 469,505.14 470,505.43 471,505.73 472,506.03 473,506.33 474,506.63 475,506.93 476,507.24 477,507.55 478,507.86 479,508.18 480,508.5 481,508.82 482,509.12 483,509.42 484,509.72 485,510.01 486,510.31 487,510.61 488,510.92 489,511.23 490,511.56 491,511.9 492,512.27 493,512.65 494,513.05 495,513.49 496,513.95 497,514.44 498,515.02 499,515.72 500,516.51 501,517.38 502,518.29 503,519.23 504,520.19 505,521.12 506,522.03 507,522.88 508,523.66 509,524.41 510,525.21 511,526.05 512,526.9 513,527.73 514,528.51 515,529.23 516,529.85 517,530.34 518,530.69 519,530.86 520,530.86 521,530.76 522,530.59 523,530.38 524,530.14 525,529.91 526,529.69 527,529.51 528,529.4 529,529.38 530,529.57 531,529.93 532,530.42 533,530.95 534,531.46 535,531.89 536,532.15 537,532.27 538,532.36 539,532.45 540,532.53 541,532.6 542,532.66 543,532.7 544,532.73 545,532.75 546,532.73 547,532.44 548,531.89 549,531.14 550,530.25 551,529.29 552,528.32 553,527.4 554,526.61 555,526 556,525.52 557,525.06 558,524.62 559,524.2 560,523.81 561,523.44 562,523.09 563,522.76 564,522.46 565,522.18 566,521.94 567,521.7 568,521.47 569,521.24 570,521.01 571,520.79 572,520.59 573,520.41 574,520.26 575,520.14 576,520.05 577,520.01 578,520.01 579,520.05 580,520.13 581,520.24 582,520.39 583,520.56 584,520.76 585,520.97 586,521.2 587,521.44 588,521.69 589,521.94 590,522.26 591,522.66 592,523.13 593,523.66 594,524.24 595,524.86 596,525.5 597,526.17 598,526.84 599,527.51 600,528.16 601,528.79 602,529.39 603,529.94 604,530.43 605,530.92 606,531.41 607,531.91 608,532.4 609,532.87 610,533.33 611,533.75 612,534.14 613,534.48 614,534.77 615,535 616,535.19 617,535.36 618,535.52 619,535.67 620,535.8 621,535.93 622,536.04 623,536.15 624,536.26 625,536.36 626,536.46 627,536.56 628,536.66 629,536.77 630,536.88 631,536.98 632,537.08 633,537.16 634,537.24 635,537.32 636,537.39 637,537.47 638,537.54 639,537.63 640,537.72 641,537.82 642,537.94 643,538.06 644,538.21 645,538.38 646,538.64 647,539.06 648,539.6 649,540.24 650,540.94 651,541.67 652,542.4 653,543.09 654,543.73 655,544.26 656,544.67 657,544.96 658,545.21 659,545.43 660,545.62 661,545.81 662,545.98 663,546.15 664,546.32 665,546.5 666,546.7 667,546.9 668,547.09 669,547.28 670,547.47 671,547.67 672,547.86 673,548.07 674,548.28 675,548.5 676,548.76 677,549.06 678,549.4 679,549.75 680,550.09 681,550.39 682,550.65 683,550.84 684,550.93 685,550.91 686,550.77 687,550.52 688,550.17 689,549.74 690,549.25 691,548.71 692,548.15 693,547.58 694,547.01 695,546.47 696,545.96 697,545.52 698,545.13 699,544.77 700,544.41 701,544.07 702,543.73 703,543.39 704,543.06 705,542.74 706,542.42 707,542.11 708,541.8 709,541.49 710,541.18 711,540.86 712,540.54 713,540.22 714,539.91 715,539.61 716,539.32 717,539.05 718,538.8 719,538.57 720,538.38 721,538.19 722,538.01 723,537.82 724,537.64 725,537.47 726,537.32 727,537.18 728,537.06 729,536.97 730,536.91 731,536.88 732,536.89 733,536.96 734,537.06 735,537.2 736,537.36 737,537.52 738,537.69 739,537.86 740,538.05 741,538.29 742,538.56 743,538.85 744,539.14 745,539.43 746,539.69 747,539.92 748,540.09 749,540.21 750,540.25 751,540.18 752,539.98 753,539.68 754,539.29 755,538.83 756,538.34 757,537.83 758,537.31 759,536.83 760,536.39 761,536.02 762,535.72 763,535.46 764,535.22 765,535 766,534.8 767,534.61 768,534.42 769,534.23 770,534.03 771,533.81 772,533.57 773,533.31 774,533.01 775,532.68 776,532.29 777,531.8 778,531.05 779,530.1 780,529 781,527.82 782,526.6 783,525.41 784,524.3 785,523.33 786,522.54 787,521.81 788,521.1 789,520.43 790,519.79 791,519.18 792,518.62 793,518.09 794,517.62 795,517.19 796,516.79 797,516.41 798,516.04 799,515.69 800,515.37 801,515.08 802,514.82 803,514.6 804,514.43 805,514.3 806,514.19 807,514.11 808,514.03 809,513.97 810,513.91 811,513.85 812,513.79 813,513.72 814,513.63 815,513.52 816,513.38 817,513.16 818,512.87 819,512.52 820,512.13 821,511.72 822,511.3 823,510.91 824,510.55 825,510.25 826,509.98 827,509.71 828,509.44 829,509.18 830,508.92 831,508.68 832,508.46 833,508.26 834,508.09 835,507.94 836,507.83 837,507.75 838,507.68 839,507.6 840,507.53 841,507.47 842,507.41 843,507.36 844,507.32 845,507.29 846,507.26 847,507.25 848,507.25 849,507.25 850,507.25 851,507.25 852,507.25 853,507.25 854,507.25 855,507.25 856,507.25 857,507.25 858,507.25 859,507.25 860,507.34 861,507.54 862,507.83 863,508.19 864,508.62 865,509.09 866,509.59 867,510.1 868,510.61 869,511.1 870,511.56 871,512 872,512.47 873,512.95 874,513.45 875,513.96 876,514.47 877,514.99 878,515.51 879,516.03 880,516.55 881,517.06 882,517.58 883,518.17 884,518.81 885,519.47 886,520.14 887,520.78 888,521.37 889,521.89 890,522.32 891,522.62 892,522.79 893,522.81 894,522.78 895,522.73 896,522.67 897,522.61 898,522.56 899,522.52 900,522.5 901,522.53 902,522.6 903,522.72 904,522.88 905,523.07 906,523.29 907,523.53 908,523.79 909,524.06 910,524.33 911,524.6 912,524.87 913,525.13 914,525.42 915,525.73 916,526.06 917,526.4 918,526.76 919,527.13 920,527.5 921,527.93 922,528.45 923,529 924,529.54 925,530.02 926,530.39 927,530.6 928,530.62 929,530.58 930,530.5 931,530.39 932,530.26 933,530.11 934,529.95 935,529.78 936,529.62 937,529.45 938,529.3 939,529.12 940,528.92 941,528.71 942,528.49 943,528.27 944,528.04 945,527.81 946,527.59 947,527.39 948,527.19 949,527.02 950,526.88 951,526.75 952,526.65 953,526.56 954,526.47 955,526.4 956,526.33 957,526.25 958,526.17 959,526.08 960,525.97 961,525.85 962,525.71 963,525.53 964,525.26 965,524.91 966,524.5 967,524.03 968,523.53 969,523.02 970,522.5 971,521.93 972,521.28 973,520.57 974,519.83 975,519.1 976,518.41 977,517.78 978,517.23 979,516.66 980,516.07 981,515.48 982,514.91 983,514.39 984,513.93 985,513.56 986,513.29 987,513.14 988,513.12 989,513.12 990,513.12 991,513.12 992,513.12 993,513.12 994,513.12 995,513.12 996,513.12 997,513.12 998,513.14 999,513.22 1000,513.38 1001,513.6 1002,513.87 1003,514.17 1004,514.5 1005,514.83 1006,515.16 1007,515.48 1008,515.77 1009,516.06 1010,516.37 1011,516.68 1012,517.01 1013,517.36 1014,517.73 1015,518.12 1016,518.56 1017,519.05 1018,519.57 1019,520.1 1020,520.62 1021,521.15 1022,521.68 1023,522.21 1024,522.75 1025,523.3 1026,523.86" fill="none" stroke="#ff5a28" stroke-width="1.0"/>
<polyline points="0,521.88 1,522.06 2,522.24 3,522.42 4,522.6 5,522.77 6,522.94 7,523.11 8,523.27 9,523.46 10,523.66 11,523.86 12,524.03 13,524.18 14,524.28 15,524.31 16,524.24 17,524.05 18,523.79 19,523.49 20,523.2 21,522.97 22,522.83 23,522.82 24,522.91 25,523.06 26,523.27 27,523.51 28,523.78 29,524.05 30,524.31 31,524.59 32,524.89 33,525.23 34,525.58 35,525.96 36,526.35 37,526.75 38,527.16 39,527.56 40,527.96 41,528.34 42,528.72 43,529.1 44,529.48 45,529.87 46,530.26 47,530.64 48,531.03 49,531.42 50,531.8 51,532.18 52,532.56 53,532.94 54,533.31 55,533.67 56,534.03 57,534.39 58,534.75 59,535.11 60,535.47 61,535.83 62,536.21 63,536.59 64,536.98 65,537.42 66,537.92 67,538.46 68,539.02 69,539.57 70,540.09 71,540.56 72,540.97 73,541.29 74,541.49 75,541.56 76,541.51 77,541.37 78,541.17 79,540.95 80,540.74 81,540.56 82,540.36 83,540.14 84,539.93 85,539.77 86,539.69 87,539.79 88,540.2 89,540.8 90,541.48 91,542.1 92,542.54 93,542.9 94,543.27 95,543.62 96,543.96 97,544.26 98,544.52 99,544.73 100,544.87 101,544.94 102,544.92 103,544.84 104,544.69 105,544.49 106,544.23 107,543.93 108,543.58 109,543.2 110,542.78 111,542.3 112,541.45 113,540.26 114,538.89 115,537.5 116,536.23 117,535.14 118,534.06 119,533 120,531.96 121,530.95 122,529.99 123,529.08 124,528.24 125,527.39 126,526.53 127,525.69 128,524.91 129,524.22 130,523.66 131,523.26 132,523 133,522.76 134,522.53 135,522.32 136,522.13 137,521.96 138,521.82 139,521.7 140,521.6 141,521.54 142,521.51 143,521.5 144,521.5 145,521.5 146,521.5 147,521.5 148,521.5 149,521.5 150,521.5 151,521.6 152,521.88 153,522.29 154,522.8 155,523.38 156,523.99 157,524.86 158,525.99 159,527.31 160,528.73 161,530.2 162,531.63 163,532.96 164,534.3 165,535.84 166,537.43 167,538.9 168,540.09 169,540.84 170,540.99 171,540.77 172,540.37 173,539.87 174,539.37 175,538.97 176,538.76 177,538.75 178,538.75 179,538.75 180,538.75 181,538.75 182,538.75 183,538.75 184,538.75 185,538.75 186,538.75 187,538.72 188,538.66 189,538.58 190,538.48 191,538.36 192,538.23 193,538.09 194,537.95 195,537.82 196,537.68 197,537.54 198,537.38 199,537.22 200,537.03 201,536.83 202,536.6 203,536.34 204,536.06 205,535.69 206,535.05 207,534.2 208,533.21 209,532.18 210,531.17 211,530.27 212,529.56 213,529.11 214,529 215,529.02 216,529.07 217,529.14 218,529.23 219,529.33 220,529.48 221,529.8 222,530.23 223,530.72 224,531.21 225,531.62 226,531.97 227,532.3 228,532.62 229,532.93 230,533.24 231,533.56 232,533.89 233,534.23 234,534.57 235,534.9 236,535.24 237,535.59 238,535.98 239,536.4 240,536.88 241,537.56 242,538.49 243,539.48 244,540.34 245,540.89 246,540.99 247,540.81 248,540.48 249,540.03 250,539.5 251,538.94 252,538.38 253,537.87 254,537.41 255,536.94 256,536.46 257,535.97 258,535.47 259,534.96 260,534.45 261,533.93 262,533.4 263,532.85 264,532.28 265,531.67 266,531.04 267,530.41 268,529.77 269,529.14 270,528.53 271,527.94 272,527.4 273,526.9 274,526.46 275,526.05 276,525.67 277,525.3 278,524.96 279,524.62 280,524.3 281,523.99 282,523.69 283,523.4 284,523.11 285,522.81 286,522.5 287,522.17 288,521.82 289,521.48 290,521.16 291,520.87 292,520.64 293,520.47 294,520.38 295,520.42 296,520.63 297,520.97 298,521.39 299,521.83 300,522.25 301,522.66 302,523.11 303,523.6 304,524.11 305,524.62 306,525.12 307,525.6 308,526.04 309,526.43 310,526.77 311,527.11 312,527.44 313,527.76 314,528.06 315,528.33 316,528.57 317,528.77 318,528.92 319,529.02 320,529.1 321,529.17 322,529.24 323,529.29 324,529.33 325,529.36 326,529.38 327,529.31 328,529.03 329,528.58 330,527.98 331,527.27 332,526.5 333,525.7 334,524.92 335,524.18 336,523.54 337,523.02 338,522.64 339,522.27 340,521.91 341,521.56 342,521.24 343,520.95 344,520.71 345,520.52 346,520.41 347,520.38 348,520.41 349,520.5 350,520.62 351,520.77 352,520.93 353,521.09 354,521.25 355,521.38 356,521.48 357,521.55 358,521.62 359,521.69 360,521.75 361,521.81 362,521.85 363,521.87 364,521.86 365,521.45 366,520.69 367,519.8 368,519.01 369,518.55 370,518.52 371,518.64 372,518.85 373,519.12 374,519.43 375,519.76 376,520.1 377,520.41 378,520.79 379,521.25 380,521.75 381,522.24 382,522.67 383,523 384,523.17 385,523.07 386,522.43 387,521.39 388,520.14 389,518.85 390,517.7 391,516.76 392,515.91 393,515.05 394,514.14 395,513.11 396,511.86 397,510.18 398,508.16 399,505.96 400,503.74 401,501.68 402,499.94 403,498.65 404,497.48 405,496.34 406,495.29 407,494.39 408,493.7 409,493.29 410,493.2 411,493.2 412,493.2 413,493.2 414,493.2 415,493.2 416,493.2 417,493.09 418,492.79 419,492.37 420,491.89 421,490.89 422,489.57 423,488.5 424,488.2 425,488.2 426,488.2 427,488.2 428,488.2 429,488.2 430,488.2 431,489.01 432,490.87 433,492.95 434,494.4 435,495.16 436,495.76 437,496.27 438,496.76 439,497.27 440,497.87 441,498.52 442,499.21 443,499.92 444,500.63 445,501.32 446,501.98 447,502.59 448,503.14 449,503.6 450,503.99 451,504.36 452,504.72 453,505.02 454,505.22 455,505.3 456,505.3 457,505.3 458,505.3 459,505.3 460,505.3 461,505.3 462,505.3 463,505.33 464,506.27 465,507.86 466,509.23 467,509.6 468,509.6 469,509.6 470,509.6 471,509.6 472,509.6 473,509.6 474,509.6 475,509.6 476,509.6 477,509.6 478,509.6 479,509.54 480,509.43 481,509.28 482,509.12 483,508.97 484,508.84 485,508.77 486,508.8 487,509.35 488,510.4 489,511.8 490,513.41 491,515.08 492,516.65 493,517.98 494,519.09 495,520.18 496,521.25 497,522.29 498,523.31 499,524.3 500,525.25 501,526.18 502,527.07 503,527.94 504,528.9 505,529.91 506,530.88 507,531.76 508,532.47 509,532.95 510,533.13 511,533.13 512,533.13 513,533.13 514,533.13 515,533.13 516,533.13 517,533.13 518,533.08 519,532.77 520,532.21 521,531.48 522,530.66 523,529.83 524,529.06 525,528.42 526,528.01 527,527.88 528,528.17 529,528.82 530,529.71 531,530.71 532,531.68 533,532.49 534,533.03 535,533.24 536,533.4 537,533.55 538,533.68 539,533.8 540,533.9 541,533.97 542,534.03 543,534.06 544,534.05 545,533.82 546,533.32 547,532.61 548,531.74 549,530.76 550,529.72 551,528.69 552,527.54 553,526.04 554,524.53 555,523.38 556,522.57 557,521.83 558,521.17 559,520.57 560,520.05 561,519.6 562,519.23 563,518.91 564,518.62 565,518.33 566,518.06 567,517.82 568,517.6 569,517.43 570,517.29 571,517.21 572,517.19 573,517.31 574,517.59 575,517.99 576,518.48 577,519.02 578,519.56 579,520.08 580,520.53 581,520.87 582,521.1 583,521.27 584,521.41 585,521.54 586,521.68 587,521.84 588,522.05 589,522.33 590,522.87 591,523.68 592,524.68 593,525.8 594,526.96 595,528.1 596,529.14 597,530.09 598,531.14 599,532.23 600,533.3 601,534.28 602,535.09 603,535.68 604,535.99 605,536.2 606,536.39 607,536.56 608,536.72 609,536.85 610,536.97 611,537.07 612,537.15 613,537.21 614,537.24 615,537.25 616,537.25 617,537.24 618,537.22 619,537.19 620,537.16 621,537.13 622,537.1 623,537.06 624,537.02 625,536.98 626,536.95 627,536.91 628,536.88 629,536.85 630,536.82 631,536.78 632,536.74 633,536.71 634,536.67 635,536.63 636,536.6 637,536.57 638,536.54 639,536.52 640,536.51 641,536.5 642,536.7 643,537.52 644,538.82 645,540.42 646,542.15 647,543.86 648,545.35 649,546.5 650,547.59 651,548.71 652,549.71 653,550.49 654,550.9 655,550.92 656,550.82 657,550.63 658,550.37 659,550.05 660,549.69 661,549.29 662,548.88 663,548.45 664,548.01 665,547.32 666,546.53 667,545.97 668,545.89 669,546.03 670,546.25 671,546.55 672,547.05 673,548.08 674,549.38 675,550.63 676,551.56 677,551.88 678,551.88 679,551.88 680,551.88 681,551.88 682,551.88 683,551.88 684,551.88 685,551.84 686,551.62 687,551.25 688,550.75 689,550.17 690,549.52 691,548.86 692,548.21 693,547.6 694,547.07 695,546.59 696,546.11 697,545.65 698,545.18 699,544.71 700,544.22 701,543.7 702,543.16 703,542.59 704,541.91 705,541.08 706,540.14 707,539.15 708,538.17 709,537.26 710,536.46 711,535.85 712,535.46 713,535.33 714,535.25 715,535.18 716,535.12 717,535.07 718,535.03 719,535.01 720,535 721,535.4 722,536.24 723,537.02 724,537.25 725,537.25 726,537.25 727,537.25 728,537.25 729,537.25 730,537.25 731,537.25 732,537.25 733,537.25 734,537.25 735,537.25 736,537.25 737,537.25 738,537.25 739,537.27 740,537.57 741,538.18 742,538.98 743,539.84 744,540.63 745,541.24 746,541.55 747,541.49 748,541.19 749,540.71 750,540.12 751,539.46 752,538.8 753,538.2 754,537.7 755,537.25 756,536.82 757,536.39 758,535.97 759,535.56 760,535.15 761,534.74 762,534.34 763,533.94 764,533.53 765,533.13 766,532.74 767,532.39 768,532.06 769,531.73 770,531.39 771,531.03 772,530.62 773,530.15 774,529.6 775,528.91 776,527.89 777,526.63 778,525.29 779,523.97 780,522.82 781,521.76 782,520.67 783,519.57 784,518.49 785,517.47 786,516.53 787,515.7 788,515.02 789,514.52 790,514.18 791,513.92 792,513.69 793,513.5 794,513.33 795,513.17 796,513.01 797,512.85 798,512.66 799,512.44 800,512.13 801,511.81 802,511.6 803,511.59 804,511.76 805,512.05 806,512.4 807,512.78 808,513.11 809,513.35 810,513.44 811,513.44 812,513.44 813,513.44 814,513.42 815,513.06 816,512.31 817,511.34 818,510.26 819,509.23 820,508.39 821,507.88 822,507.68 823,507.52 824,507.37 825,507.24 826,507.13 827,507.03 828,506.96 829,506.91 830,506.88 831,506.89 832,507.01 833,507.23 834,507.51 835,507.81 836,508.08 837,508.28 838,508.37 839,508.38 840,508.38 841,508.38 842,508.38 843,508.38 844,508.38 845,508.38 846,508.38 847,508.38 848,508.3 849,507.85 850,507.27 851,506.9 852,506.88 853,506.9 854,506.93 855,506.98 856,507.04 857,507.11 858,507.18 859,507.28 860,507.47 861,507.79 862,508.22 863,508.72 864,509.28 865,509.87 866,510.47 867,511.11 868,511.9 869,512.78 870,513.74 871,514.72 872,515.67 873,516.57 874,517.37 875,518.19 876,519.06 877,519.95 878,520.84 879,521.7 880,522.5 881,523.21 882,523.82 883,524.28 884,524.58 885,524.69 886,524.67 887,524.6 888,524.51 889,524.38 890,524.22 891,524.04 892,523.85 893,523.61 894,523.12 895,522.59 896,522.27 897,522.31 898,522.53 899,522.83 900,523.12 901,523.42 902,523.74 903,524.09 904,524.45 905,524.81 906,525.16 907,525.48 908,525.76 909,526.01 910,526.23 911,526.44 912,526.65 913,526.89 914,527.17 915,527.5 916,528.02 917,528.77 918,529.65 919,530.57 920,531.41 921,532.07 922,532.45 923,532.48 924,532.37 925,532.16 926,531.89 927,531.57 928,531.24 929,530.92 930,530.62 931,530.35 932,530.06 933,529.77 934,529.46 935,529.16 936,528.86 937,528.56 938,528.28 939,528 940,527.75 941,527.51 942,527.26 943,527.03 944,526.79 945,526.57 946,526.35 947,526.15 948,525.96 949,525.78 950,525.62 951,525.48 952,525.34 953,525.21 954,525.09 955,524.98 956,524.88 957,524.79 958,524.71 959,524.66 960,524.62 961,524.58 962,524.53 963,524.45 964,524.31 965,523.49 966,522.02 967,520.25 968,518.54 969,517.21 970,515.98 971,514.73 972,513.55 973,512.52 974,511.73 975,511.25 976,510.97 977,510.72 978,510.49 979,510.31 980,510.16 981,510.06 982,510.01 983,510.02 984,510.13 985,510.35 986,510.63 987,510.95 988,511.28 989,511.6 990,511.88 991,512.12 992,512.36 993,512.6 994,512.84 995,513.09 996,513.34 997,513.61 998,513.9 999,514.22 1000,514.56 1001,514.91 1002,515.27 1003,515.62 1004,515.95 1005,516.25 1006,516.51 1007,516.74 1008,516.95 1009,517.16 1010,517.38 1011,517.64 1012,517.95 1013,518.33 1014,518.88 1015,519.55 1016,520.32 1017,521.16 1018,522.04 1019,522.91 1020,523.75 1021,524.66 1022,525.68 1023,526.68 1024,527.54 1025,528.12 1026,528.45" fill="none" stroke="#1e1e82" stroke-width="1.1"/>
<rect x="0.5" y="482.5" width="84" height="14" fill="#f0f0f0" stroke="#cfcfcf" stroke-width="1"/>
<rect x="2" y="485" width="3" height="9" fill="#00d000"/><rect x="5" y="485" width="3" height="9" fill="#ff0000"/><rect x="8" y="485" width="3" height="9" fill="#000080"/>
<text x="13.3" y="493.2" font-size="10" fill="#222" font-weight="normal" text-anchor="start" >MACD (12 26 9)</text>
<g shape-rendering="crispEdges">
<line x1="0" y1="565.5" x2="1224.5" y2="565.5" stroke="#222" stroke-width="1" />
<line x1="0" y1="604.5" x2="1224.5" y2="604.5" stroke="#383838" stroke-width="1" />
</g>
<polyline points="0.97,574.89 3.35,579.31 5.73,583.36 8.12,587.11 10.5,591.23 12.88,593.6 15.27,592.21 17.65,587.42 20.03,574.67 22.42,570.66 24.8,571.55 27.18,576.96 29.57,580.21 31.95,582.29 34.33,585.13 36.72,590.13 39.1,595.07 41.48,598.79 43.87,601.64 46.25,601.66 48.63,599.8 51.02,598.91 53.4,600.15 55.78,601.84 58.17,602.9 60.55,603.88 62.93,604.46 65.32,603.8 67.7,600.94 70.08,597.63 72.47,595.57 74.85,594.1 77.23,592.78 79.62,590.85 82,587.26 84.42,585.19 86.84,587.12 89.26,591.76 91.68,598.25 94.1,596.68 96.52,593.53 98.94,591.98 101.35,591.08 103.77,590.31 106.19,589.48 108.61,588.82 111.03,587.93 113.45,585.86 115.87,579.73 118.29,569.51 120.71,564.59 123.13,564.91 125.55,565.34 127.97,565.38 130.39,563.07 132.81,563.11 135.23,564.75 137.65,569.05 140.06,571.45 142.48,569.54 144.9,567 147.32,567.87 149.74,575.98 152.16,582.84 154.58,589.38 157,594.68 159.34,599.67 161.68,603.2 164.02,603.68 166.35,601.12 168.69,597.48 171.03,592.24 173.37,585.7 175.71,581.63 178.05,582.31 180.39,583.3 182.73,582.79 185.06,581.76 187.4,580.56 189.74,578.78 192.08,576.29 194.42,574.05 196.76,573 199.1,574.28 201.44,576.39 203.77,576.09 206.11,572.6 208.45,568.79 210.79,564.64 213.13,562.73 215.47,565.27 217.81,569.92 220.15,578.33 222.48,586.51 224.82,594.97 227.16,601.42 229.5,602.9 231.88,601.6 234.27,599.91 236.65,599.3 239.03,601.28 241.42,604.3 243.8,605.81 246.18,603.41 248.57,598.8 250.95,591.3 253.33,583.66 255.72,576.72 258.1,570.58 260.48,565.81 262.87,563.69 265.25,566.34 267.63,569.13 270.02,568.68 272.4,567.16 274.78,566 277.17,564.99 279.55,564.56 281.93,564.7 284.32,565.02 286.7,565.77 289.08,566.42 291.47,565.55 293.85,564.61 296.23,565.08 298.62,567.17 301,576.43 303.37,589.74 305.74,600.18 308.11,596.89 310.48,592.36 312.85,591.32 315.23,590.91 317.6,591.15 319.97,595.11 322.34,598.3 324.71,596.47 327.08,592.01 329.45,586.76 331.82,579.64 334.19,572.69 336.56,565.71 338.94,564.23 341.31,563.84 343.68,563.65 346.05,563.71 348.42,564.41 350.79,565.6 353.16,568.76 355.53,570.97 357.9,572.21 360.27,573.09 362.65,573.82 365.02,572.98 367.39,568.6 369.76,566.48 372.13,568.15 374.5,571.94 376.85,579.34 379.2,585 381.55,588.48 383.9,588.06 386.25,584.27 388.6,575.58 390.95,565.95 393.3,564.24 395.65,563.86 398,563.66 400.35,563.85 402.7,565.4 405.05,566.44 407.4,566.37 409.75,566.19 412.1,565.93 414.45,565.3 416.8,564.09 419.15,562.95 421.5,562.34 423.85,561.88 426.2,561.78 428.55,562.55 430.9,564.23 433.25,573.15 435.6,579.56 437.95,579.56 440.3,577.71 442.65,573.86 445,572.81 447.34,573.02 449.68,575.34 452.02,576.75 454.35,576.52 456.69,576.02 459.03,575.11 461.37,573.56 463.71,573.47 466.05,579.54 468.39,580.5 470.73,580.5 473.06,580.16 475.4,574.69 477.74,571 480.08,568.1 482.42,566.21 484.76,566.37 487.1,570.24 489.44,581.96 491.77,592.76 494.11,595.82 496.45,597.18 498.79,597.75 501.13,597.46 503.47,597.05 505.81,597.67 508.15,600.32 510.48,602.33 512.82,603.53 515.16,603.64 517.5,597.38 519.77,588.92 522.05,580.01 524.32,572.34 526.6,567.45 528.87,569.26 531.15,575.03 533.42,591.79 535.69,596.54 537.97,597.37 540.24,596.72 542.52,594.9 544.79,591.96 547.06,585.67 549.34,578.73 551.61,571.35 553.89,566.47 556.16,567.03 558.44,568.81 560.71,571.83 562.98,573 565.26,572.89 567.53,572.72 569.81,572.63 572.08,572.76 574.35,573.33 576.63,577.49 578.9,583.15 581.18,586.12 583.45,585.54 585.73,585.69 588,591.36 590.39,596.38 592.79,594.75 595.18,590.9 597.57,588.14 599.96,590.26 602.36,592.69 604.75,592.57 607.14,592.32 609.54,592 611.93,591.65 614.32,591.22 616.71,590.61 619.11,589.69 621.5,586.87 623.89,584.36 626.29,586.49 628.68,591.5 631.07,591.3 633.46,585.4 635.86,584.63 638.25,584.29 640.64,585.17 643.04,590.57 645.43,597.58 647.82,602.48 650.21,602.71 652.61,601.12 655,597.88 657.38,587.79 659.76,584.92 662.14,584.28 664.52,585.72 666.9,585.63 669.27,584.26 671.65,587.04 674.03,591.61 676.41,597.23 678.79,600.19 681.17,597.63 683.55,593.53 685.93,591.85 688.31,590.98 690.69,590.27 693.06,589.32 695.44,587.6 697.82,585.01 700.2,582.52 702.58,580.24 704.96,577.75 707.34,574.06 709.72,569.86 712.1,567.44 714.48,567.62 716.85,568.52 719.23,571.58 721.61,582.77 723.99,592.66 726.37,599.57 728.75,596.19 731.12,594.86 733.5,594.58 735.88,595.21 738.25,596.24 740.62,597.35 743,598.65 745.38,599.24 747.75,591.4 750.12,590.22 752.5,584.83 754.88,578.84 757.25,576.16 759.62,575.26 762,575.69 764.38,574.99 766.75,570.94 769.12,568.12 771.5,567.18 773.88,566.52 776.25,565.88 778.62,565 781,564.11 783.38,563.64 785.75,563.73 788.12,564.05 790.5,564.45 792.88,564.87 795.25,565.41 797.62,565.82 800,565.78 802.35,565.35 804.71,565.17 807.06,567.32 809.42,570.73 811.77,572.62 814.13,571.46 816.48,568.7 818.84,565.89 821.19,564.56 823.55,565.14 825.9,566.42 828.26,567.59 830.61,568.27 832.97,568.86 835.32,569.21 837.68,568.88 840.03,567.12 842.39,564.91 844.74,563.4 847.1,563.41 849.45,564.2 851.81,565.65 854.16,570.81 856.52,575.14 858.87,575.04 861.23,574.6 863.58,575.2 865.94,580.21 868.29,586.64 870.65,590.57 873,592.62 875.4,594.38 877.8,596.57 880.2,598.83 882.6,600.14 885,598.27 887.4,591.97 889.8,584.58 892.2,577.91 894.6,570.46 897,566.47 899.4,570.29 901.8,577.29 904.2,582.92 906.6,584.85 909,582.51 911.4,582.09 913.8,583.66 916.2,587.6 918.6,592.73 921,597.64 923.4,601.05 925.8,596.15 928.2,586.42 930.6,575.86 933,571.69 935.4,569.27 937.8,567.86 940.2,566.9 942.6,566.51 945,568.35 947.38,568.75 949.76,567.3 952.14,566.15 954.52,566.87 956.9,568.76 959.27,571.26 961.65,573.96 964.03,573.1 966.41,567.81 968.79,564.94 971.17,564.34 973.55,564.41 975.93,565.56 978.31,568.42 980.69,572.23 983.06,573.73 985.44,574.61 987.82,575.7 990.2,577.64 992.58,577.56 994.96,575.91 997.34,575.76 999.72,577.69 1002.1,585.58 1004.48,590.79 1006.85,590.82 1009.23,586.3 1011.61,583.66 1013.99,585.14 1016.37,588.89 1018.75,596.85 1021.13,601.73 1023.51,601.09 1025.89,597.33" fill="none" stroke="#111" stroke-width="1.1"/>
<polyline points="0.97,574.89 3.35,576.37 5.73,579.19 8.12,583.26 10.5,587.24 12.88,590.65 15.27,592.35 17.65,591.08 20.03,584.77 22.42,577.58 24.8,572.29 27.18,573.05 29.57,576.24 31.95,579.82 34.33,582.54 36.72,585.85 39.1,590.11 41.48,594.66 43.87,598.5 46.25,600.7 48.63,601.03 51.02,600.12 53.4,599.62 55.78,600.3 58.17,601.63 60.55,602.87 62.93,603.75 65.32,604.05 67.7,603.07 70.08,600.79 72.47,598.05 74.85,595.77 77.23,594.15 79.62,592.58 82,590.3 84.42,587.77 86.84,586.52 89.26,588.02 91.68,592.38 94.1,595.56 96.52,596.15 98.94,594.06 101.35,592.2 103.77,591.12 106.19,590.29 108.61,589.54 111.03,588.74 113.45,587.53 115.87,584.5 118.29,578.36 120.71,571.27 123.13,566.34 125.55,564.95 127.97,565.21 130.39,564.6 132.81,563.85 135.23,563.64 137.65,565.64 140.06,568.42 142.48,570.01 144.9,569.33 147.32,568.13 149.74,570.28 152.16,575.56 154.58,582.73 157,588.97 159.34,594.58 161.68,599.19 164.02,602.19 166.35,602.67 168.69,600.76 171.03,596.95 173.37,591.8 175.71,586.52 178.05,583.21 180.39,582.41 182.73,582.8 185.06,582.62 187.4,581.7 189.74,580.37 192.08,578.54 194.42,576.37 196.76,574.45 199.1,573.78 201.44,574.56 203.77,575.59 206.11,575.03 208.45,572.49 210.79,568.68 213.13,565.39 215.47,564.21 217.81,565.97 220.15,571.17 222.48,578.25 224.82,586.6 227.16,594.3 229.5,599.76 231.88,601.97 234.27,601.47 236.65,600.27 239.03,600.16 241.42,601.63 243.8,603.8 246.18,604.51 248.57,602.67 250.95,597.83 253.33,591.25 255.72,583.89 258.1,576.99 260.48,571.04 262.87,566.7 265.25,565.28 267.63,566.39 270.02,568.05 272.4,568.32 274.78,567.28 277.17,566.05 279.55,565.18 281.93,564.75 284.32,564.76 286.7,565.16 289.08,565.74 291.47,565.91 293.85,565.53 296.23,565.08 298.62,565.62 301,569.56 303.37,577.78 305.74,588.78 308.11,595.6 310.48,596.48 312.85,593.52 315.23,591.53 317.6,591.13 319.97,592.39 322.34,594.85 324.71,596.63 327.08,595.59 329.45,591.75 331.82,586.14 334.19,579.7 336.56,572.68 338.94,567.54 341.31,564.59 343.68,563.91 346.05,563.73 348.42,563.92 350.79,564.57 353.16,566.26 355.53,568.44 357.9,570.64 360.27,572.09 362.65,573.04 365.02,573.3 367.39,571.8 369.76,569.35 372.13,567.74 374.5,568.86 376.85,573.14 379.2,578.76 381.55,584.27 383.9,587.18 386.25,586.94 388.6,582.64 390.95,575.26 393.3,568.59 395.65,564.68 398,563.92 400.35,563.79 402.7,564.3 405.05,565.23 407.4,566.07 409.75,566.33 412.1,566.16 414.45,565.8 416.8,565.1 419.15,564.11 421.5,563.12 423.85,562.39 426.2,562 428.55,562.07 430.9,562.85 433.25,566.64 435.6,572.32 437.95,577.43 440.3,578.95 442.65,577.05 445,574.8 447.34,573.23 449.68,573.72 452.02,575.04 454.35,576.2 456.69,576.43 459.03,575.88 461.37,574.9 463.71,574.05 466.05,575.52 468.39,577.84 470.73,580.18 473.06,580.39 475.4,578.45 477.74,575.28 480.08,571.27 482.42,568.44 484.76,566.89 487.1,567.61 489.44,572.86 491.77,581.65 494.11,590.18 496.45,595.25 498.79,596.92 501.13,597.46 503.47,597.42 505.81,597.4 508.15,598.35 510.48,600.11 512.82,602.06 515.16,603.17 517.5,601.52 519.77,596.65 522.05,588.77 524.32,580.42 526.6,573.27 528.87,569.68 531.15,570.58 533.42,578.69 535.69,587.79 537.97,595.24 540.24,596.88 542.52,596.33 544.79,594.52 547.06,590.84 549.34,585.45 551.61,578.58 553.89,572.19 556.16,568.29 558.44,567.44 560.71,569.23 562.98,571.21 565.26,572.57 567.53,572.87 569.81,572.74 572.08,572.7 574.35,572.9 576.63,574.52 578.9,577.99 581.18,582.25 583.45,584.94 585.73,585.79 588,587.53 590.39,591.14 592.79,594.16 595.18,594.01 597.57,591.26 599.96,589.77 602.36,590.36 604.75,591.84 607.14,592.53 609.54,592.3 611.93,591.99 614.32,591.62 616.71,591.16 619.11,590.5 621.5,589.06 623.89,586.97 626.29,585.91 628.68,587.45 631.07,589.76 633.46,589.4 635.86,587.11 638.25,584.77 640.64,584.7 643.04,586.68 645.43,591.11 647.82,596.87 650.21,600.92 652.61,602.1 655,600.57 657.38,595.6 659.76,590.2 662.14,585.66 664.52,584.97 666.9,585.21 669.27,585.21 671.65,585.65 674.03,587.64 676.41,591.96 678.79,596.34 681.17,598.35 683.55,597.12 685.93,594.34 688.31,592.12 690.69,591.04 693.06,590.19 695.44,589.06 697.82,587.31 700.2,585.04 702.58,582.59 704.96,580.17 707.34,577.35 709.72,573.89 712.1,570.45 714.48,568.31 716.85,567.86 719.23,569.24 721.61,574.29 723.99,582.33 726.37,591.66 728.75,596.14 731.12,596.87 733.5,595.21 735.88,594.88 738.25,595.35 740.62,596.27 743,597.41 745.38,598.41 747.75,596.43 750.12,593.62 752.5,588.82 754.88,584.63 757.25,579.94 759.62,576.75 762,575.7 764.38,575.31 766.75,573.87 769.12,571.35 771.5,568.74 773.88,567.27 776.25,566.53 778.62,565.8 781,565 783.38,564.25 785.75,563.83 788.12,563.81 790.5,564.08 792.88,564.46 795.25,564.91 797.62,565.36 800,565.67 802.35,565.65 804.71,565.43 807.06,565.94 809.42,567.74 811.77,570.22 814.13,571.6 816.48,570.93 818.84,568.69 821.19,566.39 823.55,565.2 825.9,565.38 828.26,566.38 830.61,567.43 832.97,568.24 835.32,568.78 837.68,568.98 840.03,568.4 842.39,566.97 844.74,565.14 847.1,563.91 849.45,563.67 851.81,564.42 854.16,566.89 856.52,570.53 858.87,573.66 861.23,574.93 863.58,574.95 865.94,576.67 868.29,580.68 870.65,585.81 873,589.94 875.4,592.52 877.8,594.52 880.2,596.59 882.6,598.51 885,599.08 887.4,596.79 889.8,591.61 892.2,584.82 894.6,577.65 897,571.61 899.4,569.07 901.8,571.35 904.2,576.83 906.6,581.69 909,583.42 911.4,583.15 913.8,582.75 916.2,584.45 918.6,588 921,592.66 923.4,597.14 925.8,598.28 928.2,594.54 930.6,586.15 933,577.99 935.4,572.27 937.8,569.61 940.2,568.01 942.6,567.09 945,567.25 947.38,567.87 949.76,568.13 952.14,567.4 954.52,566.77 956.9,567.26 959.27,568.96 961.65,571.33 964.03,572.77 966.41,571.63 968.79,568.62 971.17,565.7 973.55,564.56 975.93,564.77 978.31,566.13 980.69,568.74 983.06,571.46 985.44,573.53 987.82,574.68 990.2,575.98 992.58,576.97 994.96,577.04 997.34,576.41 999.72,576.46 1002.1,579.68 1004.48,584.69 1006.85,589.06 1009.23,589.3 1011.61,586.93 1013.99,585.03 1016.37,585.9 1018.75,590.29 1021.13,595.83 1023.51,599.89 1025.89,600.05" fill="none" stroke="#ff0000" stroke-width="1.1"/>
<rect x="0.5" y="556.5" width="108" height="14" fill="#f0f0f0" stroke="#cfcfcf" stroke-width="1"/>
<rect x="2" y="559" width="4.5" height="9" fill="#000"/><rect x="6.5" y="559" width="4.5" height="9" fill="#ff0000"/>
<text x="13.3" y="567.3" font-size="10" fill="#222" font-weight="normal" text-anchor="start" >Stochastique (14 3 3)</text>
<g shape-rendering="crispEdges">
<line x1="0" y1="627.5" x2="1224.5" y2="627.5" stroke="#3434e0" stroke-width="1" />
<line x1="0" y1="643.5" x2="1224.5" y2="643.5" stroke="#6a6ae8" stroke-width="1" />
</g>
<polyline points="0.97,632.26 3.35,632.16 5.73,632.87 8.12,633.34 10.5,633.71 12.88,632.68 15.27,633.04 17.65,630.79 20.03,630.26 22.42,629.7 24.8,632.02 27.18,633 29.57,632.96 31.95,633.15 34.33,634.1 36.72,635.46 39.1,635.73 41.48,636.88 43.87,635.75 46.25,636.69 48.63,637.3 51.02,638.1 53.4,638.7 55.78,639.23 58.17,640.74 60.55,641.1 62.93,642.06 65.32,644.2 67.7,641.24 70.08,640.03 72.47,640.44 74.85,640.03 77.23,639.1 79.62,638.25 82,639 84.42,638.31 86.84,639.86 89.26,641.33 91.68,642.36 94.1,642.39 96.52,642.37 98.94,640.49 101.35,640.52 103.77,639.9 106.19,639.78 108.61,637.73 111.03,635.21 113.45,632.54 115.87,631.46 118.29,630.71 120.71,630.05 123.13,628.35 125.55,628.78 127.97,628.2 130.39,627.82 132.81,629.66 135.23,632 137.65,632.01 140.06,630.97 142.48,630.42 144.9,629.74 147.32,631.39 149.74,632.74 152.16,634.32 154.58,635.43 157,637.22 159.34,638.97 161.68,640.5 164.02,643.17 166.35,643.56 168.69,642.78 171.03,641.47 173.37,635.64 175.71,634.63 178.05,635.97 180.39,636.37 182.73,637.16 185.06,637.06 187.4,636.95 189.74,636.21 192.08,636.49 194.42,636.83 196.76,636.56 199.1,635.5 201.44,635.41 203.77,634.81 206.11,633.85 208.45,632.8 210.79,631.9 213.13,631.12 215.47,635.05 217.81,637.67 220.15,637 222.48,637.6 224.82,637.44 227.16,637.63 229.5,637.06 231.88,636.04 234.27,637.06 236.65,637.67 239.03,637.23 241.42,642.09 243.8,641.23 246.18,639.36 248.57,637.96 250.95,636.5 253.33,635.12 255.72,634.11 258.1,634.27 260.48,635.06 262.87,635.36 265.25,635.89 267.63,632.84 270.02,632.95 272.4,631.24 274.78,630.03 277.17,630.17 279.55,629.9 281.93,630.29 284.32,630.87 286.7,631.43 289.08,629.68 291.47,629.37 293.85,629.43 296.23,629.75 298.62,631.7 301,634.97 303.37,635.6 305.74,635.66 308.11,634.6 310.48,634.87 312.85,634.75 315.23,634.97 317.6,634.93 319.97,635.94 322.34,637.13 324.71,634.4 327.08,634.18 329.45,632.93 331.82,630.97 334.19,629.69 336.56,628.76 338.94,628.03 341.31,627.87 343.68,628.16 346.05,628.51 348.42,628.28 350.79,629.7 353.16,631.72 355.53,630.37 357.9,630.48 360.27,631.78 362.65,631.24 365.02,628.7 367.39,627 369.76,628.94 372.13,631.51 374.5,631.61 376.85,633.11 379.2,632.81 381.55,634.66 383.9,632.48 386.25,630.09 388.6,627.17 390.95,627.14 393.3,626.1 395.65,625.32 398,624 400.35,622.94 402.7,623.32 405.05,623.12 407.4,625.15 409.75,625.7 412.1,625.17 414.45,624.65 416.8,625.21 419.15,624.76 421.5,623.95 423.85,623.85 426.2,623.29 428.55,624.43 430.9,628.85 433.25,630 435.6,629.88 437.95,629.66 440.3,629.16 442.65,629.32 445,629.17 447.34,629.32 449.68,630.06 452.02,629.63 454.35,629.31 456.69,629.25 459.03,628.48 461.37,628.5 463.71,630.35 466.05,631.1 468.39,631.54 470.73,630.52 473.06,629.96 475.4,629.41 477.74,628.82 480.08,629.21 482.42,627.97 484.76,629.28 487.1,633.37 489.44,634.72 491.77,635.16 494.11,636.44 496.45,635.39 498.79,634.97 501.13,634.84 503.47,635.03 505.81,636.36 508.15,637.07 510.48,638.12 512.82,637.76 515.16,637.13 517.5,635.27 519.77,634.58 522.05,634.47 524.32,633.49 526.6,630.74 528.87,631.73 531.15,634.76 533.42,635.6 535.69,636.62 537.97,636.71 540.24,636.62 542.52,635.86 544.79,635.06 547.06,634.29 549.34,631.87 551.61,630.21 553.89,629.89 556.16,631.75 558.44,630.54 560.71,630.73 562.98,630.39 565.26,629.85 567.53,631.65 569.81,630.66 572.08,632.12 574.35,632.5 576.63,634.32 578.9,634.02 581.18,633.16 583.45,633.04 585.73,633.7 588,635.09 590.39,636.74 592.79,635.96 595.18,635 597.57,637.05 599.96,637.99 602.36,637.78 604.75,638.52 607.14,637.6 609.54,638.19 611.93,637.2 614.32,636.98 616.71,635.22 619.11,636.9 621.5,637.12 623.89,637.3 626.29,637.24 628.68,636.53 631.07,635.52 633.46,634.02 635.86,635.69 638.25,636.63 640.64,636.28 643.04,637.2 645.43,640.41 647.82,643.62 650.21,643.15 652.61,642.85 655,639.94 657.38,636.07 659.76,638.9 662.14,638.43 664.52,636.5 666.9,636.03 669.27,637.96 671.65,638.58 674.03,640.14 676.41,639.54 678.79,638.62 681.17,638.92 683.55,639.3 685.93,637.58 688.31,637.32 690.69,637 693.06,636.34 695.44,635.9 697.82,635.67 700.2,636.2 702.58,636.28 704.96,636.5 707.34,636.17 709.72,634.15 712.1,634.55 714.48,634.27 716.85,634.56 719.23,635.81 721.61,637.35 723.99,637.85 726.37,638.28 728.75,635.44 731.12,636.22 733.5,636.87 735.88,637.35 738.25,639.15 740.62,640.03 743,638.68 745.38,637.05 747.75,634.98 750.12,636.18 752.5,634.26 754.88,635.04 757.25,634.39 759.62,634.44 762,634.63 764.38,633.91 766.75,634.53 769.12,634.14 771.5,633.15 773.88,633.96 776.25,632.06 778.62,630.12 781,629.45 783.38,628.37 785.75,628.61 788.12,628.54 790.5,628.1 792.88,629.34 795.25,628.44 797.62,628.27 800,628.45 802.35,627.11 804.71,628.57 807.06,628.9 809.42,630.04 811.77,628.95 814.13,629.06 816.48,624.61 818.84,624.98 821.19,624.26 823.55,624.47 825.9,625.19 828.26,626.07 830.61,625.72 832.97,625.33 835.32,626.68 837.68,626.04 840.03,625.31 842.39,625.11 844.74,623.63 847.1,623.78 849.45,623.06 851.81,625.18 854.16,627.95 856.52,628.14 858.87,627.83 861.23,627.76 863.58,630.51 865.94,631.81 868.29,633.78 870.65,634.31 873,633.07 875.4,632.88 877.8,632.98 880.2,633.97 882.6,636.72 885,637.11 887.4,634.45 889.8,631.38 892.2,629.6 894.6,630.41 897,631.26 899.4,634.33 901.8,633.78 904.2,635.03 906.6,634.5 909,632.49 911.4,634.62 913.8,636.08 916.2,636.64 918.6,636.84 921,637.81 923.4,639.65 925.8,635.85 928.2,633.1 930.6,633.48 933,632.61 935.4,632.61 937.8,632.01 940.2,631.3 942.6,632.66 945,634.42 947.38,631.51 949.76,632.52 952.14,632.19 954.52,632.73 956.9,633.08 959.27,632.26 961.65,630.35 964.03,629.54 966.41,626.35 968.79,626.08 971.17,626.64 973.55,625.67 975.93,625.38 978.31,627.23 980.69,628.44 983.06,628.88 985.44,628.8 987.82,629.34 990.2,629.56 992.58,629.6 994.96,630.68 997.34,630.63 999.72,631.41 1002.1,632.01 1004.48,631.74 1006.85,630.88 1009.23,632.69 1011.61,631.66 1013.99,634.45 1016.37,635.02 1018.75,636.88 1021.13,638.33 1023.51,636.93 1025.89,636.29" fill="none" stroke="#222" stroke-width="1.15"/>
<rect x="0.5" y="612.5" width="50" height="14" fill="#f0f0f0" stroke="#cfcfcf" stroke-width="1"/>
<rect x="2" y="615" width="9" height="9" fill="#000"/>
<text x="13.3" y="622.8" font-size="10" fill="#222" font-weight="normal" text-anchor="start" >RSI (14)</text>
<g shape-rendering="crispEdges">
<line x1="1224.5" y1="4.5" x2="1228" y2="4.5" stroke="#b8b8b8" stroke-width="1" />
<line x1="1224.5" y1="33.5" x2="1228" y2="33.5" stroke="#b8b8b8" stroke-width="1" />
<line x1="1224.5" y1="62.5" x2="1228" y2="62.5" stroke="#b8b8b8" stroke-width="1" />
<line x1="1224.5" y1="90.5" x2="1228" y2="90.5" stroke="#b8b8b8" stroke-width="1" />
<line x1="1224.5" y1="119.5" x2="1228" y2="119.5" stroke="#b8b8b8" stroke-width="1" />
<line x1="1224.5" y1="148.5" x2="1228" y2="148.5" stroke="#b8b8b8" stroke-width="1" />
<line x1="1224.5" y1="177.5" x2="1228" y2="177.5" stroke="#b8b8b8" stroke-width="1" />
<line x1="1224.5" y1="206.5" x2="1228" y2="206.5" stroke="#b8b8b8" stroke-width="1" />
<line x1="1224.5" y1="234.5" x2="1228" y2="234.5" stroke="#b8b8b8" stroke-width="1" />
<line x1="1224.5" y1="263.5" x2="1228" y2="263.5" stroke="#b8b8b8" stroke-width="1" />
<line x1="1224.5" y1="292.5" x2="1228" y2="292.5" stroke="#b8b8b8" stroke-width="1" />
<line x1="1224.5" y1="321.5" x2="1228" y2="321.5" stroke="#b8b8b8" stroke-width="1" />
<line x1="1224.5" y1="350.5" x2="1228" y2="350.5" stroke="#b8b8b8" stroke-width="1" />
<line x1="1224.5" y1="378.5" x2="1228" y2="378.5" stroke="#b8b8b8" stroke-width="1" />
<line x1="1224.5" y1="407.5" x2="1228" y2="407.5" stroke="#b8b8b8" stroke-width="1" />
<line x1="1224.5" y1="436.5" x2="1228" y2="436.5" stroke="#b8b8b8" stroke-width="1" />
<line x1="1224.5" y1="465.5" x2="1228" y2="465.5" stroke="#b8b8b8" stroke-width="1" />
</g>
<text x="1230.3" y="7.8" font-size="10" fill="#222" font-weight="normal" text-anchor="start" letter-spacing="-0.15">130 000</text>
<text x="1230.3" y="36.6" font-size="10" fill="#222" font-weight="normal" text-anchor="start" letter-spacing="-0.15">125 000</text>
<text x="1230.3" y="65.4" font-size="10" fill="#222" font-weight="normal" text-anchor="start" letter-spacing="-0.15">120 000</text>
<text x="1230.3" y="94.2" font-size="10" fill="#222" font-weight="normal" text-anchor="start" letter-spacing="-0.15">115 000</text>
<text x="1230.3" y="123" font-size="10" fill="#222" font-weight="normal" text-anchor="start" letter-spacing="-0.15">110 000</text>
<text x="1230.3" y="151.8" font-size="10" fill="#222" font-weight="normal" text-anchor="start" letter-spacing="-0.15">105 000</text>
<text x="1230.3" y="180.6" font-size="10.5" fill="#222" font-weight="bold" text-anchor="start" >100 000</text>
<text x="1230.3" y="209.4" font-size="10" fill="#222" font-weight="normal" text-anchor="start" letter-spacing="-0.15">95 000</text>
<text x="1230.3" y="238.2" font-size="10" fill="#222" font-weight="normal" text-anchor="start" letter-spacing="-0.15">90 000</text>
<text x="1230.3" y="267" font-size="10" fill="#222" font-weight="normal" text-anchor="start" letter-spacing="-0.15">85 000</text>
<text x="1230.3" y="295.8" font-size="10" fill="#222" font-weight="normal" text-anchor="start" letter-spacing="-0.15">80 000</text>
<text x="1230.3" y="324.6" font-size="10" fill="#222" font-weight="normal" text-anchor="start" letter-spacing="-0.15">75 000</text>
<text x="1230.3" y="353.4" font-size="10" fill="#222" font-weight="normal" text-anchor="start" letter-spacing="-0.15">70 000</text>
<text x="1230.3" y="382.2" font-size="10" fill="#222" font-weight="normal" text-anchor="start" letter-spacing="-0.15">65 000</text>
<text x="1230.3" y="411" font-size="10" fill="#222" font-weight="normal" text-anchor="start" letter-spacing="-0.15">60 000</text>
<text x="1230.3" y="439.8" font-size="10" fill="#222" font-weight="normal" text-anchor="start" letter-spacing="-0.15">55 000</text>
<text x="1230.3" y="468.6" font-size="10.5" fill="#222" font-weight="bold" text-anchor="start" >50 000</text>
<defs><linearGradient id="yg" x1="0" y1="0" x2="0" y2="1"><stop offset="0" stop-color="#ffe84a"/><stop offset="1" stop-color="#f0b400"/></linearGradient></defs>
<rect x="1228.5" y="99" width="48.5" height="12.5" fill="#f4f4f4" stroke="#c8c8c8" stroke-width="1" rx="1"/>
<text x="1230.3" y="108.6" font-size="10" fill="#222" font-weight="normal" text-anchor="start" letter-spacing="-0.2">112 988,72</text>
<rect x="1228.5" y="86" width="60" height="12.5" fill="url(#yg)" stroke="#e0c060" stroke-width="1" rx="1"/>
<text x="1230.3" y="95.6" font-size="10" fill="#111" font-weight="normal" text-anchor="start" letter-spacing="-0.2">114 404,00</text>
<rect x="1228.5" y="125" width="48.5" height="12.5" fill="#f4f4f4" stroke="#c8c8c8" stroke-width="1" rx="1"/>
<text x="1230.3" y="134.6" font-size="10" fill="#ff6060" font-weight="normal" text-anchor="start" letter-spacing="-0.2">108 003,26</text>
<line x1="1224.5" y1="94.5" x2="1228.5" y2="94.5" stroke="#222" stroke-width="1" />
<line x1="1224.5" y1="102.5" x2="1228.5" y2="102.5" stroke="#555" stroke-width="1" />
<line x1="1224.5" y1="131.5" x2="1228.5" y2="131.5" stroke="#ff6060" stroke-width="1" />
<line x1="1224.5" y1="500.5" x2="1228" y2="500.5" stroke="#b8b8b8" stroke-width="1" />
<text x="1230.3" y="504.1" font-size="10" fill="#222" font-weight="normal" text-anchor="start" >5 000</text>
<line x1="1224.5" y1="523.5" x2="1228.5" y2="523.5" stroke="#ff5a28" stroke-width="1" />
<line x1="1224.5" y1="528.5" x2="1228.5" y2="528.5" stroke="#1e1e82" stroke-width="1" />
<line x1="1224.5" y1="536.5" x2="1228.5" y2="536.5" stroke="#ff0000" stroke-width="1" />
<rect x="1228.5" y="513" width="34.5" height="12.5" fill="#f4f4f4" stroke="#c8c8c8" stroke-width="1" rx="1"/>
<text x="1230.3" y="522.6" font-size="10" fill="#ff5a28" font-weight="normal" text-anchor="start" letter-spacing="-0.2">1 233,9</text>
<rect x="1228.5" y="522.8" width="31.3" height="9" fill="#f4f4f4" stroke="#c8c8c8" stroke-width="1" rx="1"/>
<text x="1230.3" y="532.4" font-size="10" fill="#1e1e82" font-weight="normal" text-anchor="start" letter-spacing="-0.2">335,45</text>
<rect x="1228.5" y="532.3" width="34.5" height="12.5" fill="#f4f4f4" stroke="#c8c8c8" stroke-width="1" rx="1"/>
<text x="1230.3" y="541.9" font-size="10" fill="#ff0000" font-weight="normal" text-anchor="start" letter-spacing="-0.2">-898,48</text>
<text x="1230.3" y="565.1" font-size="10.5" fill="#111" font-weight="bold" text-anchor="start" >100</text>
<text x="1230.3" y="587.1" font-size="10" fill="#222" font-weight="normal" text-anchor="start" >50</text>
<line x1="1224.5" y1="596.5" x2="1228.5" y2="596.5" stroke="#111" stroke-width="1" />
<line x1="1224.5" y1="598.5" x2="1228.5" y2="598.5" stroke="#ff0000" stroke-width="1" />
<rect x="1228.5" y="587" width="32.3" height="11.5" fill="#f4f4f4" stroke="#c8c8c8" stroke-width="1" rx="1"/>
<text x="1230.3" y="596.6" font-size="10" fill="#222" font-weight="normal" text-anchor="start" letter-spacing="-0.2">22,797</text>
<rect x="1228.5" y="599" width="32.3" height="12.5" fill="#f4f4f4" stroke="#c8c8c8" stroke-width="1" rx="1"/>
<text x="1230.3" y="608.6" font-size="10" fill="#ff0000" font-weight="normal" text-anchor="start" letter-spacing="-0.2">17,711</text>
<text x="1230.3" y="621" font-size="10.5" fill="#111" font-weight="bold" text-anchor="start" >100</text>
<line x1="1224.5" y1="636.5" x2="1228.5" y2="636.5" stroke="#111" stroke-width="1" />
<rect x="1228.5" y="629.8" width="32.3" height="13" fill="#f4f4f4" stroke="#c8c8c8" stroke-width="1" rx="1"/>
<text x="1230.3" y="639.4" font-size="10" fill="#222" font-weight="normal" text-anchor="start" letter-spacing="-0.2">46,779</text>
<text x="1230.3" y="654.2" font-size="10.5" fill="#111" font-weight="bold" text-anchor="start" >0</text>
<g shape-rendering="crispEdges">
<line x1="10.5" y1="655" x2="10.5" y2="658.5" stroke="#b8b8b8" stroke-width="1" />
<line x1="82.5" y1="655" x2="82.5" y2="658.5" stroke="#b8b8b8" stroke-width="1" />
<line x1="157.5" y1="655" x2="157.5" y2="658.5" stroke="#b8b8b8" stroke-width="1" />
<line x1="229.5" y1="655" x2="229.5" y2="658.5" stroke="#b8b8b8" stroke-width="1" />
<line x1="301.5" y1="655" x2="301.5" y2="658.5" stroke="#b8b8b8" stroke-width="1" />
<line x1="374.5" y1="655" x2="374.5" y2="658.5" stroke="#b8b8b8" stroke-width="1" />
<line x1="445.5" y1="655" x2="445.5" y2="658.5" stroke="#b8b8b8" stroke-width="1" />
<line x1="517.5" y1="655" x2="517.5" y2="658.5" stroke="#b8b8b8" stroke-width="1" />
<line x1="588.5" y1="655" x2="588.5" y2="658.5" stroke="#b8b8b8" stroke-width="1" />
<line x1="655.5" y1="655" x2="655.5" y2="658.5" stroke="#b8b8b8" stroke-width="1" />
<line x1="728.5" y1="655" x2="728.5" y2="658.5" stroke="#b8b8b8" stroke-width="1" />
<line x1="800.5" y1="655" x2="800.5" y2="658.5" stroke="#b8b8b8" stroke-width="1" />
<line x1="873.5" y1="655" x2="873.5" y2="658.5" stroke="#b8b8b8" stroke-width="1" />
<line x1="945.5" y1="655" x2="945.5" y2="658.5" stroke="#b8b8b8" stroke-width="1" />
<line x1="1018.5" y1="655" x2="1018.5" y2="658.5" stroke="#b8b8b8" stroke-width="1" />
<line x1="1092.5" y1="655" x2="1092.5" y2="658.5" stroke="#b8b8b8" stroke-width="1" />
<line x1="1164.5" y1="655" x2="1164.5" y2="658.5" stroke="#b8b8b8" stroke-width="1" />
</g>
<text x="82" y="668.3" font-size="10" fill="#222" font-weight="normal" text-anchor="middle" >juil.</text>
<text x="157" y="668.3" font-size="10" fill="#222" font-weight="normal" text-anchor="middle" >août</text>
<text x="229.5" y="668.3" font-size="10" fill="#222" font-weight="normal" text-anchor="middle" >sept.</text>
<text x="301" y="668.3" font-size="10" fill="#222" font-weight="normal" text-anchor="middle" >oct.</text>
<text x="374.5" y="668.3" font-size="10" fill="#222" font-weight="normal" text-anchor="middle" >nov.</text>
<text x="445" y="668.3" font-size="10" fill="#222" font-weight="normal" text-anchor="middle" >déc.</text>
<text x="517.5" y="668.5" font-size="11" fill="#111" font-weight="bold" text-anchor="middle" >2025</text>
<text x="588" y="668.3" font-size="10" fill="#222" font-weight="normal" text-anchor="middle" >févr.</text>
<text x="655" y="668.3" font-size="10" fill="#222" font-weight="normal" text-anchor="middle" >mars</text>
<text x="728.75" y="668.3" font-size="10" fill="#222" font-weight="normal" text-anchor="middle" >avr.</text>
<text x="800" y="668.3" font-size="10" fill="#222" font-weight="normal" text-anchor="middle" >mai</text>
<text x="873" y="668.3" font-size="10" fill="#222" font-weight="normal" text-anchor="middle" >juin</text>
<text x="945" y="668.3" font-size="10" fill="#222" font-weight="normal" text-anchor="middle" >juil.</text>
<text x="1018.75" y="668.3" font-size="10" fill="#222" font-weight="normal" text-anchor="middle" >août</text>
<text x="1092.5" y="668.3" font-size="10" fill="#222" font-weight="normal" text-anchor="middle" >sept.</text>
<text x="1164" y="668.3" font-size="10" fill="#222" font-weight="normal" text-anchor="middle" >oct.</text>
</svg></body></html>
